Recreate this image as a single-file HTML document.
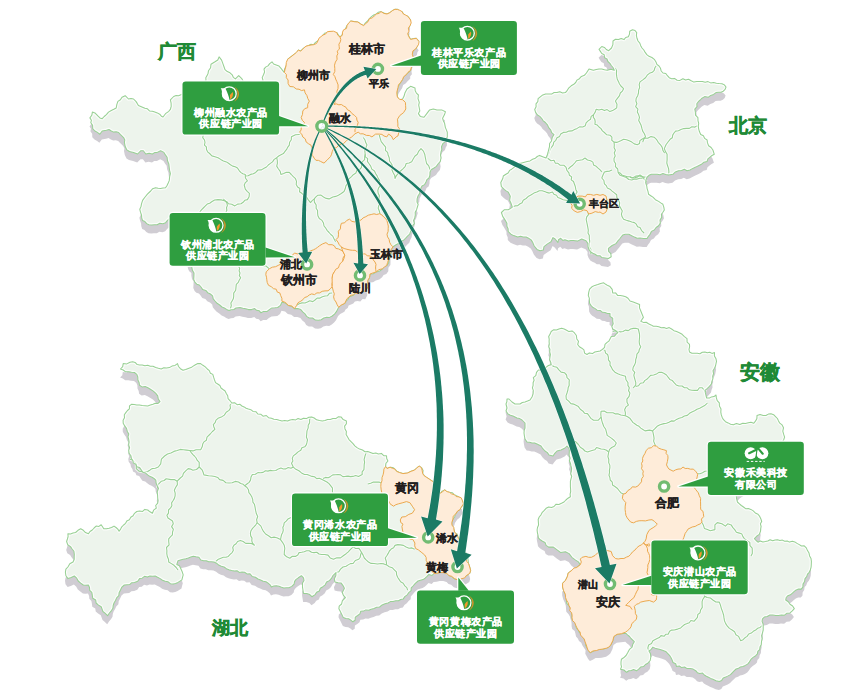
<!DOCTYPE html><html><head><meta charset="utf-8"><style>html,body{margin:0;padding:0;background:#fff;}body{width:859px;height:700px;overflow:hidden;position:relative;font-family:"Liberation Sans",sans-serif;}svg{position:absolute;left:0;top:0;display:block}.bt{font-family:"Liberation Sans",sans-serif;font-weight:bold;}</style></head><body>
<svg width="859" height="700" viewBox="0 0 859 700">
<defs><filter id="sh" x="-5%" y="-5%" width="110%" height="110%"><feGaussianBlur stdDeviation="0.75"/></filter></defs>
<polygon points="89.9,117.9 91.8,115.3 92.4,112.1 94.9,112.9 98.1,116.2 99.9,117.9 102.2,118.7 104.2,116.5 106.4,114.6 108.5,112.1 111.3,110.5 113.8,109.3 116.2,108.0 116.8,104.6 117.9,101.4 120.4,99.8 122.0,97.3 125.2,95.7 128.5,99.0 131.0,98.6 133.5,99.0 135.9,101.4 137.2,103.4 138.4,105.5 142.5,107.2 144.9,108.2 147.4,108.8 149.5,110.9 152.4,111.3 154.8,112.1 157.3,112.9 159.7,114.2 161.4,116.2 163.0,117.0 165.5,113.7 168.8,111.3 170.5,109.1 171.2,106.4 171.1,103.1 170.4,99.8 173.7,96.5 176.1,95.6 178.6,95.7 182.7,94.0 185.4,94.1 187.9,93.4 190.3,92.2 192.8,91.6 195.0,90.0 196.6,88.1 199.0,87.2 201.1,85.9 202.6,84.0 204.1,82.0 206.0,80.5 205.8,77.8 207.1,75.6 208.1,73.2 208.5,70.7 210.6,67.8 211.0,64.2 215.0,61.8 217.8,60.0 219.1,56.9 221.6,60.1 222.8,63.4 224.0,66.7 225.0,69.6 227.3,71.6 230.0,72.8 232.2,74.8 233.3,77.3 235.4,78.9 238.7,75.6 242.0,78.9 243.6,82.0 245.9,83.1 248.7,83.0 250.5,85.4 253.0,86.0 255.4,84.4 258.4,83.9 260.8,82.2 263.1,80.5 262.2,77.6 263.5,74.8 264.6,72.0 264.0,69.1 265.6,67.1 268.0,65.9 269.7,63.6 272.0,61.8 273.6,64.0 276.2,65.0 279.0,66.1 281.0,68.3 282.5,70.4 284.3,72.4 284.6,69.1 286.0,66.0 287.8,62.9 287.6,59.3 290.8,56.9 294.0,54.4 296.7,52.7 298.4,50.0 300.6,51.2 303.9,47.9 306.2,46.6 308.7,45.5 311.0,44.2 313.6,44.7 315.5,42.4 318.0,40.7 319.7,38.8 322.0,37.5 323.0,35.0 324.9,33.0 327.7,32.7 330.0,31.4 333.3,32.4 336.8,32.6 338.3,34.9 340.0,37.0 342.0,35.1 342.9,32.5 345.1,30.7 345.8,28.0 347.0,25.6 349.0,23.4 350.8,21.0 354.3,21.4 357.8,22.0 360.6,24.0 363.6,25.6 365.3,23.1 367.6,21.0 369.4,18.6 371.5,16.7 373.7,15.0 376.4,14.0 378.4,12.2 381.0,11.6 383.9,13.0 387.0,14.0 389.8,12.7 392.3,10.8 395.0,9.3 397.6,9.2 399.5,11.4 402.0,11.6 403.4,13.8 405.3,15.5 407.8,16.3 410.6,20.0 409.6,22.8 410.0,25.7 408.4,28.1 407.6,30.8 407.7,33.7 409.1,36.6 410.6,39.4 413.4,38.6 416.3,38.3 419.1,41.7 417.8,43.8 417.4,46.3 415.5,48.9 412.9,50.9 412.3,54.3 413.4,57.7 412.4,60.3 411.9,62.9 412.3,65.7 410.6,67.7 410.6,70.3 408.2,72.5 406.0,74.9 403.5,76.6 402.6,79.4 400.3,82.9 399.0,85.1 398.0,87.4 396.9,92.0 397.3,94.5 397.4,97.0 399.5,100.0 402.6,98.9 404.1,96.1 404.9,93.1 407.0,89.0 410.6,86.3 415.0,88.0 415.2,90.8 416.4,93.1 418.4,95.0 418.0,98.7 419.3,102.4 418.7,105.2 419.3,108.0 419.8,110.9 418.4,113.6 420.3,116.4 424.0,117.3 426.8,113.6 429.6,109.9 433.3,109.0 437.0,109.9 441.7,109.9 445.4,111.8 444.5,114.6 442.6,118.3 443.3,120.7 444.5,122.9 445.4,127.6 446.4,129.9 447.3,132.2 447.3,136.9 446.1,139.1 445.4,141.6 442.8,143.7 441.5,146.8 441.8,149.5 441.0,152.0 440.5,155.0 441.0,158.0 440.3,161.4 438.0,164.0 436.4,166.4 434.0,168.0 431.5,169.5 430.0,172.0 429.9,175.1 429.0,178.0 426.9,179.6 426.0,182.0 424.6,184.6 422.0,186.0 420.0,190.0 419.7,193.2 418.0,196.0 417.1,198.9 417.0,202.0 418.2,204.4 417.4,207.0 416.6,209.7 415.2,212.2 415.3,215.2 414.7,217.9 413.6,220.5 414.4,223.6 412.4,225.9 412.0,228.7 410.6,231.4 409.7,234.2 407.5,236.2 405.5,238.4 403.6,240.1 401.4,241.5 398.9,243.3 396.1,244.7 393.0,246.8 390.9,249.6 390.9,253.0 390.8,256.5 388.8,259.3 388.7,262.8 386.7,265.6 384.0,266.4 382.5,268.8 379.7,271.0 376.2,271.9 373.4,273.7 370.0,274.0 369.5,277.4 367.8,280.3 367.1,283.5 367.8,286.6 365.7,290.8 362.9,290.4 360.7,292.9 357.9,292.5 355.3,292.9 353.7,295.0 351.4,296.1 349.0,297.0 348.1,299.4 345.9,301.0 344.8,303.3 340.6,305.4 338.5,307.5 336.4,311.7 334.5,314.1 332.2,316.0 329.6,317.4 326.6,317.3 323.8,318.0 321.2,319.7 318.4,320.3 315.4,320.1 312.6,318.0 309.2,318.0 306.6,316.4 305.0,313.8 302.7,311.9 300.8,309.6 297.7,308.6 294.5,308.6 291.7,306.3 288.2,305.4 285.5,303.0 281.9,302.3 280.4,305.4 277.7,307.5 274.8,307.8 271.9,307.9 269.3,309.6 266.9,311.6 263.6,311.4 261.0,312.8 259.3,310.8 256.6,310.3 254.7,308.6 251.6,309.6 248.4,309.6 245.7,308.7 242.8,308.3 240.0,307.5 236.0,308.0 233.9,309.5 231.4,309.7 229.0,310.4 226.6,309.4 224.4,308.0 222.0,307.0 219.7,305.0 217.1,303.3 215.0,301.0 213.2,298.8 212.6,295.9 210.4,294.0 207.7,292.7 205.8,290.4 202.7,289.6 201.0,287.0 199.3,285.0 196.8,284.2 195.0,282.4 193.7,279.4 193.9,276.2 194.0,273.0 192.4,270.4 191.8,267.3 191.8,264.6 189.6,262.8 188.5,260.5 188.0,258.0 186.7,255.7 186.9,252.8 185.3,250.7 184.2,248.3 183.0,246.0 182.4,243.5 180.8,241.4 179.8,239.1 179.3,236.5 177.0,234.8 177.0,232.0 175.1,229.8 174.2,227.2 172.7,224.8 172.0,222.0 169.8,218.5 167.5,220.4 165.6,222.7 162.9,223.7 159.8,223.3 157.2,224.8 154.4,224.7 151.7,225.0 148.9,224.8 146.7,223.6 144.9,221.6 142.6,220.6 141.7,217.8 141.5,214.9 140.5,212.2 139.8,209.3 141.0,206.6 141.5,203.8 142.6,200.4 144.7,197.5 147.4,194.2 150.7,191.0 152.7,188.7 155.6,187.7 158.1,188.2 160.6,188.5 163.0,188.1 165.5,187.7 166.9,185.7 168.0,183.6 169.3,180.4 169.6,177.0 170.4,173.7 169.6,170.4 169.2,167.2 168.8,163.9 167.5,160.7 167.1,157.3 165.4,154.9 163.9,152.4 160.6,150.7 157.3,152.4 154.6,152.6 152.4,154.0 149.1,153.2 145.8,154.0 143.3,150.7 140.9,150.7 137.6,154.0 133.5,152.4 129.4,151.5 126.9,149.9 125.2,146.6 124.4,142.5 124.8,139.9 123.6,137.6 120.3,134.3 118.6,132.5 116.2,131.8 113.6,132.1 111.3,131.0 109.0,129.5 106.4,130.2 102.2,131.0 99.8,134.3 97.5,132.4 94.9,131.0 92.7,128.7 92.6,125.3 90.8,122.8 91.4,120.2" fill="#d0cdd3" transform="translate(-0.4,8.5)" filter="url(#sh)"/>
<polygon points="632.5,29.8 635.0,30.5 636.7,32.6 636.4,35.5 637.0,38.3 638.0,41.0 639.8,43.1 640.7,45.7 642.0,48.0 643.8,50.0 645.2,52.4 646.8,54.6 649.0,56.3 651.9,57.5 654.3,59.3 656.0,62.0 656.9,64.4 659.0,66.0 660.5,68.3 661.2,71.0 663.0,73.0 665.8,73.5 667.4,75.7 669.2,77.7 671.6,78.7 674.5,78.4 677.1,80.2 679.9,80.4 682.9,78.7 685.6,80.0 688.5,79.3 691.2,80.8 693.9,82.1 696.8,81.5 699.6,81.5 702.4,81.4 705.2,82.2 708.0,81.6 710.7,82.9 713.6,82.5 716.4,83.2 719.2,83.5 722.0,83.7 724.4,84.9 726.0,87.0 725.1,89.4 723.3,91.2 721.0,92.3 718.5,92.2 716.0,92.6 713.6,94.4 710.7,95.4 708.1,97.3 704.7,96.6 702.0,98.2 700.2,100.0 698.3,101.7 696.8,103.8 697.0,106.7 694.8,109.2 695.4,112.2 695.5,115.2 697.9,117.6 698.0,120.6 698.7,123.4 698.3,126.3 698.7,129.1 699.5,131.8 700.7,134.5 703.4,135.8 704.7,138.4 707.1,140.0 707.5,142.9 708.6,145.7 711.1,147.5 712.9,150.0 714.3,154.3 712.0,155.5 710.0,157.1 707.9,158.8 707.1,161.4 703.9,162.2 701.4,164.3 698.5,165.7 695.7,167.1 692.8,168.4 690.0,170.0 687.0,170.7 684.3,169.3 681.6,170.5 678.6,170.7 675.4,171.9 672.9,174.3 668.6,175.0 665.7,174.5 662.9,173.6 660.1,174.7 657.1,174.3 654.2,174.2 651.4,174.3 649.0,175.3 647.1,177.1 646.0,179.9 645.7,182.9 646.7,185.7 647.1,188.6 648.0,191.4 648.6,194.3 650.7,195.7 652.9,197.1 655.4,199.7 658.6,201.4 660.7,202.9 662.9,204.3 663.8,207.1 664.3,210.0 662.9,212.2 661.4,214.3 661.7,217.4 660.0,220.0 660.3,223.1 658.6,225.7 656.1,227.5 654.3,230.0 651.4,231.4 650.0,234.3 648.4,236.3 647.1,238.6 643.5,238.5 640.0,238.0 637.1,238.3 634.5,237.1 631.7,235.7 628.9,234.3 625.2,234.3 622.7,235.1 621.1,237.0 619.6,239.0 617.7,241.2 615.9,243.6 612.1,245.5 608.4,248.3 608.6,251.4 610.8,253.7 611.2,256.7 608.4,258.5 605.2,258.0 601.9,257.6 599.9,255.7 597.2,255.7 595.1,254.3 592.8,253.3 590.7,252.0 588.9,249.2 587.9,246.5 588.0,243.6 586.0,240.8 581.7,239.0 577.5,241.1 573.3,240.4 570.8,240.6 568.4,241.1 564.9,239.7 562.8,240.4 560.7,238.3 558.5,239.8 557.9,242.5 555.1,239.0 553.0,237.6 551.0,241.8 547.5,243.9 544.0,246.6 543.3,250.1 540.0,250.8 537.0,249.4 534.2,246.0 532.7,242.4 531.1,239.9 528.6,238.3 526.1,237.0 523.2,237.0 520.5,236.2 517.7,237.0 513.7,235.6 510.9,234.2 508.2,231.5 508.1,228.7 506.9,226.1 506.9,223.2 505.5,220.7 504.2,218.6 502.8,216.6 501.4,212.5 504.2,209.8 508.2,209.8 510.3,208.6 512.3,207.1 510.9,203.0 509.6,200.3 510.3,196.2 508.2,192.1 506.1,190.9 504.2,189.4 501.4,186.7 500.8,182.6 502.8,178.5 503.3,176.0 505.5,174.5 508.1,173.0 509.6,170.4 511.7,169.2 513.7,167.7 516.0,165.1 519.1,163.6 521.8,162.9 524.5,162.2 527.2,161.5 530.0,160.9 532.6,159.3 535.4,158.2 537.3,156.5 539.5,155.4 542.7,156.8 546.0,158.0 547.2,155.3 548.0,152.5 548.7,149.6 549.5,146.7 549.6,143.5 551.5,141.0 552.2,137.6 554.0,134.6 551.7,132.7 550.6,129.8 548.7,127.6 547.4,124.8 545.4,122.5 543.0,120.6 541.6,118.3 539.8,116.4 537.5,115.0 535.6,112.4 534.7,109.4 536.1,106.8 536.0,103.8 537.8,101.7 538.1,98.7 540.3,96.8 542.8,94.9 545.6,93.9 548.7,94.0 551.6,94.1 554.1,92.5 557.0,92.6 559.8,91.7 562.6,92.9 565.4,92.6 567.3,90.3 568.9,87.8 571.2,85.8 573.8,84.3 575.7,82.5 577.0,80.1 579.4,78.7 581.4,76.4 584.4,75.3 586.4,73.0 589.0,69.0 593.4,70.3 596.2,69.6 599.0,69.0 601.8,69.0 604.5,69.8 607.3,70.3 610.8,69.3 614.3,70.3 613.0,67.5 611.3,65.5 609.9,63.4 607.9,61.5 607.0,59.0 604.6,57.8 604.2,54.7 601.8,53.5 600.4,51.4 599.0,49.3 601.8,46.5 604.4,47.4 606.3,49.5 608.7,50.7 611.5,48.0 612.9,44.6 613.0,41.0 615.5,39.3 618.5,39.6 621.2,38.5 624.0,39.6 625.7,37.5 628.3,36.8 629.5,34.1 629.7,31.2" fill="#d0cdd3" transform="translate(-0.4,8.5)" filter="url(#sh)"/>
<polygon points="120.5,369.0 122.7,366.7 123.2,363.6 126.8,363.9 130.0,362.2 132.7,361.8 135.1,362.4 137.2,364.6 139.6,364.9 142.2,365.0 144.9,365.7 147.7,365.2 150.3,366.2 153.0,366.3 155.7,367.4 158.4,368.3 161.2,369.0 163.8,367.8 166.6,367.9 169.4,367.6 172.0,366.1 175.0,365.4 177.5,363.6 178.5,366.5 180.4,368.7 183.0,370.3 185.7,369.5 188.3,368.4 191.0,367.6 193.2,366.1 195.4,364.7 197.8,363.6 200.6,363.6 202.9,365.3 205.3,366.9 207.3,369.0 209.3,370.6 210.4,373.2 212.8,374.4 213.6,377.2 214.5,379.9 215.5,382.6 217.7,384.0 219.9,385.5 221.0,388.0 223.0,389.5 225.1,391.0 226.3,393.4 227.7,395.8 228.1,398.7 230.1,400.8 231.8,403.0 234.6,402.7 237.1,404.7 240.0,404.3 241.9,406.0 244.1,406.9 246.1,408.3 248.4,409.1 250.8,409.7 253.0,411.4 255.9,411.7 257.8,414.0 260.7,414.2 263.0,416.2 266.3,415.5 268.5,417.7 271.4,418.2 273.9,419.3 276.7,419.5 279.3,420.3 282.0,420.9 284.7,420.5 287.5,421.1 290.1,419.9 292.8,419.5 295.6,419.9 298.1,418.5 300.9,419.4 303.5,418.2 306.3,418.6 308.9,417.2 311.6,416.9 314.2,418.0 316.6,419.8 319.5,420.4 322.3,420.9 325.0,420.4 327.5,419.4 330.3,419.5 332.9,418.5 335.8,418.6 338.2,416.8 341.0,416.9 343.2,419.6 346.4,420.9 346.4,423.7 344.6,426.1 345.0,428.9 346.4,431.4 346.1,434.6 347.6,437.1 349.0,439.6 351.0,441.6 353.0,443.6 354.8,445.8 357.0,447.6 359.6,449.1 362.5,450.0 365.0,451.7 367.8,451.4 370.4,452.4 373.0,453.6 375.8,453.0 378.4,453.9 381.4,453.4 383.7,455.7 386.5,455.7 386.7,458.5 387.9,461.0 385.9,463.4 385.5,466.6 387.0,468.5 390.1,467.2 392.7,467.5 394.8,469.0 396.8,471.2 399.4,472.5 402.9,473.6 407.6,473.0 411.1,471.3 414.6,470.1 416.9,467.8 419.2,466.1 421.6,467.8 423.1,470.5 422.7,473.6 424.2,475.6 426.2,477.1 429.7,479.4 433.2,481.8 435.5,484.1 437.2,486.9 438.0,490.0 440.2,493.4 442.1,491.2 444.8,489.9 446.8,491.8 449.5,492.3 452.2,492.7 454.2,494.6 456.5,495.8 458.8,496.9 460.0,499.2 462.3,500.4 463.5,503.9 461.1,507.4 459.8,509.5 457.7,510.9 455.3,514.4 454.7,517.0 453.0,519.0 451.8,522.5 451.7,525.2 453.4,527.5 454.0,530.0 454.8,532.6 457.3,534.3 457.9,537.1 459.4,539.3 460.0,542.0 460.8,544.4 463.0,546.1 462.4,549.2 464.4,551.0 466.2,553.2 465.6,556.2 467.9,558.2 468.2,560.8 468.5,563.5 469.7,567.0 470.6,570.5 469.7,573.4 466.2,575.7 463.8,576.6 462.1,578.6 457.5,579.8 454.2,578.7 451.6,576.3 448.9,575.4 447.0,573.4 443.6,572.5 440.0,572.5 437.0,573.2 434.0,573.5 432.1,575.4 428.9,574.4 427.0,576.4 425.1,578.2 423.0,579.6 420.4,580.2 418.0,581.0 415.3,583.3 413.0,586.0 411.2,587.9 411.1,590.7 409.0,592.4 407.2,594.8 404.8,596.6 403.3,598.9 400.7,599.5 398.5,600.8 395.8,600.8 393.1,601.4 390.4,601.6 388.0,603.0 385.0,603.8 382.1,604.9 379.6,607.0 376.7,607.3 374.0,608.5 371.2,609.2 368.7,610.3 365.9,609.9 363.5,611.1 360.8,611.2 359.9,613.8 357.7,615.5 355.3,617.1 355.1,620.2 352.8,621.8 350.8,620.1 348.6,618.7 345.9,618.4 343.3,617.6 341.8,614.4 340.2,611.3 338.9,608.8 339.2,606.1 341.6,604.0 342.3,600.9 345.4,597.7 343.4,595.4 342.3,592.5 344.4,588.3 343.0,585.6 341.2,583.1 338.1,582.7 335.0,582.0 334.3,578.8 335.8,575.7 336.0,572.6 332.9,575.7 331.4,578.4 329.4,580.6 326.6,582.0 325.2,584.8 322.9,586.7 320.3,588.3 319.3,591.0 316.6,592.3 315.1,594.6 311.9,596.7 309.8,594.6 306.7,593.5 303.5,593.5 303.0,590.3 302.5,587.2 302.5,583.1 304.0,580.6 303.5,577.8 301.4,575.7 298.3,577.8 296.1,579.4 294.6,581.4 294.1,584.1 291.8,586.4 288.9,587.8 286.4,587.7 283.9,587.9 281.5,587.2 279.0,586.3 276.3,585.7 273.8,586.1 271.4,587.0 270.1,584.8 268.1,583.1 266.0,581.7 263.2,581.3 260.6,580.1 258.0,579.0 255.4,577.2 252.1,576.4 250.0,573.7 247.0,573.9 244.6,572.2 242.0,572.1 239.4,572.4 237.0,570.8 234.4,571.0 231.6,570.5 228.9,569.8 226.4,568.7 224.1,567.0 221.3,566.3 218.7,565.1 216.5,563.2 213.9,562.0 211.3,561.8 208.7,561.8 206.2,560.7 203.6,560.7 200.8,560.0 198.9,557.3 196.0,556.8 193.3,556.2 190.8,557.1 188.3,558.0 185.8,558.8 183.1,559.3 180.5,559.9 178.0,560.7 176.8,564.5 179.4,565.7 180.6,568.3 182.1,571.5 183.2,574.8 182.5,577.3 181.9,579.9 178.0,582.4 175.6,583.5 173.1,584.1 170.4,583.7 168.1,581.8 165.2,581.2 162.5,580.2 160.2,578.6 157.6,577.3 155.2,576.0 152.5,576.2 149.9,576.0 147.4,577.1 144.5,576.3 142.2,578.2 139.6,578.6 137.7,581.3 134.5,582.4 131.8,582.7 129.6,584.6 127.0,584.8 124.3,585.0 121.9,587.1 120.5,589.9 119.1,592.7 118.8,595.7 116.6,597.9 115.5,600.5 114.0,603.0 113.2,605.5 112.9,608.3 111.5,610.6 109.4,613.0 107.6,615.7 105.0,613.2 102.9,611.5 102.1,609.2 101.2,606.8 98.5,605.1 96.1,603.0 95.7,600.0 92.7,598.2 92.3,595.2 91.8,592.4 89.7,590.3 89.5,587.5 88.4,585.0 85.8,585.2 83.3,585.0 80.7,583.1 78.2,581.0 76.7,578.2 74.3,576.0 71.2,577.5 68.0,578.6 65.9,575.7 65.4,572.2 65.9,569.2 67.9,567.0 69.8,563.8 73.0,562.0 74.2,559.6 74.2,556.9 74.3,554.3 73.9,551.3 72.1,549.0 70.5,546.6 67.7,544.7 66.6,541.5 67.4,539.0 68.1,536.5 67.9,533.8 70.5,533.9 73.0,532.9 75.6,532.5 78.0,530.3 80.7,528.7 83.3,530.3 85.5,532.6 88.4,533.8 90.0,531.5 92.3,530.0 94.1,528.0 96.1,526.1 98.9,526.4 101.2,524.8 103.8,528.7 106.5,528.7 109.1,528.3 111.6,527.5 114.0,526.1 116.0,527.5 117.8,529.1 119.1,531.2 120.6,529.1 121.8,526.8 123.6,525.0 125.6,523.3 126.8,521.0 129.4,519.7 130.8,517.3 133.1,515.7 134.5,513.3 136.8,511.5 139.5,511.1 142.6,511.4 144.8,509.4 147.7,510.0 150.0,511.8 152.4,513.3 153.6,510.2 156.3,508.2 155.7,505.5 157.7,503.2 158.1,500.6 157.7,498.0 157.6,495.4 157.2,491.8 158.5,488.4 157.2,485.8 156.1,483.1 155.8,480.2 154.0,478.5 152.0,477.2 149.7,476.3 147.7,474.8 145.6,473.1 142.8,472.2 141.2,469.9 139.6,467.5 136.8,466.7 135.9,464.3 133.4,463.1 132.8,460.5 131.4,458.5 130.9,455.7 129.1,453.3 128.7,450.4 129.6,447.7 128.6,444.9 129.1,442.2 128.7,439.5 128.0,436.8 128.8,433.9 127.3,431.4 126.5,428.4 124.7,425.9 123.2,423.2 123.1,420.3 124.5,417.8 124.3,414.8 126.0,412.4 127.5,410.5 129.4,408.8 129.5,405.9 131.4,404.3 134.1,404.6 136.8,404.9 139.5,405.1 142.2,405.6 145.0,405.7 147.7,405.9 150.4,405.1 153.0,404.3 155.3,403.3 158.0,403.4 160.0,401.5 158.3,399.0 157.7,395.9 155.8,393.4 153.3,391.1 150.4,389.3 147.9,387.8 145.2,386.6 142.0,386.9 139.5,385.3 139.1,382.5 137.9,379.9 137.8,377.0 136.8,374.4 134.4,372.5 131.5,372.3 128.7,371.7 125.6,371.8 123.2,370.0" fill="#d0cdd3" transform="translate(-0.4,8.5)" filter="url(#sh)"/>
<polygon points="589.6,289.2 591.9,286.8 594.8,285.4 597.8,284.6 600.7,283.4 603.7,282.8 605.7,284.3 607.8,285.6 610.0,286.6 612.2,289.4 612.7,293.0 615.6,292.9 617.6,295.4 620.4,295.6 623.1,296.0 625.7,296.8 628.0,298.2 630.0,301.0 633.2,302.0 636.4,303.2 639.6,304.6 639.5,307.9 640.8,311.0 642.1,314.2 643.4,317.4 640.8,321.2 643.3,322.4 646.2,322.2 648.5,323.8 651.0,324.9 653.4,326.2 656.2,326.3 658.8,326.8 661.3,327.7 664.0,327.6 666.5,328.4 669.2,327.6 671.6,329.0 673.9,330.7 676.6,331.6 679.3,332.7 682.1,334.3 684.4,336.6 687.0,338.6 687.1,342.2 689.5,344.3 689.6,346.9 689.0,349.4 689.5,352.0 691.9,353.2 694.6,353.3 697.2,353.2 699.9,353.7 702.3,352.2 704.9,352.0 707.3,352.8 709.7,352.2 712.0,353.4 714.5,352.6 714.4,355.9 716.0,358.8 716.5,361.3 716.0,363.7 715.5,366.0 714.5,368.3 713.0,370.7 713.6,373.6 712.7,376.1 712.9,378.9 711.9,381.4 711.4,384.0 709.4,386.3 707.4,388.4 705.0,390.3 705.4,392.9 706.0,395.5 706.7,398.0 709.3,398.1 711.5,396.9 714.0,396.6 716.0,395.0 716.4,397.9 717.2,400.6 719.3,402.8 719.4,406.0 721.0,408.9 720.8,412.2 721.3,414.9 722.2,417.4 723.5,419.7 725.5,421.7 728.1,422.9 730.6,424.2 733.4,424.8 736.4,423.6 739.8,424.5 742.8,423.2 745.5,423.4 748.3,422.7 751.0,422.2 753.8,423.2 755.6,420.9 756.9,418.4 757.0,415.4 760.1,414.5 763.2,415.4 765.9,415.5 768.4,414.1 771.0,413.8 773.6,414.7 775.5,416.6 777.4,418.5 778.5,420.9 779.8,423.2 782.0,424.8 783.5,427.8 782.8,431.1 783.6,434.2 784.6,437.1 783.6,440.0 782.2,442.3 782.1,445.1 780.1,447.2 780.0,450.0 777.7,451.6 777.1,454.3 774.8,455.8 774.6,458.8 773.6,461.2 771.2,462.7 770.0,465.0 768.9,467.6 766.7,469.2 764.5,470.8 762.3,472.3 761.2,474.9 759.5,477.0 756.3,477.6 755.0,480.0 753.1,481.8 750.2,482.0 748.1,483.6 746.6,485.9 744.3,487.2 742.1,488.5 740.0,490.0 737.8,492.5 736.2,495.3 736.6,498.7 737.4,502.0 739.4,503.8 741.3,505.5 743.5,507.0 745.6,508.7 748.4,508.6 750.8,509.4 753.3,510.9 755.3,513.0 758.0,514.2 759.7,516.4 760.9,518.9 761.7,521.5 760.4,523.8 761.1,526.4 760.7,528.8 760.5,531.3 759.3,534.4 756.6,536.3 754.4,538.6 756.1,540.5 758.0,542.2 760.3,540.9 762.9,541.9 765.4,541.6 767.8,541.0 770.1,539.7 772.7,540.7 775.1,540.0 777.5,539.8 779.9,540.5 782.4,540.1 784.7,541.2 787.2,541.0 789.5,542.1 792.4,541.2 794.8,541.9 797.0,543.4 799.3,544.6 801.5,546.0 804.2,545.8 806.3,547.9 807.5,550.6 809.0,553.1 809.6,555.9 811.0,558.5 811.4,561.4 811.3,564.3 811.1,567.2 810.3,570.0 809.2,572.3 807.5,574.2 806.7,576.7 805.0,578.6 804.6,581.5 803.0,584.1 802.9,587.1 801.2,589.1 798.5,589.1 796.2,589.9 794.3,591.4 792.4,593.2 790.4,594.8 787.9,595.7 786.2,597.5 785.7,600.0 788.3,601.7 790.0,604.3 792.6,606.0 794.3,608.6 792.3,610.9 790.0,612.9 787.0,613.2 784.5,615.2 781.4,615.0 778.6,615.4 775.7,615.4 772.9,615.0 769.9,615.0 767.2,616.5 764.3,617.1 762.5,618.9 762.1,621.4 763.2,624.2 763.2,627.1 763.2,630.0 762.5,632.8 761.6,635.6 762.1,638.6 761.5,641.5 761.3,644.4 760.0,647.1 759.7,649.6 757.8,651.4 757.4,653.9 755.7,655.7 753.1,657.4 750.9,659.4 749.3,662.1 747.6,664.1 745.3,665.4 742.9,666.4 740.4,666.9 738.5,668.3 736.1,669.0 734.3,670.7 732.4,672.6 730.5,674.6 728.1,675.9 725.7,677.1 723.2,678.0 721.7,680.4 719.3,681.4 716.0,680.7 712.9,679.3 710.7,678.4 708.5,677.3 706.4,676.3 704.3,675.0 702.6,673.1 699.7,673.5 697.4,672.7 695.7,670.7 693.1,669.1 690.2,668.5 687.1,668.6 684.6,667.0 681.7,667.6 679.3,666.0 676.4,666.4 675.7,663.7 673.0,662.5 672.1,660.0 670.9,657.5 669.5,655.3 667.6,653.3 665.7,651.4 662.5,650.3 659.3,649.3 655.9,648.6 652.9,647.1 651.2,649.3 649.0,651.0 650.5,653.8 650.8,657.0 650.2,660.5 647.8,663.2 645.4,664.5 643.5,666.6 640.6,667.1 638.7,669.2 636.5,670.8 633.6,669.6 631.3,670.6 628.8,670.8 626.6,672.3 623.9,670.0 620.5,669.2 621.5,666.9 621.0,664.4 621.0,662.0 621.4,659.3 623.6,657.8 626.1,655.5 627.8,652.5 629.4,649.4 632.1,647.1 632.8,644.2 634.3,641.7 631.0,638.5 629.5,636.5 627.5,634.9 625.7,633.2 621.4,633.7 617.1,634.3 613.9,636.4 612.8,640.7 610.7,645.0 608.7,646.8 606.4,648.2 602.1,649.2 599.3,649.5 596.0,649.6 593.2,651.3 590.3,652.6 588.5,650.5 587.2,648.0 585.7,645.2 586.0,641.7 584.2,639.0 582.7,636.8 581.7,634.2 579.4,632.4 578.2,630.0 576.4,627.9 575.8,625.1 575.1,622.4 572.6,620.6 572.0,617.8 572.0,615.2 571.7,612.7 570.9,610.4 570.3,607.9 569.0,605.7 566.7,603.3 566.4,600.0 566.2,597.2 565.4,594.4 563.6,590.7 562.6,587.0 562.6,583.3 565.4,580.5 567.3,576.8 568.2,573.1 571.9,570.3 574.7,569.6 576.6,567.5 580.3,564.7 578.4,561.9 575.6,560.1 571.9,557.3 569.1,553.6 565.4,551.7 560.8,552.6 557.1,549.9 553.4,547.1 548.7,547.1 546.1,545.4 545.0,542.4 542.5,541.3 540.3,539.8 538.4,537.8 538.0,535.2 537.4,532.6 537.1,530.0 537.5,527.5 538.6,525.0 538.4,522.4 538.2,519.5 539.2,517.0 541.0,514.8 542.3,512.3 544.3,510.3 546.1,508.3 548.7,507.0 551.5,507.4 554.0,506.5 556.1,504.2 558.9,504.5 561.5,503.3 564.0,502.0 565.9,500.0 568.0,498.2 570.4,496.8 570.1,494.2 570.7,491.7 570.6,489.2 570.4,486.6 570.4,484.0 570.4,481.4 571.0,478.8 571.7,476.3 570.7,473.7 571.4,471.0 571.6,468.3 570.9,465.7 570.4,463.2 569.4,460.7 570.1,458.1 569.1,455.1 569.3,452.1 569.3,449.0 567.0,446.0 565.0,448.0 561.0,450.0 557.0,451.0 554.8,453.4 553.0,456.0 549.0,455.0 547.4,452.6 545.0,451.0 542.8,448.7 541.0,446.0 537.0,444.0 534.6,442.9 532.0,443.0 529.6,442.2 527.0,442.0 525.0,439.0 524.4,436.0 524.0,433.0 524.2,430.4 525.0,428.0 525.0,425.5 525.0,423.0 522.0,420.0 519.7,418.6 517.0,418.0 513.0,416.0 510.4,415.2 508.0,414.0 506.0,411.0 507.0,408.0 506.0,404.0 506.9,401.6 507.0,399.0 509.0,399.0 512.0,402.0 515.0,404.0 517.5,403.9 520.0,404.0 522.3,402.5 525.0,402.0 527.5,401.1 530.0,400.0 532.0,397.0 533.1,393.8 533.3,390.4 532.4,387.8 533.1,385.3 533.1,382.7 534.1,380.2 533.3,377.6 535.8,375.6 536.5,372.4 538.4,370.0 541.2,369.9 543.7,368.8 546.0,367.3 548.4,365.5 551.2,364.7 550.7,362.1 549.6,359.7 550.0,357.0 550.4,354.4 549.7,351.9 549.9,349.2 548.7,346.8 549.3,344.2 549.1,341.7 549.2,339.2 548.7,336.6 550.1,334.1 551.2,331.5 553.5,329.8 556.4,330.0 558.9,329.0 561.6,328.3 564.2,329.0 566.6,330.2 569.0,331.6 572.0,330.9 574.3,332.7 576.4,335.5 576.8,339.0 578.5,341.3 577.7,344.5 579.4,346.8 581.8,348.2 583.9,349.9 584.6,353.1 587.0,354.5 589.3,352.9 592.4,353.6 594.8,352.0 597.5,351.5 600.1,351.0 602.4,349.4 604.6,347.3 605.0,344.3 606.8,342.7 608.8,341.2 610.0,339.0 611.3,336.6 614.3,336.3 615.9,334.3 617.8,332.7 615.5,330.5 612.7,329.0 611.8,326.4 613.2,323.8 612.7,321.2 612.7,318.3 610.0,316.4 610.0,313.5 607.4,313.5 605.0,312.6 602.4,312.3 600.2,310.4 597.1,310.2 594.8,308.4 592.6,307.2 590.9,305.4 589.6,303.3 589.4,300.7 589.3,298.1 588.3,295.6 588.7,292.4" fill="#d0cdd3" transform="translate(-0.4,8.5)" filter="url(#sh)"/>
<polygon points="89.9,117.9 91.8,115.3 92.4,112.1 94.9,112.9 98.1,116.2 99.9,117.9 102.2,118.7 104.2,116.5 106.4,114.6 108.5,112.1 111.3,110.5 113.8,109.3 116.2,108.0 116.8,104.6 117.9,101.4 120.4,99.8 122.0,97.3 125.2,95.7 128.5,99.0 131.0,98.6 133.5,99.0 135.9,101.4 137.2,103.4 138.4,105.5 142.5,107.2 144.9,108.2 147.4,108.8 149.5,110.9 152.4,111.3 154.8,112.1 157.3,112.9 159.7,114.2 161.4,116.2 163.0,117.0 165.5,113.7 168.8,111.3 170.5,109.1 171.2,106.4 171.1,103.1 170.4,99.8 173.7,96.5 176.1,95.6 178.6,95.7 182.7,94.0 185.4,94.1 187.9,93.4 190.3,92.2 192.8,91.6 195.0,90.0 196.6,88.1 199.0,87.2 201.1,85.9 202.6,84.0 204.1,82.0 206.0,80.5 205.8,77.8 207.1,75.6 208.1,73.2 208.5,70.7 210.6,67.8 211.0,64.2 215.0,61.8 217.8,60.0 219.1,56.9 221.6,60.1 222.8,63.4 224.0,66.7 225.0,69.6 227.3,71.6 230.0,72.8 232.2,74.8 233.3,77.3 235.4,78.9 238.7,75.6 242.0,78.9 243.6,82.0 245.9,83.1 248.7,83.0 250.5,85.4 253.0,86.0 255.4,84.4 258.4,83.9 260.8,82.2 263.1,80.5 262.2,77.6 263.5,74.8 264.6,72.0 264.0,69.1 265.6,67.1 268.0,65.9 269.7,63.6 272.0,61.8 273.6,64.0 276.2,65.0 279.0,66.1 281.0,68.3 282.5,70.4 284.3,72.4 284.6,69.1 286.0,66.0 287.8,62.9 287.6,59.3 290.8,56.9 294.0,54.4 296.7,52.7 298.4,50.0 300.6,51.2 303.9,47.9 306.2,46.6 308.7,45.5 311.0,44.2 313.6,44.7 315.5,42.4 318.0,40.7 319.7,38.8 322.0,37.5 323.0,35.0 324.9,33.0 327.7,32.7 330.0,31.4 333.3,32.4 336.8,32.6 338.3,34.9 340.0,37.0 342.0,35.1 342.9,32.5 345.1,30.7 345.8,28.0 347.0,25.6 349.0,23.4 350.8,21.0 354.3,21.4 357.8,22.0 360.6,24.0 363.6,25.6 365.3,23.1 367.6,21.0 369.4,18.6 371.5,16.7 373.7,15.0 376.4,14.0 378.4,12.2 381.0,11.6 383.9,13.0 387.0,14.0 389.8,12.7 392.3,10.8 395.0,9.3 397.6,9.2 399.5,11.4 402.0,11.6 403.4,13.8 405.3,15.5 407.8,16.3 410.6,20.0 409.6,22.8 410.0,25.7 408.4,28.1 407.6,30.8 407.7,33.7 409.1,36.6 410.6,39.4 413.4,38.6 416.3,38.3 419.1,41.7 417.8,43.8 417.4,46.3 415.5,48.9 412.9,50.9 412.3,54.3 413.4,57.7 412.4,60.3 411.9,62.9 412.3,65.7 410.6,67.7 410.6,70.3 408.2,72.5 406.0,74.9 403.5,76.6 402.6,79.4 400.3,82.9 399.0,85.1 398.0,87.4 396.9,92.0 397.3,94.5 397.4,97.0 399.5,100.0 402.6,98.9 404.1,96.1 404.9,93.1 407.0,89.0 410.6,86.3 415.0,88.0 415.2,90.8 416.4,93.1 418.4,95.0 418.0,98.7 419.3,102.4 418.7,105.2 419.3,108.0 419.8,110.9 418.4,113.6 420.3,116.4 424.0,117.3 426.8,113.6 429.6,109.9 433.3,109.0 437.0,109.9 441.7,109.9 445.4,111.8 444.5,114.6 442.6,118.3 443.3,120.7 444.5,122.9 445.4,127.6 446.4,129.9 447.3,132.2 447.3,136.9 446.1,139.1 445.4,141.6 442.8,143.7 441.5,146.8 441.8,149.5 441.0,152.0 440.5,155.0 441.0,158.0 440.3,161.4 438.0,164.0 436.4,166.4 434.0,168.0 431.5,169.5 430.0,172.0 429.9,175.1 429.0,178.0 426.9,179.6 426.0,182.0 424.6,184.6 422.0,186.0 420.0,190.0 419.7,193.2 418.0,196.0 417.1,198.9 417.0,202.0 418.2,204.4 417.4,207.0 416.6,209.7 415.2,212.2 415.3,215.2 414.7,217.9 413.6,220.5 414.4,223.6 412.4,225.9 412.0,228.7 410.6,231.4 409.7,234.2 407.5,236.2 405.5,238.4 403.6,240.1 401.4,241.5 398.9,243.3 396.1,244.7 393.0,246.8 390.9,249.6 390.9,253.0 390.8,256.5 388.8,259.3 388.7,262.8 386.7,265.6 384.0,266.4 382.5,268.8 379.7,271.0 376.2,271.9 373.4,273.7 370.0,274.0 369.5,277.4 367.8,280.3 367.1,283.5 367.8,286.6 365.7,290.8 362.9,290.4 360.7,292.9 357.9,292.5 355.3,292.9 353.7,295.0 351.4,296.1 349.0,297.0 348.1,299.4 345.9,301.0 344.8,303.3 340.6,305.4 338.5,307.5 336.4,311.7 334.5,314.1 332.2,316.0 329.6,317.4 326.6,317.3 323.8,318.0 321.2,319.7 318.4,320.3 315.4,320.1 312.6,318.0 309.2,318.0 306.6,316.4 305.0,313.8 302.7,311.9 300.8,309.6 297.7,308.6 294.5,308.6 291.7,306.3 288.2,305.4 285.5,303.0 281.9,302.3 280.4,305.4 277.7,307.5 274.8,307.8 271.9,307.9 269.3,309.6 266.9,311.6 263.6,311.4 261.0,312.8 259.3,310.8 256.6,310.3 254.7,308.6 251.6,309.6 248.4,309.6 245.7,308.7 242.8,308.3 240.0,307.5 236.0,308.0 233.9,309.5 231.4,309.7 229.0,310.4 226.6,309.4 224.4,308.0 222.0,307.0 219.7,305.0 217.1,303.3 215.0,301.0 213.2,298.8 212.6,295.9 210.4,294.0 207.7,292.7 205.8,290.4 202.7,289.6 201.0,287.0 199.3,285.0 196.8,284.2 195.0,282.4 193.7,279.4 193.9,276.2 194.0,273.0 192.4,270.4 191.8,267.3 191.8,264.6 189.6,262.8 188.5,260.5 188.0,258.0 186.7,255.7 186.9,252.8 185.3,250.7 184.2,248.3 183.0,246.0 182.4,243.5 180.8,241.4 179.8,239.1 179.3,236.5 177.0,234.8 177.0,232.0 175.1,229.8 174.2,227.2 172.7,224.8 172.0,222.0 169.8,218.5 167.5,220.4 165.6,222.7 162.9,223.7 159.8,223.3 157.2,224.8 154.4,224.7 151.7,225.0 148.9,224.8 146.7,223.6 144.9,221.6 142.6,220.6 141.7,217.8 141.5,214.9 140.5,212.2 139.8,209.3 141.0,206.6 141.5,203.8 142.6,200.4 144.7,197.5 147.4,194.2 150.7,191.0 152.7,188.7 155.6,187.7 158.1,188.2 160.6,188.5 163.0,188.1 165.5,187.7 166.9,185.7 168.0,183.6 169.3,180.4 169.6,177.0 170.4,173.7 169.6,170.4 169.2,167.2 168.8,163.9 167.5,160.7 167.1,157.3 165.4,154.9 163.9,152.4 160.6,150.7 157.3,152.4 154.6,152.6 152.4,154.0 149.1,153.2 145.8,154.0 143.3,150.7 140.9,150.7 137.6,154.0 133.5,152.4 129.4,151.5 126.9,149.9 125.2,146.6 124.4,142.5 124.8,139.9 123.6,137.6 120.3,134.3 118.6,132.5 116.2,131.8 113.6,132.1 111.3,131.0 109.0,129.5 106.4,130.2 102.2,131.0 99.8,134.3 97.5,132.4 94.9,131.0 92.7,128.7 92.6,125.3 90.8,122.8 91.4,120.2" fill="#edf4ec"/>
<polygon points="632.5,29.8 635.0,30.5 636.7,32.6 636.4,35.5 637.0,38.3 638.0,41.0 639.8,43.1 640.7,45.7 642.0,48.0 643.8,50.0 645.2,52.4 646.8,54.6 649.0,56.3 651.9,57.5 654.3,59.3 656.0,62.0 656.9,64.4 659.0,66.0 660.5,68.3 661.2,71.0 663.0,73.0 665.8,73.5 667.4,75.7 669.2,77.7 671.6,78.7 674.5,78.4 677.1,80.2 679.9,80.4 682.9,78.7 685.6,80.0 688.5,79.3 691.2,80.8 693.9,82.1 696.8,81.5 699.6,81.5 702.4,81.4 705.2,82.2 708.0,81.6 710.7,82.9 713.6,82.5 716.4,83.2 719.2,83.5 722.0,83.7 724.4,84.9 726.0,87.0 725.1,89.4 723.3,91.2 721.0,92.3 718.5,92.2 716.0,92.6 713.6,94.4 710.7,95.4 708.1,97.3 704.7,96.6 702.0,98.2 700.2,100.0 698.3,101.7 696.8,103.8 697.0,106.7 694.8,109.2 695.4,112.2 695.5,115.2 697.9,117.6 698.0,120.6 698.7,123.4 698.3,126.3 698.7,129.1 699.5,131.8 700.7,134.5 703.4,135.8 704.7,138.4 707.1,140.0 707.5,142.9 708.6,145.7 711.1,147.5 712.9,150.0 714.3,154.3 712.0,155.5 710.0,157.1 707.9,158.8 707.1,161.4 703.9,162.2 701.4,164.3 698.5,165.7 695.7,167.1 692.8,168.4 690.0,170.0 687.0,170.7 684.3,169.3 681.6,170.5 678.6,170.7 675.4,171.9 672.9,174.3 668.6,175.0 665.7,174.5 662.9,173.6 660.1,174.7 657.1,174.3 654.2,174.2 651.4,174.3 649.0,175.3 647.1,177.1 646.0,179.9 645.7,182.9 646.7,185.7 647.1,188.6 648.0,191.4 648.6,194.3 650.7,195.7 652.9,197.1 655.4,199.7 658.6,201.4 660.7,202.9 662.9,204.3 663.8,207.1 664.3,210.0 662.9,212.2 661.4,214.3 661.7,217.4 660.0,220.0 660.3,223.1 658.6,225.7 656.1,227.5 654.3,230.0 651.4,231.4 650.0,234.3 648.4,236.3 647.1,238.6 643.5,238.5 640.0,238.0 637.1,238.3 634.5,237.1 631.7,235.7 628.9,234.3 625.2,234.3 622.7,235.1 621.1,237.0 619.6,239.0 617.7,241.2 615.9,243.6 612.1,245.5 608.4,248.3 608.6,251.4 610.8,253.7 611.2,256.7 608.4,258.5 605.2,258.0 601.9,257.6 599.9,255.7 597.2,255.7 595.1,254.3 592.8,253.3 590.7,252.0 588.9,249.2 587.9,246.5 588.0,243.6 586.0,240.8 581.7,239.0 577.5,241.1 573.3,240.4 570.8,240.6 568.4,241.1 564.9,239.7 562.8,240.4 560.7,238.3 558.5,239.8 557.9,242.5 555.1,239.0 553.0,237.6 551.0,241.8 547.5,243.9 544.0,246.6 543.3,250.1 540.0,250.8 537.0,249.4 534.2,246.0 532.7,242.4 531.1,239.9 528.6,238.3 526.1,237.0 523.2,237.0 520.5,236.2 517.7,237.0 513.7,235.6 510.9,234.2 508.2,231.5 508.1,228.7 506.9,226.1 506.9,223.2 505.5,220.7 504.2,218.6 502.8,216.6 501.4,212.5 504.2,209.8 508.2,209.8 510.3,208.6 512.3,207.1 510.9,203.0 509.6,200.3 510.3,196.2 508.2,192.1 506.1,190.9 504.2,189.4 501.4,186.7 500.8,182.6 502.8,178.5 503.3,176.0 505.5,174.5 508.1,173.0 509.6,170.4 511.7,169.2 513.7,167.7 516.0,165.1 519.1,163.6 521.8,162.9 524.5,162.2 527.2,161.5 530.0,160.9 532.6,159.3 535.4,158.2 537.3,156.5 539.5,155.4 542.7,156.8 546.0,158.0 547.2,155.3 548.0,152.5 548.7,149.6 549.5,146.7 549.6,143.5 551.5,141.0 552.2,137.6 554.0,134.6 551.7,132.7 550.6,129.8 548.7,127.6 547.4,124.8 545.4,122.5 543.0,120.6 541.6,118.3 539.8,116.4 537.5,115.0 535.6,112.4 534.7,109.4 536.1,106.8 536.0,103.8 537.8,101.7 538.1,98.7 540.3,96.8 542.8,94.9 545.6,93.9 548.7,94.0 551.6,94.1 554.1,92.5 557.0,92.6 559.8,91.7 562.6,92.9 565.4,92.6 567.3,90.3 568.9,87.8 571.2,85.8 573.8,84.3 575.7,82.5 577.0,80.1 579.4,78.7 581.4,76.4 584.4,75.3 586.4,73.0 589.0,69.0 593.4,70.3 596.2,69.6 599.0,69.0 601.8,69.0 604.5,69.8 607.3,70.3 610.8,69.3 614.3,70.3 613.0,67.5 611.3,65.5 609.9,63.4 607.9,61.5 607.0,59.0 604.6,57.8 604.2,54.7 601.8,53.5 600.4,51.4 599.0,49.3 601.8,46.5 604.4,47.4 606.3,49.5 608.7,50.7 611.5,48.0 612.9,44.6 613.0,41.0 615.5,39.3 618.5,39.6 621.2,38.5 624.0,39.6 625.7,37.5 628.3,36.8 629.5,34.1 629.7,31.2" fill="#edf4ec"/>
<polygon points="120.5,369.0 122.7,366.7 123.2,363.6 126.8,363.9 130.0,362.2 132.7,361.8 135.1,362.4 137.2,364.6 139.6,364.9 142.2,365.0 144.9,365.7 147.7,365.2 150.3,366.2 153.0,366.3 155.7,367.4 158.4,368.3 161.2,369.0 163.8,367.8 166.6,367.9 169.4,367.6 172.0,366.1 175.0,365.4 177.5,363.6 178.5,366.5 180.4,368.7 183.0,370.3 185.7,369.5 188.3,368.4 191.0,367.6 193.2,366.1 195.4,364.7 197.8,363.6 200.6,363.6 202.9,365.3 205.3,366.9 207.3,369.0 209.3,370.6 210.4,373.2 212.8,374.4 213.6,377.2 214.5,379.9 215.5,382.6 217.7,384.0 219.9,385.5 221.0,388.0 223.0,389.5 225.1,391.0 226.3,393.4 227.7,395.8 228.1,398.7 230.1,400.8 231.8,403.0 234.6,402.7 237.1,404.7 240.0,404.3 241.9,406.0 244.1,406.9 246.1,408.3 248.4,409.1 250.8,409.7 253.0,411.4 255.9,411.7 257.8,414.0 260.7,414.2 263.0,416.2 266.3,415.5 268.5,417.7 271.4,418.2 273.9,419.3 276.7,419.5 279.3,420.3 282.0,420.9 284.7,420.5 287.5,421.1 290.1,419.9 292.8,419.5 295.6,419.9 298.1,418.5 300.9,419.4 303.5,418.2 306.3,418.6 308.9,417.2 311.6,416.9 314.2,418.0 316.6,419.8 319.5,420.4 322.3,420.9 325.0,420.4 327.5,419.4 330.3,419.5 332.9,418.5 335.8,418.6 338.2,416.8 341.0,416.9 343.2,419.6 346.4,420.9 346.4,423.7 344.6,426.1 345.0,428.9 346.4,431.4 346.1,434.6 347.6,437.1 349.0,439.6 351.0,441.6 353.0,443.6 354.8,445.8 357.0,447.6 359.6,449.1 362.5,450.0 365.0,451.7 367.8,451.4 370.4,452.4 373.0,453.6 375.8,453.0 378.4,453.9 381.4,453.4 383.7,455.7 386.5,455.7 386.7,458.5 387.9,461.0 385.9,463.4 385.5,466.6 387.0,468.5 390.1,467.2 392.7,467.5 394.8,469.0 396.8,471.2 399.4,472.5 402.9,473.6 407.6,473.0 411.1,471.3 414.6,470.1 416.9,467.8 419.2,466.1 421.6,467.8 423.1,470.5 422.7,473.6 424.2,475.6 426.2,477.1 429.7,479.4 433.2,481.8 435.5,484.1 437.2,486.9 438.0,490.0 440.2,493.4 442.1,491.2 444.8,489.9 446.8,491.8 449.5,492.3 452.2,492.7 454.2,494.6 456.5,495.8 458.8,496.9 460.0,499.2 462.3,500.4 463.5,503.9 461.1,507.4 459.8,509.5 457.7,510.9 455.3,514.4 454.7,517.0 453.0,519.0 451.8,522.5 451.7,525.2 453.4,527.5 454.0,530.0 454.8,532.6 457.3,534.3 457.9,537.1 459.4,539.3 460.0,542.0 460.8,544.4 463.0,546.1 462.4,549.2 464.4,551.0 466.2,553.2 465.6,556.2 467.9,558.2 468.2,560.8 468.5,563.5 469.7,567.0 470.6,570.5 469.7,573.4 466.2,575.7 463.8,576.6 462.1,578.6 457.5,579.8 454.2,578.7 451.6,576.3 448.9,575.4 447.0,573.4 443.6,572.5 440.0,572.5 437.0,573.2 434.0,573.5 432.1,575.4 428.9,574.4 427.0,576.4 425.1,578.2 423.0,579.6 420.4,580.2 418.0,581.0 415.3,583.3 413.0,586.0 411.2,587.9 411.1,590.7 409.0,592.4 407.2,594.8 404.8,596.6 403.3,598.9 400.7,599.5 398.5,600.8 395.8,600.8 393.1,601.4 390.4,601.6 388.0,603.0 385.0,603.8 382.1,604.9 379.6,607.0 376.7,607.3 374.0,608.5 371.2,609.2 368.7,610.3 365.9,609.9 363.5,611.1 360.8,611.2 359.9,613.8 357.7,615.5 355.3,617.1 355.1,620.2 352.8,621.8 350.8,620.1 348.6,618.7 345.9,618.4 343.3,617.6 341.8,614.4 340.2,611.3 338.9,608.8 339.2,606.1 341.6,604.0 342.3,600.9 345.4,597.7 343.4,595.4 342.3,592.5 344.4,588.3 343.0,585.6 341.2,583.1 338.1,582.7 335.0,582.0 334.3,578.8 335.8,575.7 336.0,572.6 332.9,575.7 331.4,578.4 329.4,580.6 326.6,582.0 325.2,584.8 322.9,586.7 320.3,588.3 319.3,591.0 316.6,592.3 315.1,594.6 311.9,596.7 309.8,594.6 306.7,593.5 303.5,593.5 303.0,590.3 302.5,587.2 302.5,583.1 304.0,580.6 303.5,577.8 301.4,575.7 298.3,577.8 296.1,579.4 294.6,581.4 294.1,584.1 291.8,586.4 288.9,587.8 286.4,587.7 283.9,587.9 281.5,587.2 279.0,586.3 276.3,585.7 273.8,586.1 271.4,587.0 270.1,584.8 268.1,583.1 266.0,581.7 263.2,581.3 260.6,580.1 258.0,579.0 255.4,577.2 252.1,576.4 250.0,573.7 247.0,573.9 244.6,572.2 242.0,572.1 239.4,572.4 237.0,570.8 234.4,571.0 231.6,570.5 228.9,569.8 226.4,568.7 224.1,567.0 221.3,566.3 218.7,565.1 216.5,563.2 213.9,562.0 211.3,561.8 208.7,561.8 206.2,560.7 203.6,560.7 200.8,560.0 198.9,557.3 196.0,556.8 193.3,556.2 190.8,557.1 188.3,558.0 185.8,558.8 183.1,559.3 180.5,559.9 178.0,560.7 176.8,564.5 179.4,565.7 180.6,568.3 182.1,571.5 183.2,574.8 182.5,577.3 181.9,579.9 178.0,582.4 175.6,583.5 173.1,584.1 170.4,583.7 168.1,581.8 165.2,581.2 162.5,580.2 160.2,578.6 157.6,577.3 155.2,576.0 152.5,576.2 149.9,576.0 147.4,577.1 144.5,576.3 142.2,578.2 139.6,578.6 137.7,581.3 134.5,582.4 131.8,582.7 129.6,584.6 127.0,584.8 124.3,585.0 121.9,587.1 120.5,589.9 119.1,592.7 118.8,595.7 116.6,597.9 115.5,600.5 114.0,603.0 113.2,605.5 112.9,608.3 111.5,610.6 109.4,613.0 107.6,615.7 105.0,613.2 102.9,611.5 102.1,609.2 101.2,606.8 98.5,605.1 96.1,603.0 95.7,600.0 92.7,598.2 92.3,595.2 91.8,592.4 89.7,590.3 89.5,587.5 88.4,585.0 85.8,585.2 83.3,585.0 80.7,583.1 78.2,581.0 76.7,578.2 74.3,576.0 71.2,577.5 68.0,578.6 65.9,575.7 65.4,572.2 65.9,569.2 67.9,567.0 69.8,563.8 73.0,562.0 74.2,559.6 74.2,556.9 74.3,554.3 73.9,551.3 72.1,549.0 70.5,546.6 67.7,544.7 66.6,541.5 67.4,539.0 68.1,536.5 67.9,533.8 70.5,533.9 73.0,532.9 75.6,532.5 78.0,530.3 80.7,528.7 83.3,530.3 85.5,532.6 88.4,533.8 90.0,531.5 92.3,530.0 94.1,528.0 96.1,526.1 98.9,526.4 101.2,524.8 103.8,528.7 106.5,528.7 109.1,528.3 111.6,527.5 114.0,526.1 116.0,527.5 117.8,529.1 119.1,531.2 120.6,529.1 121.8,526.8 123.6,525.0 125.6,523.3 126.8,521.0 129.4,519.7 130.8,517.3 133.1,515.7 134.5,513.3 136.8,511.5 139.5,511.1 142.6,511.4 144.8,509.4 147.7,510.0 150.0,511.8 152.4,513.3 153.6,510.2 156.3,508.2 155.7,505.5 157.7,503.2 158.1,500.6 157.7,498.0 157.6,495.4 157.2,491.8 158.5,488.4 157.2,485.8 156.1,483.1 155.8,480.2 154.0,478.5 152.0,477.2 149.7,476.3 147.7,474.8 145.6,473.1 142.8,472.2 141.2,469.9 139.6,467.5 136.8,466.7 135.9,464.3 133.4,463.1 132.8,460.5 131.4,458.5 130.9,455.7 129.1,453.3 128.7,450.4 129.6,447.7 128.6,444.9 129.1,442.2 128.7,439.5 128.0,436.8 128.8,433.9 127.3,431.4 126.5,428.4 124.7,425.9 123.2,423.2 123.1,420.3 124.5,417.8 124.3,414.8 126.0,412.4 127.5,410.5 129.4,408.8 129.5,405.9 131.4,404.3 134.1,404.6 136.8,404.9 139.5,405.1 142.2,405.6 145.0,405.7 147.7,405.9 150.4,405.1 153.0,404.3 155.3,403.3 158.0,403.4 160.0,401.5 158.3,399.0 157.7,395.9 155.8,393.4 153.3,391.1 150.4,389.3 147.9,387.8 145.2,386.6 142.0,386.9 139.5,385.3 139.1,382.5 137.9,379.9 137.8,377.0 136.8,374.4 134.4,372.5 131.5,372.3 128.7,371.7 125.6,371.8 123.2,370.0" fill="#edf4ec"/>
<polygon points="589.6,289.2 591.9,286.8 594.8,285.4 597.8,284.6 600.7,283.4 603.7,282.8 605.7,284.3 607.8,285.6 610.0,286.6 612.2,289.4 612.7,293.0 615.6,292.9 617.6,295.4 620.4,295.6 623.1,296.0 625.7,296.8 628.0,298.2 630.0,301.0 633.2,302.0 636.4,303.2 639.6,304.6 639.5,307.9 640.8,311.0 642.1,314.2 643.4,317.4 640.8,321.2 643.3,322.4 646.2,322.2 648.5,323.8 651.0,324.9 653.4,326.2 656.2,326.3 658.8,326.8 661.3,327.7 664.0,327.6 666.5,328.4 669.2,327.6 671.6,329.0 673.9,330.7 676.6,331.6 679.3,332.7 682.1,334.3 684.4,336.6 687.0,338.6 687.1,342.2 689.5,344.3 689.6,346.9 689.0,349.4 689.5,352.0 691.9,353.2 694.6,353.3 697.2,353.2 699.9,353.7 702.3,352.2 704.9,352.0 707.3,352.8 709.7,352.2 712.0,353.4 714.5,352.6 714.4,355.9 716.0,358.8 716.5,361.3 716.0,363.7 715.5,366.0 714.5,368.3 713.0,370.7 713.6,373.6 712.7,376.1 712.9,378.9 711.9,381.4 711.4,384.0 709.4,386.3 707.4,388.4 705.0,390.3 705.4,392.9 706.0,395.5 706.7,398.0 709.3,398.1 711.5,396.9 714.0,396.6 716.0,395.0 716.4,397.9 717.2,400.6 719.3,402.8 719.4,406.0 721.0,408.9 720.8,412.2 721.3,414.9 722.2,417.4 723.5,419.7 725.5,421.7 728.1,422.9 730.6,424.2 733.4,424.8 736.4,423.6 739.8,424.5 742.8,423.2 745.5,423.4 748.3,422.7 751.0,422.2 753.8,423.2 755.6,420.9 756.9,418.4 757.0,415.4 760.1,414.5 763.2,415.4 765.9,415.5 768.4,414.1 771.0,413.8 773.6,414.7 775.5,416.6 777.4,418.5 778.5,420.9 779.8,423.2 782.0,424.8 783.5,427.8 782.8,431.1 783.6,434.2 784.6,437.1 783.6,440.0 782.2,442.3 782.1,445.1 780.1,447.2 780.0,450.0 777.7,451.6 777.1,454.3 774.8,455.8 774.6,458.8 773.6,461.2 771.2,462.7 770.0,465.0 768.9,467.6 766.7,469.2 764.5,470.8 762.3,472.3 761.2,474.9 759.5,477.0 756.3,477.6 755.0,480.0 753.1,481.8 750.2,482.0 748.1,483.6 746.6,485.9 744.3,487.2 742.1,488.5 740.0,490.0 737.8,492.5 736.2,495.3 736.6,498.7 737.4,502.0 739.4,503.8 741.3,505.5 743.5,507.0 745.6,508.7 748.4,508.6 750.8,509.4 753.3,510.9 755.3,513.0 758.0,514.2 759.7,516.4 760.9,518.9 761.7,521.5 760.4,523.8 761.1,526.4 760.7,528.8 760.5,531.3 759.3,534.4 756.6,536.3 754.4,538.6 756.1,540.5 758.0,542.2 760.3,540.9 762.9,541.9 765.4,541.6 767.8,541.0 770.1,539.7 772.7,540.7 775.1,540.0 777.5,539.8 779.9,540.5 782.4,540.1 784.7,541.2 787.2,541.0 789.5,542.1 792.4,541.2 794.8,541.9 797.0,543.4 799.3,544.6 801.5,546.0 804.2,545.8 806.3,547.9 807.5,550.6 809.0,553.1 809.6,555.9 811.0,558.5 811.4,561.4 811.3,564.3 811.1,567.2 810.3,570.0 809.2,572.3 807.5,574.2 806.7,576.7 805.0,578.6 804.6,581.5 803.0,584.1 802.9,587.1 801.2,589.1 798.5,589.1 796.2,589.9 794.3,591.4 792.4,593.2 790.4,594.8 787.9,595.7 786.2,597.5 785.7,600.0 788.3,601.7 790.0,604.3 792.6,606.0 794.3,608.6 792.3,610.9 790.0,612.9 787.0,613.2 784.5,615.2 781.4,615.0 778.6,615.4 775.7,615.4 772.9,615.0 769.9,615.0 767.2,616.5 764.3,617.1 762.5,618.9 762.1,621.4 763.2,624.2 763.2,627.1 763.2,630.0 762.5,632.8 761.6,635.6 762.1,638.6 761.5,641.5 761.3,644.4 760.0,647.1 759.7,649.6 757.8,651.4 757.4,653.9 755.7,655.7 753.1,657.4 750.9,659.4 749.3,662.1 747.6,664.1 745.3,665.4 742.9,666.4 740.4,666.9 738.5,668.3 736.1,669.0 734.3,670.7 732.4,672.6 730.5,674.6 728.1,675.9 725.7,677.1 723.2,678.0 721.7,680.4 719.3,681.4 716.0,680.7 712.9,679.3 710.7,678.4 708.5,677.3 706.4,676.3 704.3,675.0 702.6,673.1 699.7,673.5 697.4,672.7 695.7,670.7 693.1,669.1 690.2,668.5 687.1,668.6 684.6,667.0 681.7,667.6 679.3,666.0 676.4,666.4 675.7,663.7 673.0,662.5 672.1,660.0 670.9,657.5 669.5,655.3 667.6,653.3 665.7,651.4 662.5,650.3 659.3,649.3 655.9,648.6 652.9,647.1 651.2,649.3 649.0,651.0 650.5,653.8 650.8,657.0 650.2,660.5 647.8,663.2 645.4,664.5 643.5,666.6 640.6,667.1 638.7,669.2 636.5,670.8 633.6,669.6 631.3,670.6 628.8,670.8 626.6,672.3 623.9,670.0 620.5,669.2 621.5,666.9 621.0,664.4 621.0,662.0 621.4,659.3 623.6,657.8 626.1,655.5 627.8,652.5 629.4,649.4 632.1,647.1 632.8,644.2 634.3,641.7 631.0,638.5 629.5,636.5 627.5,634.9 625.7,633.2 621.4,633.7 617.1,634.3 613.9,636.4 612.8,640.7 610.7,645.0 608.7,646.8 606.4,648.2 602.1,649.2 599.3,649.5 596.0,649.6 593.2,651.3 590.3,652.6 588.5,650.5 587.2,648.0 585.7,645.2 586.0,641.7 584.2,639.0 582.7,636.8 581.7,634.2 579.4,632.4 578.2,630.0 576.4,627.9 575.8,625.1 575.1,622.4 572.6,620.6 572.0,617.8 572.0,615.2 571.7,612.7 570.9,610.4 570.3,607.9 569.0,605.7 566.7,603.3 566.4,600.0 566.2,597.2 565.4,594.4 563.6,590.7 562.6,587.0 562.6,583.3 565.4,580.5 567.3,576.8 568.2,573.1 571.9,570.3 574.7,569.6 576.6,567.5 580.3,564.7 578.4,561.9 575.6,560.1 571.9,557.3 569.1,553.6 565.4,551.7 560.8,552.6 557.1,549.9 553.4,547.1 548.7,547.1 546.1,545.4 545.0,542.4 542.5,541.3 540.3,539.8 538.4,537.8 538.0,535.2 537.4,532.6 537.1,530.0 537.5,527.5 538.6,525.0 538.4,522.4 538.2,519.5 539.2,517.0 541.0,514.8 542.3,512.3 544.3,510.3 546.1,508.3 548.7,507.0 551.5,507.4 554.0,506.5 556.1,504.2 558.9,504.5 561.5,503.3 564.0,502.0 565.9,500.0 568.0,498.2 570.4,496.8 570.1,494.2 570.7,491.7 570.6,489.2 570.4,486.6 570.4,484.0 570.4,481.4 571.0,478.8 571.7,476.3 570.7,473.7 571.4,471.0 571.6,468.3 570.9,465.7 570.4,463.2 569.4,460.7 570.1,458.1 569.1,455.1 569.3,452.1 569.3,449.0 567.0,446.0 565.0,448.0 561.0,450.0 557.0,451.0 554.8,453.4 553.0,456.0 549.0,455.0 547.4,452.6 545.0,451.0 542.8,448.7 541.0,446.0 537.0,444.0 534.6,442.9 532.0,443.0 529.6,442.2 527.0,442.0 525.0,439.0 524.4,436.0 524.0,433.0 524.2,430.4 525.0,428.0 525.0,425.5 525.0,423.0 522.0,420.0 519.7,418.6 517.0,418.0 513.0,416.0 510.4,415.2 508.0,414.0 506.0,411.0 507.0,408.0 506.0,404.0 506.9,401.6 507.0,399.0 509.0,399.0 512.0,402.0 515.0,404.0 517.5,403.9 520.0,404.0 522.3,402.5 525.0,402.0 527.5,401.1 530.0,400.0 532.0,397.0 533.1,393.8 533.3,390.4 532.4,387.8 533.1,385.3 533.1,382.7 534.1,380.2 533.3,377.6 535.8,375.6 536.5,372.4 538.4,370.0 541.2,369.9 543.7,368.8 546.0,367.3 548.4,365.5 551.2,364.7 550.7,362.1 549.6,359.7 550.0,357.0 550.4,354.4 549.7,351.9 549.9,349.2 548.7,346.8 549.3,344.2 549.1,341.7 549.2,339.2 548.7,336.6 550.1,334.1 551.2,331.5 553.5,329.8 556.4,330.0 558.9,329.0 561.6,328.3 564.2,329.0 566.6,330.2 569.0,331.6 572.0,330.9 574.3,332.7 576.4,335.5 576.8,339.0 578.5,341.3 577.7,344.5 579.4,346.8 581.8,348.2 583.9,349.9 584.6,353.1 587.0,354.5 589.3,352.9 592.4,353.6 594.8,352.0 597.5,351.5 600.1,351.0 602.4,349.4 604.6,347.3 605.0,344.3 606.8,342.7 608.8,341.2 610.0,339.0 611.3,336.6 614.3,336.3 615.9,334.3 617.8,332.7 615.5,330.5 612.7,329.0 611.8,326.4 613.2,323.8 612.7,321.2 612.7,318.3 610.0,316.4 610.0,313.5 607.4,313.5 605.0,312.6 602.4,312.3 600.2,310.4 597.1,310.2 594.8,308.4 592.6,307.2 590.9,305.4 589.6,303.3 589.4,300.7 589.3,298.1 588.3,295.6 588.7,292.4" fill="#edf4ec"/>
<polyline points="615.4,68.2 616.6,70.8 616.4,73.7 616.7,76.4 617.2,79.0 618.4,81.4 619.4,83.8 620.9,86.0 623.6,88.7 622.4,91.1 620.3,93.0 619.5,95.6 617.4,98.3 615.4,101.0 617.0,104.3 616.7,107.9 614.7,109.3 612.6,110.6 609.9,111.6 607.1,109.6 604.4,110.6 601.8,109.2 598.9,110.0 596.2,109.2 595.2,112.1 593.5,114.7 593.3,117.2 594.8,119.4 595.2,121.8 594.9,124.3 597.3,125.1 599.0,127.0 601.0,128.6 602.4,130.9 604.4,132.5 606.8,134.8 610.0,135.2 611.9,137.2 611.8,140.3 614.0,142.1 614.3,144.9 614.1,147.7 615.4,150.3 614.2,152.9 615.2,155.9 614.0,158.5 614.1,161.3 615.7,163.8 615.4,166.7 617.7,169.0 618.1,172.2 620.5,173.3 622.4,175.3 625.0,176.0 627.3,176.8 629.9,176.7 632.0,178.0 634.9,177.7 637.7,176.9 640.0,175.0 642.6,176.8 644.4,179.4 646.5,181.7" fill="none" stroke="#fff" stroke-opacity="0.75" stroke-width="3.0" stroke-linejoin="round"/>
<polyline points="656.4,65.5 654.9,67.7 654.2,70.4 652.3,72.3 649.4,73.3 647.2,75.2 645.5,77.8 642.8,79.9 640.0,81.9 639.2,84.6 639.7,87.5 638.6,90.1 638.5,93.0 637.7,95.7 636.2,98.2 635.9,101.0 636.9,103.7 635.6,106.6 637.9,109.1 637.3,112.0 638.6,114.6 639.5,117.3 638.7,120.4 640.0,123.0 641.2,125.6 641.9,128.4 642.7,131.1 644.4,133.7 645.5,136.6 643.8,139.2 642.7,142.1" fill="none" stroke="#fff" stroke-opacity="0.75" stroke-width="3.0" stroke-linejoin="round"/>
<polyline points="697.5,125.7 694.9,127.1 691.9,126.8 689.4,128.4 686.5,128.4 683.7,128.6 681.0,129.5 678.4,130.7 675.6,131.1 674.0,133.0 672.7,135.1 672.3,137.8 670.1,139.3 668.0,142.0 666.0,144.8 664.3,148.6 665.5,151.6 667.1,154.3 667.1,157.2 667.1,160.0 666.8,163.0 667.6,165.8 668.6,168.6 668.9,171.8 668.6,175.0" fill="none" stroke="#fff" stroke-opacity="0.75" stroke-width="3.0" stroke-linejoin="round"/>
<polyline points="630.0,177.1 633.0,177.7 635.7,176.1 638.6,175.7 641.4,176.6 644.2,177.1 647.1,177.1" fill="none" stroke="#fff" stroke-opacity="0.75" stroke-width="3.0" stroke-linejoin="round"/>
<polyline points="614.0,142.1 616.7,142.4 619.0,141.5 621.3,140.5 623.6,139.3 626.5,139.7 629.2,140.8 631.8,142.1 634.3,143.9 637.3,144.8 639.5,143.6 639.9,140.6 641.9,139.2 644.1,138.0 647.7,138.2 651.0,136.6 654.1,137.2 656.4,139.3 658.2,142.3 660.5,144.8 662.2,147.4 662.9,150.4 664.6,153.0" fill="none" stroke="#fff" stroke-opacity="0.75" stroke-width="3.0" stroke-linejoin="round"/>
<polyline points="593.5,114.7 591.2,116.4 590.5,119.3 588.1,120.9 586.1,122.9 585.3,125.7 582.7,127.0 579.6,126.9 577.1,128.4 574.5,129.6 571.9,130.9 568.9,131.1 566.3,132.3 563.3,132.4 560.7,133.9 559.6,136.4 557.0,137.8 555.8,140.3 553.8,142.1 553.1,145.2 551.2,147.6 549.7,150.3 549.0,152.9 548.0,155.3 547.0,157.8" fill="none" stroke="#fff" stroke-opacity="0.75" stroke-width="3.0" stroke-linejoin="round"/>
<polyline points="547.0,157.8 549.0,159.3 551.0,160.8 554.0,160.2 555.3,163.1 557.9,163.3 560.3,165.3 563.8,165.2 566.1,167.4 566.9,170.4 568.9,172.8 569.4,175.3 571.7,176.9 571.2,179.9 573.5,181.5 574.3,183.8 575.3,186.5 575.8,189.4 577.1,192.0 575.7,194.3 575.0,197.0" fill="none" stroke="#fff" stroke-opacity="0.75" stroke-width="3.0" stroke-linejoin="round"/>
<polyline points="512.3,207.1 514.9,205.9 517.7,205.7 519.7,204.0 522.1,202.8 523.2,200.3 526.1,198.5 528.6,196.2 531.3,194.8 533.9,193.1 536.8,192.1 539.3,190.7 542.2,190.8 546.0,192.1 549.3,193.1 552.5,192.0 553.9,194.2 556.5,195.3 557.9,197.5 560.6,198.6 563.2,199.7 566.1,200.2 568.8,201.8 572.0,201.6" fill="none" stroke="#fff" stroke-opacity="0.75" stroke-width="3.0" stroke-linejoin="round"/>
<polyline points="588.0,212.0 588.5,214.6 586.7,216.9 586.2,219.4 586.7,222.0 587.3,224.7 587.8,227.4 588.3,230.2 588.0,233.0 589.3,235.6 589.3,238.4 589.7,241.2 589.4,244.0 589.0,246.7 590.8,249.1 591.1,251.6 590.8,254.3" fill="none" stroke="#fff" stroke-opacity="0.75" stroke-width="3.0" stroke-linejoin="round"/>
<polyline points="612.0,170.0 609.6,171.1 607.0,171.4 604.4,172.0 603.0,175.0 601.8,178.0 603.9,180.5 604.4,183.8 606.3,185.6 607.4,188.1 610.0,189.2 612.1,191.1 614.4,192.9 616.7,194.7 616.9,197.6 618.5,200.1 619.7,202.8 619.3,205.9 620.9,208.4 622.3,210.9 621.4,214.1 622.1,216.8 623.6,219.3 626.3,220.3 629.1,221.1 631.8,222.0 634.4,222.6 636.3,224.2 637.6,226.7 640.0,227.6 641.6,230.6 644.1,233.0" fill="none" stroke="#fff" stroke-opacity="0.75" stroke-width="3.0" stroke-linejoin="round"/>
<polyline points="618.0,172.5 620.2,175.3 623.6,176.6 626.4,177.5 628.8,179.5 631.8,180.0 634.4,179.0 637.2,179.1 639.9,178.2 642.7,178.3" fill="none" stroke="#fff" stroke-opacity="0.75" stroke-width="3.0" stroke-linejoin="round"/>
<polyline points="585.0,158.0 587.5,160.0 590.6,160.7 592.9,162.1 593.6,165.1 596.2,166.3 598.1,168.2 600.1,169.9 601.8,171.9" fill="none" stroke="#fff" stroke-opacity="0.75" stroke-width="3.0" stroke-linejoin="round"/>
<polyline points="568.2,169.1 570.3,167.0 572.7,165.2 574.7,163.0 576.6,160.7 579.5,160.2 582.5,159.7 585.0,158.0" fill="none" stroke="#fff" stroke-opacity="0.75" stroke-width="3.0" stroke-linejoin="round"/>
<polyline points="605.0,197.0 606.7,199.4 605.5,202.5 607.0,205.0 605.1,207.8 604.0,211.0" fill="none" stroke="#fff" stroke-opacity="0.75" stroke-width="3.0" stroke-linejoin="round"/>
<polyline points="223.4,199.1 225.2,200.9 226.8,202.8 227.4,205.4 226.5,207.7 226.9,210.3 225.8,212.5" fill="none" stroke="#fff" stroke-opacity="0.75" stroke-width="3.0" stroke-linejoin="round"/>
<polyline points="203.3,135.0 202.7,137.6 204.5,140.0 205.0,142.5 204.4,145.1 206.4,146.8 206.5,149.6 207.6,151.8 209.6,153.5 211.9,155.9 215.0,156.7 218.0,157.7 220.7,159.4 223.4,160.9 226.4,161.9 228.5,163.3 230.5,164.8 232.7,166.1 235.2,166.8 237.5,168.1 239.0,170.3 240.7,172.4 242.8,173.7 245.3,174.5 245.4,178.0 247.4,180.8 245.4,182.6 244.2,185.0 245.3,189.2 247.2,191.4 249.4,193.3 249.1,196.7 247.4,199.6 244.8,200.3 243.1,202.3 241.0,203.8 237.6,204.1 234.8,205.9 231.8,204.3 228.5,203.8 226.8,201.7 224.3,200.7 221.2,199.9 218.0,199.6 214.6,200.0 211.7,201.7 209.7,203.2 207.2,204.1 205.4,205.9 203.3,208.0 201.2,210.1 199.2,213.0" fill="none" stroke="#fff" stroke-opacity="0.75" stroke-width="3.0" stroke-linejoin="round"/>
<polyline points="245.3,176.0 248.1,175.8 250.6,174.4 253.3,173.8 255.7,172.4 258.0,170.0 261.4,169.9 264.1,168.2 266.5,167.0 268.3,165.0 270.4,163.4 272.5,161.9 274.2,159.4 276.7,157.7 278.7,156.0 281.0,154.7 283.4,153.6 285.0,151.4 286.6,149.4 287.8,147.1 289.3,145.1 289.6,142.2 291.3,139.7 291.4,136.8 295.5,134.7 299.7,134.5" fill="none" stroke="#fff" stroke-opacity="0.75" stroke-width="3.0" stroke-linejoin="round"/>
<polyline points="276.7,157.7 277.3,160.5 277.4,163.3 276.7,166.1 278.3,168.8 280.2,171.4 280.9,174.5 283.7,173.6 286.3,172.3 289.3,172.4 291.3,174.5 293.3,176.7 295.5,178.7 296.5,181.4 296.2,184.4 297.6,187.0 299.9,188.5 299.5,191.8 301.8,193.3 304.0,195.3 306.5,197.0 308.1,199.6 310.5,202.6 312.2,200.6 314.2,198.9 315.9,196.9 317.9,195.2 321.0,195.1 323.5,197.0 326.2,198.4 329.1,198.9 332.8,197.0 335.7,196.4 338.4,195.2 341.3,193.5 344.0,191.5 345.2,188.8 345.9,185.9 347.6,183.4 347.7,180.3 349.5,178.4 351.5,176.6 353.3,174.7 355.9,173.0 357.0,170.0 359.7,169.4 361.5,167.3 361.5,164.5 362.2,161.8 364.6,159.7 364.7,156.9 365.2,154.2 364.8,150.9 365.8,147.9 367.0,144.9 365.7,142.6 365.0,140.0 363.3,137.5" fill="none" stroke="#fff" stroke-opacity="0.75" stroke-width="3.0" stroke-linejoin="round"/>
<polyline points="314.2,198.9 314.4,202.1 316.2,205.0 316.1,208.2 317.6,210.5 317.6,213.1 317.9,215.7 319.3,218.5 322.0,220.4 323.5,223.1 324.0,226.0 325.8,228.2 327.3,230.6 329.1,232.5 330.8,234.5 332.8,236.2 334.1,239.1 335.6,241.8" fill="none" stroke="#fff" stroke-opacity="0.75" stroke-width="3.0" stroke-linejoin="round"/>
<polyline points="365.2,154.2 365.3,156.9 367.7,158.6 367.4,161.4 368.9,163.5 370.7,166.1 371.8,169.1 374.5,171.0 375.6,173.5 377.1,175.9 378.2,178.4 379.7,180.7 379.6,183.4 380.1,185.9 378.5,188.1 377.8,190.6 378.2,193.3 379.4,195.7 378.8,198.5 380.1,200.8 380.1,203.4 378.7,205.7 378.2,208.2 379.3,211.0 380.1,214.0" fill="none" stroke="#fff" stroke-opacity="0.75" stroke-width="3.0" stroke-linejoin="round"/>
<polyline points="379.3,135.0 380.2,138.3 381.2,141.6 383.8,144.9 385.7,147.1 385.4,150.4 387.6,152.4 388.2,155.3 389.3,158.0 389.5,161.0 391.3,163.5 392.8,166.4 391.9,169.8 393.2,172.8 394.7,175.4 395.0,178.4 396.4,175.6 398.4,173.2 400.6,171.0 402.9,168.8 405.1,166.6 406.2,163.5 409.1,163.0 411.7,161.7 413.2,159.0 414.8,156.2 417.3,154.2 418.8,151.1 421.0,148.6 423.4,151.1 424.7,154.2 425.3,157.3 425.9,160.4 426.6,163.5 428.6,165.6 429.6,168.2 430.3,171.0" fill="none" stroke="#fff" stroke-opacity="0.75" stroke-width="3.0" stroke-linejoin="round"/>
<polyline points="238.3,266.0 239.7,268.2 239.1,270.8 240.0,273.0 239.3,275.6 240.7,277.8 239.3,280.0 238.3,282.4 236.3,284.3 236.0,287.1 235.7,290.3 233.7,293.1 233.7,296.4 233.3,298.8 232.1,301.0 230.9,303.1 231.3,305.7 230.0,310.0" fill="none" stroke="#fff" stroke-opacity="0.75" stroke-width="3.0" stroke-linejoin="round"/>
<polyline points="243.0,266.1 245.8,265.7 248.6,265.4 251.3,264.3 254.4,265.2 257.0,263.8 259.9,265.0 262.9,265.8 266.0,266.0 269.3,268.8" fill="none" stroke="#fff" stroke-opacity="0.75" stroke-width="3.0" stroke-linejoin="round"/>
<polyline points="296.6,305.4 299.1,303.7 302.0,302.9 305.0,303.0 307.4,302.1 309.8,300.7 312.8,301.6 315.0,300.0 317.1,298.1 320.0,298.1 322.4,296.7 325.0,296.0 327.6,295.7 329.4,293.3 332.0,293.0" fill="none" stroke="#fff" stroke-opacity="0.75" stroke-width="3.0" stroke-linejoin="round"/>
<polyline points="180.0,225.0 182.0,227.2 185.0,227.6 187.8,228.1 190.0,230.0 192.0,232.2 195.1,232.3 197.2,234.3 200.0,235.0 202.2,237.0 203.2,239.7 202.8,243.0 205.0,245.0 203.0,246.6 203.1,249.6 200.8,251.0 199.5,253.1 198.0,255.0 196.4,257.2 194.6,259.2 192.3,260.6 190.0,262.0" fill="none" stroke="#fff" stroke-opacity="0.75" stroke-width="3.0" stroke-linejoin="round"/>
<polyline points="231.8,403.0 230.0,405.2 230.5,408.1 229.0,410.4 226.2,412.3 224.3,415.1 221.3,417.1 218.0,418.3 216.0,420.1 215.1,422.7 213.3,424.6 213.9,427.0 214.9,429.3 212.4,431.5 210.2,434.0 207.0,437.2 206.4,440.2 203.9,441.9 202.7,444.1 202.3,446.6 200.7,449.7 196.0,449.7 192.9,450.9 189.7,450.5 186.6,450.1 183.4,449.7 180.2,449.4 177.2,450.5 173.9,451.4 170.9,452.9 167.5,454.0 164.6,456.0 161.4,459.2 160.7,463.9 158.3,467.0 155.3,468.2 152.0,468.6 149.7,470.2 147.3,471.7" fill="none" stroke="#fff" stroke-opacity="0.75" stroke-width="3.0" stroke-linejoin="round"/>
<polyline points="189.7,450.5 191.1,452.4 192.7,454.3 194.4,456.0 196.1,458.0 197.3,460.4 199.2,462.3 199.2,467.0 202.3,470.2 203.2,472.5 203.9,474.9 208.6,475.7 211.8,476.0 214.9,476.5 217.7,477.4 219.6,479.6 223.1,480.4 225.9,482.7 229.1,483.0 232.2,482.7 235.2,481.4 238.5,482.0 240.7,483.5 243.2,484.3 245.0,486.0 247.0,487.5 248.5,489.8 248.9,492.7 250.7,494.9 251.9,497.1 252.7,499.5 252.9,502.1 254.4,504.2 255.1,507.3 255.6,510.4 256.3,513.5 257.7,516.5 256.6,519.7 257.2,522.8 259.1,524.4 260.9,526.1 261.9,528.4 263.5,531.4 265.6,534.0 268.5,535.7 271.2,537.7 274.0,537.1 276.8,537.7 280.5,539.6 282.5,542.3 284.2,545.2 284.8,548.3 284.4,551.4 284.2,554.5 286.7,556.8 289.8,558.2 292.3,556.3 295.4,556.4 297.8,555.1 299.1,552.6 301.7,552.3 304.2,551.7 306.6,550.8 309.2,550.7 311.5,552.3 314.0,552.6 316.8,552.2 319.0,554.0 321.5,554.5 324.8,554.5 328.0,555.1 330.2,557.9 333.5,559.3 336.8,557.7 340.5,557.9 343.3,555.8 346.1,553.7 348.3,551.8 350.3,549.6 353.1,546.8 355.7,548.5 358.7,548.2 360.2,550.2 361.5,552.4 363.1,555.1 364.3,558.0 366.4,560.1 368.5,562.1 371.1,563.4 374.0,563.5 377.5,564.0 381.0,563.5 383.9,563.9 386.6,564.9 389.2,566.7 392.2,567.7 394.3,569.8 396.4,571.9 396.6,574.8 397.8,577.5 399.2,579.6 400.6,581.7 403.2,583.3 404.8,585.9 406.8,587.6 407.6,590.1" fill="none" stroke="#fff" stroke-opacity="0.75" stroke-width="3.0" stroke-linejoin="round"/>
<polyline points="199.2,467.0 196.5,469.5 192.9,470.2 190.6,469.1 188.2,468.6 185.7,470.8 183.4,473.3 182.6,476.1 180.3,478.0 177.2,481.2 177.4,484.6 175.6,487.5 174.3,490.2 175.2,493.1 175.1,495.9 174.3,498.6 173.0,500.8 171.6,502.9 171.9,505.7 170.6,507.9 168.5,510.0 168.5,513.1 166.9,515.4 168.0,518.0 170.3,519.5 172.5,521.0 173.3,523.8 171.6,526.6 173.4,529.4 172.5,532.2 172.4,534.9 170.4,536.8 168.7,538.8 168.7,541.5 169.1,544.8 166.5,547.5 166.9,550.8 166.8,553.7 167.3,556.5 168.5,559.2 168.7,562.0 171.4,563.6 174.0,565.3 176.2,567.5 178.0,570.0" fill="none" stroke="#fff" stroke-opacity="0.75" stroke-width="3.0" stroke-linejoin="round"/>
<polyline points="177.2,481.2 174.3,479.5 170.9,479.6 166.2,478.8 164.1,480.5 161.4,481.2 158.3,484.3 157.5,488.0" fill="none" stroke="#fff" stroke-opacity="0.75" stroke-width="3.0" stroke-linejoin="round"/>
<polyline points="244.9,485.7 246.9,484.0 249.1,482.4 250.5,480.1 251.0,477.1 252.4,474.5 255.4,474.3 257.9,472.6 260.6,472.8 263.1,472.4 265.4,470.8 267.9,471.1 270.3,470.4 272.8,470.8 275.8,470.5 278.4,468.9 280.9,468.0 283.4,469.0 285.9,468.9 288.2,467.5 291.0,468.3 293.3,467.1" fill="none" stroke="#fff" stroke-opacity="0.75" stroke-width="3.0" stroke-linejoin="round"/>
<polyline points="310.1,417.7 309.6,420.2 309.6,422.9 308.2,425.3 308.2,427.9 307.0,430.9 306.7,434.1 306.4,437.3 307.5,439.8 307.0,442.2 306.4,444.7 304.8,446.8 301.9,447.7 300.8,450.3 298.1,451.9 295.8,454.0 293.3,455.9 292.3,458.3 292.9,461.0 291.5,463.3 293.3,467.1 295.9,469.3 298.9,470.8 301.5,472.9 304.5,474.5 307.2,474.5 309.6,475.5 312.0,476.4 314.5,476.8 316.7,478.6 319.4,478.2 323.1,480.1 326.9,482.0 329.0,483.6 330.6,485.7 332.5,488.2 332.4,491.3 333.0,494.0" fill="none" stroke="#fff" stroke-opacity="0.75" stroke-width="3.0" stroke-linejoin="round"/>
<polyline points="323.1,478.5 325.5,477.4 328.3,477.7 330.6,476.4 332.8,474.9 335.4,474.7 338.0,474.5 340.6,474.9 342.8,476.6 345.5,476.4 348.0,476.1 350.4,476.6 352.9,476.4 355.7,475.5 358.5,476.4 362.2,474.5 362.1,471.9 363.9,469.7 364.1,467.1 364.2,464.6 364.6,462.1 364.1,459.6 364.9,456.3 366.0,453.0" fill="none" stroke="#fff" stroke-opacity="0.75" stroke-width="3.0" stroke-linejoin="round"/>
<polyline points="257.2,522.8 255.8,524.8 254.2,526.7 252.5,528.4 251.0,530.7 250.4,533.2 250.7,535.9 252.0,538.1 251.8,540.8 252.5,543.2 254.4,545.2 251.8,543.6 248.8,543.3 245.7,543.4 243.2,541.5 240.4,540.4 237.6,541.5 236.1,543.7 233.9,545.2 232.7,547.5 233.4,550.3 232.1,552.6 230.1,554.4 228.3,556.4 225.9,557.2 223.3,557.2 220.9,558.2 217.8,559.6 215.3,562.0" fill="none" stroke="#fff" stroke-opacity="0.75" stroke-width="3.0" stroke-linejoin="round"/>
<polyline points="280.5,539.6 281.0,537.2 281.5,534.8 282.7,532.5 283.3,530.1 282.8,527.5 283.8,525.2 284.2,522.8 286.2,521.1 287.9,519.1 291.6,517.2 292.5,515.0" fill="none" stroke="#fff" stroke-opacity="0.75" stroke-width="3.0" stroke-linejoin="round"/>
<polyline points="361.5,552.4 360.6,554.7 360.2,557.2 358.7,559.3 355.3,560.5 353.1,563.5 350.4,563.6 348.2,564.9 346.1,566.3 343.0,567.0 340.5,569.1 338.9,571.7 336.0,572.6" fill="none" stroke="#fff" stroke-opacity="0.75" stroke-width="3.0" stroke-linejoin="round"/>
<polyline points="386.6,564.9 386.3,561.4 385.2,558.0 386.8,555.8 388.2,553.4 389.4,551.0 391.2,549.1 393.6,547.8 395.0,545.4 397.8,544.6 400.6,544.9 403.4,545.4 406.1,547.0 409.0,548.2 411.9,547.9 414.6,549.2" fill="none" stroke="#fff" stroke-opacity="0.75" stroke-width="3.0" stroke-linejoin="round"/>
<polyline points="367.8,484.0 370.7,483.2 373.4,482.0 376.2,482.1 379.0,482.0 383.0,484.0" fill="none" stroke="#fff" stroke-opacity="0.75" stroke-width="3.0" stroke-linejoin="round"/>
<polyline points="130.0,459.2 132.7,460.0 134.3,462.2 136.3,463.9 136.3,468.6 139.0,471.1 142.6,471.7 147.3,471.7" fill="none" stroke="#fff" stroke-opacity="0.75" stroke-width="3.0" stroke-linejoin="round"/>
<polyline points="612.7,331.5 615.3,330.8 617.9,331.4 620.4,331.9 623.0,331.5 625.3,330.1 628.3,330.6 630.6,329.0 633.2,328.4 635.7,328.2 638.3,329.0 638.9,331.5 639.5,334.0 639.6,336.6 639.4,339.2 639.2,341.8 639.5,344.4 640.8,346.8 639.4,349.2 638.8,351.9 636.9,354.1 636.6,357.0 635.7,359.6 635.6,362.4 634.6,364.9 633.2,367.3 632.7,370.0 634.8,372.3 633.8,375.1 634.4,377.6 635.1,380.1 635.8,382.6 635.7,385.2 633.2,387.8" fill="none" stroke="#fff" stroke-opacity="0.75" stroke-width="3.0" stroke-linejoin="round"/>
<polyline points="602.4,349.4 604.9,350.3 605.6,353.1 607.6,354.5 608.4,357.1 608.4,359.9 610.1,362.2 610.0,365.1 611.5,367.4 612.7,369.9 614.9,372.2 617.8,373.7 620.3,374.7 622.9,375.5 625.5,376.3 626.0,379.8 628.0,382.7 627.9,385.4 629.3,387.8 628.5,390.6 629.9,393.0 629.1,396.4 626.9,399.1 627.0,402.3 628.4,405.1 625.9,406.9 624.6,409.7 625.4,412.6 625.3,415.7" fill="none" stroke="#fff" stroke-opacity="0.75" stroke-width="3.0" stroke-linejoin="round"/>
<polyline points="635.7,386.5 638.5,385.8 640.4,383.2 643.4,382.7 644.7,380.6 646.8,379.3 648.5,377.6 650.6,375.4 653.6,375.0 656.4,374.1 658.8,372.4 661.7,372.3 664.2,373.5 666.5,375.0 668.1,377.2 669.8,379.4 672.4,380.6 674.1,382.7 676.2,384.9 678.9,386.0 682.1,386.0 684.4,387.8 687.1,387.8 689.3,389.8 691.9,390.2 694.6,390.4 697.5,390.4 699.4,387.7 702.3,387.8 704.1,390.0 706.0,392.0" fill="none" stroke="#fff" stroke-opacity="0.75" stroke-width="3.0" stroke-linejoin="round"/>
<polyline points="551.2,364.7 553.7,366.5 556.9,367.3 558.9,369.9 561.1,372.1 564.4,372.7 566.6,375.0 567.0,377.7 569.3,379.8 569.1,382.7 569.2,385.2 568.2,387.5 567.9,390.0 567.0,393.0 566.0,395.9 566.3,399.1 568.7,401.2 570.9,403.6 573.6,404.1 576.0,405.3 578.4,406.6 580.3,409.3 583.0,411.2 584.6,413.3 587.4,413.6 589.0,415.7 590.9,418.4 593.6,420.3 598.1,420.3 601.1,417.2 600.8,414.2 601.1,411.2 604.2,411.1 607.1,412.7 610.2,412.7 613.0,412.7 615.5,413.9 618.3,413.9 620.8,415.0 625.3,415.7 627.6,416.8 629.8,418.2 631.4,420.3 632.8,422.4 634.8,423.8 636.8,425.2 639.0,426.3 640.8,428.1 642.9,429.5 645.0,430.9 649.5,430.1 652.6,430.9 654.9,428.7 657.1,426.3 660.0,424.8 663.9,423.6 666.5,423.3 669.0,422.2 671.3,420.9 674.1,421.1 676.5,419.4 679.1,418.2 681.9,417.5 684.4,416.0 687.3,415.4 689.5,413.3 691.9,411.9 694.6,410.8 697.0,409.3 699.7,408.3 702.4,406.7 705.1,405.2 707.4,403.2" fill="none" stroke="#fff" stroke-opacity="0.75" stroke-width="3.0" stroke-linejoin="round"/>
<polyline points="601.1,417.2 601.7,420.3 602.6,423.3 603.8,426.5 605.7,429.3 606.5,432.3 607.2,435.4 609.5,436.9 611.7,438.4 614.2,440.5 616.3,443.0 614.7,446.0 611.7,447.5 609.6,449.3 608.7,452.0 607.9,456.6 608.8,459.5 608.7,462.6 609.8,465.1 609.9,467.6 609.4,470.2 609.5,472.7 609.0,475.2 609.9,477.6 610.2,480.0 612.3,482.1 612.5,485.0 614.9,486.5 617.2,488.2 619.0,490.5 620.8,492.7 623.8,494.2" fill="none" stroke="#fff" stroke-opacity="0.75" stroke-width="3.0" stroke-linejoin="round"/>
<polyline points="608.7,452.0 606.5,450.2 603.9,449.3 601.1,449.0 596.6,447.5 594.8,449.8 592.0,450.5 587.5,452.0 584.9,451.0 583.0,449.0 580.3,447.2 578.4,444.5 575.4,441.5 573.1,442.6 571.3,444.5 569.3,446.0" fill="none" stroke="#fff" stroke-opacity="0.75" stroke-width="3.0" stroke-linejoin="round"/>
<polyline points="652.6,430.9 653.2,433.4 653.7,435.9 654.1,438.4 653.6,441.1 654.6,443.6 655.6,446.0" fill="none" stroke="#fff" stroke-opacity="0.75" stroke-width="3.0" stroke-linejoin="round"/>
<polyline points="697.2,473.8 700.0,473.7 702.5,472.7 704.9,471.2 708.0,471.0" fill="none" stroke="#fff" stroke-opacity="0.75" stroke-width="3.0" stroke-linejoin="round"/>
<polyline points="704.3,594.2 704.5,596.9 702.9,599.2 702.1,601.6 702.1,604.3 702.3,607.4 700.6,610.0 700.0,612.9 697.8,614.5 697.4,617.4 695.7,619.3 694.0,621.3 690.9,620.5 689.3,622.7 687.1,623.6 684.6,624.5 682.6,626.1 680.7,627.9 677.6,629.1 674.3,630.0 671.7,630.1 669.6,631.3 668.3,634.1 665.7,634.3 664.0,636.3 661.0,635.6 659.3,637.6 657.1,638.6 652.9,640.7 651.5,643.6 648.6,645.0 647.8,648.1 649.0,651.0" fill="none" stroke="#fff" stroke-opacity="0.75" stroke-width="3.0" stroke-linejoin="round"/>
<polyline points="704.3,596.0 707.1,597.5 710.4,598.0 712.9,600.0 715.8,602.0 719.3,602.1 720.5,605.3 721.4,608.6 722.6,611.8 723.6,615.0 724.0,617.9 724.5,620.9 725.7,623.6 727.4,626.2 729.4,628.4 732.1,630.0 734.6,631.8 735.9,634.8 738.6,636.4 740.7,640.7 743.1,639.7 744.9,637.8 747.1,636.4 748.7,634.0 751.3,633.1 753.3,631.3 755.7,630.0 757.6,628.3 760.1,627.4 762.1,625.7" fill="none" stroke="#fff" stroke-opacity="0.75" stroke-width="3.0" stroke-linejoin="round"/>
<polyline points="702.0,522.5 703.3,524.9 704.4,528.4 707.4,529.4 710.3,530.7 714.9,529.6 714.9,524.9 717.3,522.6 721.9,523.8 725.4,526.1 727.7,523.8 731.2,524.9 732.7,527.4 734.7,529.6 736.4,532.2 739.4,533.1 741.9,534.1 742.9,536.6 744.4,538.6 746.4,540.1 749.8,542.4 750.0,545.7 752.2,548.2 752.3,550.9 752.3,553.5 751.0,556.0" fill="none" stroke="#fff" stroke-opacity="0.75" stroke-width="3.0" stroke-linejoin="round"/>
<polyline points="615.4,68.2 616.6,70.8 616.4,73.7 616.7,76.4 617.2,79.0 618.4,81.4 619.4,83.8 620.9,86.0 623.6,88.7 622.4,91.1 620.3,93.0 619.5,95.6 617.4,98.3 615.4,101.0 617.0,104.3 616.7,107.9 614.7,109.3 612.6,110.6 609.9,111.6 607.1,109.6 604.4,110.6 601.8,109.2 598.9,110.0 596.2,109.2 595.2,112.1 593.5,114.7 593.3,117.2 594.8,119.4 595.2,121.8 594.9,124.3 597.3,125.1 599.0,127.0 601.0,128.6 602.4,130.9 604.4,132.5 606.8,134.8 610.0,135.2 611.9,137.2 611.8,140.3 614.0,142.1 614.3,144.9 614.1,147.7 615.4,150.3 614.2,152.9 615.2,155.9 614.0,158.5 614.1,161.3 615.7,163.8 615.4,166.7 617.7,169.0 618.1,172.2 620.5,173.3 622.4,175.3 625.0,176.0 627.3,176.8 629.9,176.7 632.0,178.0 634.9,177.7 637.7,176.9 640.0,175.0 642.6,176.8 644.4,179.4 646.5,181.7" fill="none" stroke="#98d094" stroke-width="1.1" stroke-linejoin="round"/>
<polyline points="656.4,65.5 654.9,67.7 654.2,70.4 652.3,72.3 649.4,73.3 647.2,75.2 645.5,77.8 642.8,79.9 640.0,81.9 639.2,84.6 639.7,87.5 638.6,90.1 638.5,93.0 637.7,95.7 636.2,98.2 635.9,101.0 636.9,103.7 635.6,106.6 637.9,109.1 637.3,112.0 638.6,114.6 639.5,117.3 638.7,120.4 640.0,123.0 641.2,125.6 641.9,128.4 642.7,131.1 644.4,133.7 645.5,136.6 643.8,139.2 642.7,142.1" fill="none" stroke="#98d094" stroke-width="1.1" stroke-linejoin="round"/>
<polyline points="697.5,125.7 694.9,127.1 691.9,126.8 689.4,128.4 686.5,128.4 683.7,128.6 681.0,129.5 678.4,130.7 675.6,131.1 674.0,133.0 672.7,135.1 672.3,137.8 670.1,139.3 668.0,142.0 666.0,144.8 664.3,148.6 665.5,151.6 667.1,154.3 667.1,157.2 667.1,160.0 666.8,163.0 667.6,165.8 668.6,168.6 668.9,171.8 668.6,175.0" fill="none" stroke="#98d094" stroke-width="1.1" stroke-linejoin="round"/>
<polyline points="630.0,177.1 633.0,177.7 635.7,176.1 638.6,175.7 641.4,176.6 644.2,177.1 647.1,177.1" fill="none" stroke="#98d094" stroke-width="1.1" stroke-linejoin="round"/>
<polyline points="614.0,142.1 616.7,142.4 619.0,141.5 621.3,140.5 623.6,139.3 626.5,139.7 629.2,140.8 631.8,142.1 634.3,143.9 637.3,144.8 639.5,143.6 639.9,140.6 641.9,139.2 644.1,138.0 647.7,138.2 651.0,136.6 654.1,137.2 656.4,139.3 658.2,142.3 660.5,144.8 662.2,147.4 662.9,150.4 664.6,153.0" fill="none" stroke="#98d094" stroke-width="1.1" stroke-linejoin="round"/>
<polyline points="593.5,114.7 591.2,116.4 590.5,119.3 588.1,120.9 586.1,122.9 585.3,125.7 582.7,127.0 579.6,126.9 577.1,128.4 574.5,129.6 571.9,130.9 568.9,131.1 566.3,132.3 563.3,132.4 560.7,133.9 559.6,136.4 557.0,137.8 555.8,140.3 553.8,142.1 553.1,145.2 551.2,147.6 549.7,150.3 549.0,152.9 548.0,155.3 547.0,157.8" fill="none" stroke="#98d094" stroke-width="1.1" stroke-linejoin="round"/>
<polyline points="547.0,157.8 549.0,159.3 551.0,160.8 554.0,160.2 555.3,163.1 557.9,163.3 560.3,165.3 563.8,165.2 566.1,167.4 566.9,170.4 568.9,172.8 569.4,175.3 571.7,176.9 571.2,179.9 573.5,181.5 574.3,183.8 575.3,186.5 575.8,189.4 577.1,192.0 575.7,194.3 575.0,197.0" fill="none" stroke="#98d094" stroke-width="1.1" stroke-linejoin="round"/>
<polyline points="512.3,207.1 514.9,205.9 517.7,205.7 519.7,204.0 522.1,202.8 523.2,200.3 526.1,198.5 528.6,196.2 531.3,194.8 533.9,193.1 536.8,192.1 539.3,190.7 542.2,190.8 546.0,192.1 549.3,193.1 552.5,192.0 553.9,194.2 556.5,195.3 557.9,197.5 560.6,198.6 563.2,199.7 566.1,200.2 568.8,201.8 572.0,201.6" fill="none" stroke="#98d094" stroke-width="1.1" stroke-linejoin="round"/>
<polyline points="588.0,212.0 588.5,214.6 586.7,216.9 586.2,219.4 586.7,222.0 587.3,224.7 587.8,227.4 588.3,230.2 588.0,233.0 589.3,235.6 589.3,238.4 589.7,241.2 589.4,244.0 589.0,246.7 590.8,249.1 591.1,251.6 590.8,254.3" fill="none" stroke="#98d094" stroke-width="1.1" stroke-linejoin="round"/>
<polyline points="612.0,170.0 609.6,171.1 607.0,171.4 604.4,172.0 603.0,175.0 601.8,178.0 603.9,180.5 604.4,183.8 606.3,185.6 607.4,188.1 610.0,189.2 612.1,191.1 614.4,192.9 616.7,194.7 616.9,197.6 618.5,200.1 619.7,202.8 619.3,205.9 620.9,208.4 622.3,210.9 621.4,214.1 622.1,216.8 623.6,219.3 626.3,220.3 629.1,221.1 631.8,222.0 634.4,222.6 636.3,224.2 637.6,226.7 640.0,227.6 641.6,230.6 644.1,233.0" fill="none" stroke="#98d094" stroke-width="1.1" stroke-linejoin="round"/>
<polyline points="618.0,172.5 620.2,175.3 623.6,176.6 626.4,177.5 628.8,179.5 631.8,180.0 634.4,179.0 637.2,179.1 639.9,178.2 642.7,178.3" fill="none" stroke="#98d094" stroke-width="1.1" stroke-linejoin="round"/>
<polyline points="585.0,158.0 587.5,160.0 590.6,160.7 592.9,162.1 593.6,165.1 596.2,166.3 598.1,168.2 600.1,169.9 601.8,171.9" fill="none" stroke="#98d094" stroke-width="1.1" stroke-linejoin="round"/>
<polyline points="568.2,169.1 570.3,167.0 572.7,165.2 574.7,163.0 576.6,160.7 579.5,160.2 582.5,159.7 585.0,158.0" fill="none" stroke="#98d094" stroke-width="1.1" stroke-linejoin="round"/>
<polyline points="605.0,197.0 606.7,199.4 605.5,202.5 607.0,205.0 605.1,207.8 604.0,211.0" fill="none" stroke="#98d094" stroke-width="1.1" stroke-linejoin="round"/>
<polyline points="223.4,199.1 225.2,200.9 226.8,202.8 227.4,205.4 226.5,207.7 226.9,210.3 225.8,212.5" fill="none" stroke="#98d094" stroke-width="1.1" stroke-linejoin="round"/>
<polyline points="203.3,135.0 202.7,137.6 204.5,140.0 205.0,142.5 204.4,145.1 206.4,146.8 206.5,149.6 207.6,151.8 209.6,153.5 211.9,155.9 215.0,156.7 218.0,157.7 220.7,159.4 223.4,160.9 226.4,161.9 228.5,163.3 230.5,164.8 232.7,166.1 235.2,166.8 237.5,168.1 239.0,170.3 240.7,172.4 242.8,173.7 245.3,174.5 245.4,178.0 247.4,180.8 245.4,182.6 244.2,185.0 245.3,189.2 247.2,191.4 249.4,193.3 249.1,196.7 247.4,199.6 244.8,200.3 243.1,202.3 241.0,203.8 237.6,204.1 234.8,205.9 231.8,204.3 228.5,203.8 226.8,201.7 224.3,200.7 221.2,199.9 218.0,199.6 214.6,200.0 211.7,201.7 209.7,203.2 207.2,204.1 205.4,205.9 203.3,208.0 201.2,210.1 199.2,213.0" fill="none" stroke="#98d094" stroke-width="1.1" stroke-linejoin="round"/>
<polyline points="245.3,176.0 248.1,175.8 250.6,174.4 253.3,173.8 255.7,172.4 258.0,170.0 261.4,169.9 264.1,168.2 266.5,167.0 268.3,165.0 270.4,163.4 272.5,161.9 274.2,159.4 276.7,157.7 278.7,156.0 281.0,154.7 283.4,153.6 285.0,151.4 286.6,149.4 287.8,147.1 289.3,145.1 289.6,142.2 291.3,139.7 291.4,136.8 295.5,134.7 299.7,134.5" fill="none" stroke="#98d094" stroke-width="1.1" stroke-linejoin="round"/>
<polyline points="276.7,157.7 277.3,160.5 277.4,163.3 276.7,166.1 278.3,168.8 280.2,171.4 280.9,174.5 283.7,173.6 286.3,172.3 289.3,172.4 291.3,174.5 293.3,176.7 295.5,178.7 296.5,181.4 296.2,184.4 297.6,187.0 299.9,188.5 299.5,191.8 301.8,193.3 304.0,195.3 306.5,197.0 308.1,199.6 310.5,202.6 312.2,200.6 314.2,198.9 315.9,196.9 317.9,195.2 321.0,195.1 323.5,197.0 326.2,198.4 329.1,198.9 332.8,197.0 335.7,196.4 338.4,195.2 341.3,193.5 344.0,191.5 345.2,188.8 345.9,185.9 347.6,183.4 347.7,180.3 349.5,178.4 351.5,176.6 353.3,174.7 355.9,173.0 357.0,170.0 359.7,169.4 361.5,167.3 361.5,164.5 362.2,161.8 364.6,159.7 364.7,156.9 365.2,154.2 364.8,150.9 365.8,147.9 367.0,144.9 365.7,142.6 365.0,140.0 363.3,137.5" fill="none" stroke="#98d094" stroke-width="1.1" stroke-linejoin="round"/>
<polyline points="314.2,198.9 314.4,202.1 316.2,205.0 316.1,208.2 317.6,210.5 317.6,213.1 317.9,215.7 319.3,218.5 322.0,220.4 323.5,223.1 324.0,226.0 325.8,228.2 327.3,230.6 329.1,232.5 330.8,234.5 332.8,236.2 334.1,239.1 335.6,241.8" fill="none" stroke="#98d094" stroke-width="1.1" stroke-linejoin="round"/>
<polyline points="365.2,154.2 365.3,156.9 367.7,158.6 367.4,161.4 368.9,163.5 370.7,166.1 371.8,169.1 374.5,171.0 375.6,173.5 377.1,175.9 378.2,178.4 379.7,180.7 379.6,183.4 380.1,185.9 378.5,188.1 377.8,190.6 378.2,193.3 379.4,195.7 378.8,198.5 380.1,200.8 380.1,203.4 378.7,205.7 378.2,208.2 379.3,211.0 380.1,214.0" fill="none" stroke="#98d094" stroke-width="1.1" stroke-linejoin="round"/>
<polyline points="379.3,135.0 380.2,138.3 381.2,141.6 383.8,144.9 385.7,147.1 385.4,150.4 387.6,152.4 388.2,155.3 389.3,158.0 389.5,161.0 391.3,163.5 392.8,166.4 391.9,169.8 393.2,172.8 394.7,175.4 395.0,178.4 396.4,175.6 398.4,173.2 400.6,171.0 402.9,168.8 405.1,166.6 406.2,163.5 409.1,163.0 411.7,161.7 413.2,159.0 414.8,156.2 417.3,154.2 418.8,151.1 421.0,148.6 423.4,151.1 424.7,154.2 425.3,157.3 425.9,160.4 426.6,163.5 428.6,165.6 429.6,168.2 430.3,171.0" fill="none" stroke="#98d094" stroke-width="1.1" stroke-linejoin="round"/>
<polyline points="238.3,266.0 239.7,268.2 239.1,270.8 240.0,273.0 239.3,275.6 240.7,277.8 239.3,280.0 238.3,282.4 236.3,284.3 236.0,287.1 235.7,290.3 233.7,293.1 233.7,296.4 233.3,298.8 232.1,301.0 230.9,303.1 231.3,305.7 230.0,310.0" fill="none" stroke="#98d094" stroke-width="1.1" stroke-linejoin="round"/>
<polyline points="243.0,266.1 245.8,265.7 248.6,265.4 251.3,264.3 254.4,265.2 257.0,263.8 259.9,265.0 262.9,265.8 266.0,266.0 269.3,268.8" fill="none" stroke="#98d094" stroke-width="1.1" stroke-linejoin="round"/>
<polyline points="296.6,305.4 299.1,303.7 302.0,302.9 305.0,303.0 307.4,302.1 309.8,300.7 312.8,301.6 315.0,300.0 317.1,298.1 320.0,298.1 322.4,296.7 325.0,296.0 327.6,295.7 329.4,293.3 332.0,293.0" fill="none" stroke="#98d094" stroke-width="1.1" stroke-linejoin="round"/>
<polyline points="180.0,225.0 182.0,227.2 185.0,227.6 187.8,228.1 190.0,230.0 192.0,232.2 195.1,232.3 197.2,234.3 200.0,235.0 202.2,237.0 203.2,239.7 202.8,243.0 205.0,245.0 203.0,246.6 203.1,249.6 200.8,251.0 199.5,253.1 198.0,255.0 196.4,257.2 194.6,259.2 192.3,260.6 190.0,262.0" fill="none" stroke="#98d094" stroke-width="1.1" stroke-linejoin="round"/>
<polyline points="231.8,403.0 230.0,405.2 230.5,408.1 229.0,410.4 226.2,412.3 224.3,415.1 221.3,417.1 218.0,418.3 216.0,420.1 215.1,422.7 213.3,424.6 213.9,427.0 214.9,429.3 212.4,431.5 210.2,434.0 207.0,437.2 206.4,440.2 203.9,441.9 202.7,444.1 202.3,446.6 200.7,449.7 196.0,449.7 192.9,450.9 189.7,450.5 186.6,450.1 183.4,449.7 180.2,449.4 177.2,450.5 173.9,451.4 170.9,452.9 167.5,454.0 164.6,456.0 161.4,459.2 160.7,463.9 158.3,467.0 155.3,468.2 152.0,468.6 149.7,470.2 147.3,471.7" fill="none" stroke="#98d094" stroke-width="1.1" stroke-linejoin="round"/>
<polyline points="189.7,450.5 191.1,452.4 192.7,454.3 194.4,456.0 196.1,458.0 197.3,460.4 199.2,462.3 199.2,467.0 202.3,470.2 203.2,472.5 203.9,474.9 208.6,475.7 211.8,476.0 214.9,476.5 217.7,477.4 219.6,479.6 223.1,480.4 225.9,482.7 229.1,483.0 232.2,482.7 235.2,481.4 238.5,482.0 240.7,483.5 243.2,484.3 245.0,486.0 247.0,487.5 248.5,489.8 248.9,492.7 250.7,494.9 251.9,497.1 252.7,499.5 252.9,502.1 254.4,504.2 255.1,507.3 255.6,510.4 256.3,513.5 257.7,516.5 256.6,519.7 257.2,522.8 259.1,524.4 260.9,526.1 261.9,528.4 263.5,531.4 265.6,534.0 268.5,535.7 271.2,537.7 274.0,537.1 276.8,537.7 280.5,539.6 282.5,542.3 284.2,545.2 284.8,548.3 284.4,551.4 284.2,554.5 286.7,556.8 289.8,558.2 292.3,556.3 295.4,556.4 297.8,555.1 299.1,552.6 301.7,552.3 304.2,551.7 306.6,550.8 309.2,550.7 311.5,552.3 314.0,552.6 316.8,552.2 319.0,554.0 321.5,554.5 324.8,554.5 328.0,555.1 330.2,557.9 333.5,559.3 336.8,557.7 340.5,557.9 343.3,555.8 346.1,553.7 348.3,551.8 350.3,549.6 353.1,546.8 355.7,548.5 358.7,548.2 360.2,550.2 361.5,552.4 363.1,555.1 364.3,558.0 366.4,560.1 368.5,562.1 371.1,563.4 374.0,563.5 377.5,564.0 381.0,563.5 383.9,563.9 386.6,564.9 389.2,566.7 392.2,567.7 394.3,569.8 396.4,571.9 396.6,574.8 397.8,577.5 399.2,579.6 400.6,581.7 403.2,583.3 404.8,585.9 406.8,587.6 407.6,590.1" fill="none" stroke="#98d094" stroke-width="1.1" stroke-linejoin="round"/>
<polyline points="199.2,467.0 196.5,469.5 192.9,470.2 190.6,469.1 188.2,468.6 185.7,470.8 183.4,473.3 182.6,476.1 180.3,478.0 177.2,481.2 177.4,484.6 175.6,487.5 174.3,490.2 175.2,493.1 175.1,495.9 174.3,498.6 173.0,500.8 171.6,502.9 171.9,505.7 170.6,507.9 168.5,510.0 168.5,513.1 166.9,515.4 168.0,518.0 170.3,519.5 172.5,521.0 173.3,523.8 171.6,526.6 173.4,529.4 172.5,532.2 172.4,534.9 170.4,536.8 168.7,538.8 168.7,541.5 169.1,544.8 166.5,547.5 166.9,550.8 166.8,553.7 167.3,556.5 168.5,559.2 168.7,562.0 171.4,563.6 174.0,565.3 176.2,567.5 178.0,570.0" fill="none" stroke="#98d094" stroke-width="1.1" stroke-linejoin="round"/>
<polyline points="177.2,481.2 174.3,479.5 170.9,479.6 166.2,478.8 164.1,480.5 161.4,481.2 158.3,484.3 157.5,488.0" fill="none" stroke="#98d094" stroke-width="1.1" stroke-linejoin="round"/>
<polyline points="244.9,485.7 246.9,484.0 249.1,482.4 250.5,480.1 251.0,477.1 252.4,474.5 255.4,474.3 257.9,472.6 260.6,472.8 263.1,472.4 265.4,470.8 267.9,471.1 270.3,470.4 272.8,470.8 275.8,470.5 278.4,468.9 280.9,468.0 283.4,469.0 285.9,468.9 288.2,467.5 291.0,468.3 293.3,467.1" fill="none" stroke="#98d094" stroke-width="1.1" stroke-linejoin="round"/>
<polyline points="310.1,417.7 309.6,420.2 309.6,422.9 308.2,425.3 308.2,427.9 307.0,430.9 306.7,434.1 306.4,437.3 307.5,439.8 307.0,442.2 306.4,444.7 304.8,446.8 301.9,447.7 300.8,450.3 298.1,451.9 295.8,454.0 293.3,455.9 292.3,458.3 292.9,461.0 291.5,463.3 293.3,467.1 295.9,469.3 298.9,470.8 301.5,472.9 304.5,474.5 307.2,474.5 309.6,475.5 312.0,476.4 314.5,476.8 316.7,478.6 319.4,478.2 323.1,480.1 326.9,482.0 329.0,483.6 330.6,485.7 332.5,488.2 332.4,491.3 333.0,494.0" fill="none" stroke="#98d094" stroke-width="1.1" stroke-linejoin="round"/>
<polyline points="323.1,478.5 325.5,477.4 328.3,477.7 330.6,476.4 332.8,474.9 335.4,474.7 338.0,474.5 340.6,474.9 342.8,476.6 345.5,476.4 348.0,476.1 350.4,476.6 352.9,476.4 355.7,475.5 358.5,476.4 362.2,474.5 362.1,471.9 363.9,469.7 364.1,467.1 364.2,464.6 364.6,462.1 364.1,459.6 364.9,456.3 366.0,453.0" fill="none" stroke="#98d094" stroke-width="1.1" stroke-linejoin="round"/>
<polyline points="257.2,522.8 255.8,524.8 254.2,526.7 252.5,528.4 251.0,530.7 250.4,533.2 250.7,535.9 252.0,538.1 251.8,540.8 252.5,543.2 254.4,545.2 251.8,543.6 248.8,543.3 245.7,543.4 243.2,541.5 240.4,540.4 237.6,541.5 236.1,543.7 233.9,545.2 232.7,547.5 233.4,550.3 232.1,552.6 230.1,554.4 228.3,556.4 225.9,557.2 223.3,557.2 220.9,558.2 217.8,559.6 215.3,562.0" fill="none" stroke="#98d094" stroke-width="1.1" stroke-linejoin="round"/>
<polyline points="280.5,539.6 281.0,537.2 281.5,534.8 282.7,532.5 283.3,530.1 282.8,527.5 283.8,525.2 284.2,522.8 286.2,521.1 287.9,519.1 291.6,517.2 292.5,515.0" fill="none" stroke="#98d094" stroke-width="1.1" stroke-linejoin="round"/>
<polyline points="361.5,552.4 360.6,554.7 360.2,557.2 358.7,559.3 355.3,560.5 353.1,563.5 350.4,563.6 348.2,564.9 346.1,566.3 343.0,567.0 340.5,569.1 338.9,571.7 336.0,572.6" fill="none" stroke="#98d094" stroke-width="1.1" stroke-linejoin="round"/>
<polyline points="386.6,564.9 386.3,561.4 385.2,558.0 386.8,555.8 388.2,553.4 389.4,551.0 391.2,549.1 393.6,547.8 395.0,545.4 397.8,544.6 400.6,544.9 403.4,545.4 406.1,547.0 409.0,548.2 411.9,547.9 414.6,549.2" fill="none" stroke="#98d094" stroke-width="1.1" stroke-linejoin="round"/>
<polyline points="367.8,484.0 370.7,483.2 373.4,482.0 376.2,482.1 379.0,482.0 383.0,484.0" fill="none" stroke="#98d094" stroke-width="1.1" stroke-linejoin="round"/>
<polyline points="130.0,459.2 132.7,460.0 134.3,462.2 136.3,463.9 136.3,468.6 139.0,471.1 142.6,471.7 147.3,471.7" fill="none" stroke="#98d094" stroke-width="1.1" stroke-linejoin="round"/>
<polyline points="612.7,331.5 615.3,330.8 617.9,331.4 620.4,331.9 623.0,331.5 625.3,330.1 628.3,330.6 630.6,329.0 633.2,328.4 635.7,328.2 638.3,329.0 638.9,331.5 639.5,334.0 639.6,336.6 639.4,339.2 639.2,341.8 639.5,344.4 640.8,346.8 639.4,349.2 638.8,351.9 636.9,354.1 636.6,357.0 635.7,359.6 635.6,362.4 634.6,364.9 633.2,367.3 632.7,370.0 634.8,372.3 633.8,375.1 634.4,377.6 635.1,380.1 635.8,382.6 635.7,385.2 633.2,387.8" fill="none" stroke="#98d094" stroke-width="1.1" stroke-linejoin="round"/>
<polyline points="602.4,349.4 604.9,350.3 605.6,353.1 607.6,354.5 608.4,357.1 608.4,359.9 610.1,362.2 610.0,365.1 611.5,367.4 612.7,369.9 614.9,372.2 617.8,373.7 620.3,374.7 622.9,375.5 625.5,376.3 626.0,379.8 628.0,382.7 627.9,385.4 629.3,387.8 628.5,390.6 629.9,393.0 629.1,396.4 626.9,399.1 627.0,402.3 628.4,405.1 625.9,406.9 624.6,409.7 625.4,412.6 625.3,415.7" fill="none" stroke="#98d094" stroke-width="1.1" stroke-linejoin="round"/>
<polyline points="635.7,386.5 638.5,385.8 640.4,383.2 643.4,382.7 644.7,380.6 646.8,379.3 648.5,377.6 650.6,375.4 653.6,375.0 656.4,374.1 658.8,372.4 661.7,372.3 664.2,373.5 666.5,375.0 668.1,377.2 669.8,379.4 672.4,380.6 674.1,382.7 676.2,384.9 678.9,386.0 682.1,386.0 684.4,387.8 687.1,387.8 689.3,389.8 691.9,390.2 694.6,390.4 697.5,390.4 699.4,387.7 702.3,387.8 704.1,390.0 706.0,392.0" fill="none" stroke="#98d094" stroke-width="1.1" stroke-linejoin="round"/>
<polyline points="551.2,364.7 553.7,366.5 556.9,367.3 558.9,369.9 561.1,372.1 564.4,372.7 566.6,375.0 567.0,377.7 569.3,379.8 569.1,382.7 569.2,385.2 568.2,387.5 567.9,390.0 567.0,393.0 566.0,395.9 566.3,399.1 568.7,401.2 570.9,403.6 573.6,404.1 576.0,405.3 578.4,406.6 580.3,409.3 583.0,411.2 584.6,413.3 587.4,413.6 589.0,415.7 590.9,418.4 593.6,420.3 598.1,420.3 601.1,417.2 600.8,414.2 601.1,411.2 604.2,411.1 607.1,412.7 610.2,412.7 613.0,412.7 615.5,413.9 618.3,413.9 620.8,415.0 625.3,415.7 627.6,416.8 629.8,418.2 631.4,420.3 632.8,422.4 634.8,423.8 636.8,425.2 639.0,426.3 640.8,428.1 642.9,429.5 645.0,430.9 649.5,430.1 652.6,430.9 654.9,428.7 657.1,426.3 660.0,424.8 663.9,423.6 666.5,423.3 669.0,422.2 671.3,420.9 674.1,421.1 676.5,419.4 679.1,418.2 681.9,417.5 684.4,416.0 687.3,415.4 689.5,413.3 691.9,411.9 694.6,410.8 697.0,409.3 699.7,408.3 702.4,406.7 705.1,405.2 707.4,403.2" fill="none" stroke="#98d094" stroke-width="1.1" stroke-linejoin="round"/>
<polyline points="601.1,417.2 601.7,420.3 602.6,423.3 603.8,426.5 605.7,429.3 606.5,432.3 607.2,435.4 609.5,436.9 611.7,438.4 614.2,440.5 616.3,443.0 614.7,446.0 611.7,447.5 609.6,449.3 608.7,452.0 607.9,456.6 608.8,459.5 608.7,462.6 609.8,465.1 609.9,467.6 609.4,470.2 609.5,472.7 609.0,475.2 609.9,477.6 610.2,480.0 612.3,482.1 612.5,485.0 614.9,486.5 617.2,488.2 619.0,490.5 620.8,492.7 623.8,494.2" fill="none" stroke="#98d094" stroke-width="1.1" stroke-linejoin="round"/>
<polyline points="608.7,452.0 606.5,450.2 603.9,449.3 601.1,449.0 596.6,447.5 594.8,449.8 592.0,450.5 587.5,452.0 584.9,451.0 583.0,449.0 580.3,447.2 578.4,444.5 575.4,441.5 573.1,442.6 571.3,444.5 569.3,446.0" fill="none" stroke="#98d094" stroke-width="1.1" stroke-linejoin="round"/>
<polyline points="652.6,430.9 653.2,433.4 653.7,435.9 654.1,438.4 653.6,441.1 654.6,443.6 655.6,446.0" fill="none" stroke="#98d094" stroke-width="1.1" stroke-linejoin="round"/>
<polyline points="697.2,473.8 700.0,473.7 702.5,472.7 704.9,471.2 708.0,471.0" fill="none" stroke="#98d094" stroke-width="1.1" stroke-linejoin="round"/>
<polyline points="704.3,594.2 704.5,596.9 702.9,599.2 702.1,601.6 702.1,604.3 702.3,607.4 700.6,610.0 700.0,612.9 697.8,614.5 697.4,617.4 695.7,619.3 694.0,621.3 690.9,620.5 689.3,622.7 687.1,623.6 684.6,624.5 682.6,626.1 680.7,627.9 677.6,629.1 674.3,630.0 671.7,630.1 669.6,631.3 668.3,634.1 665.7,634.3 664.0,636.3 661.0,635.6 659.3,637.6 657.1,638.6 652.9,640.7 651.5,643.6 648.6,645.0 647.8,648.1 649.0,651.0" fill="none" stroke="#98d094" stroke-width="1.1" stroke-linejoin="round"/>
<polyline points="704.3,596.0 707.1,597.5 710.4,598.0 712.9,600.0 715.8,602.0 719.3,602.1 720.5,605.3 721.4,608.6 722.6,611.8 723.6,615.0 724.0,617.9 724.5,620.9 725.7,623.6 727.4,626.2 729.4,628.4 732.1,630.0 734.6,631.8 735.9,634.8 738.6,636.4 740.7,640.7 743.1,639.7 744.9,637.8 747.1,636.4 748.7,634.0 751.3,633.1 753.3,631.3 755.7,630.0 757.6,628.3 760.1,627.4 762.1,625.7" fill="none" stroke="#98d094" stroke-width="1.1" stroke-linejoin="round"/>
<polyline points="702.0,522.5 703.3,524.9 704.4,528.4 707.4,529.4 710.3,530.7 714.9,529.6 714.9,524.9 717.3,522.6 721.9,523.8 725.4,526.1 727.7,523.8 731.2,524.9 732.7,527.4 734.7,529.6 736.4,532.2 739.4,533.1 741.9,534.1 742.9,536.6 744.4,538.6 746.4,540.1 749.8,542.4 750.0,545.7 752.2,548.2 752.3,550.9 752.3,553.5 751.0,556.0" fill="none" stroke="#98d094" stroke-width="1.1" stroke-linejoin="round"/>
<defs><clipPath id="cp0"><polygon points="89.9,117.9 91.8,115.3 92.4,112.1 94.9,112.9 98.1,116.2 99.9,117.9 102.2,118.7 104.2,116.5 106.4,114.6 108.5,112.1 111.3,110.5 113.8,109.3 116.2,108.0 116.8,104.6 117.9,101.4 120.4,99.8 122.0,97.3 125.2,95.7 128.5,99.0 131.0,98.6 133.5,99.0 135.9,101.4 137.2,103.4 138.4,105.5 142.5,107.2 144.9,108.2 147.4,108.8 149.5,110.9 152.4,111.3 154.8,112.1 157.3,112.9 159.7,114.2 161.4,116.2 163.0,117.0 165.5,113.7 168.8,111.3 170.5,109.1 171.2,106.4 171.1,103.1 170.4,99.8 173.7,96.5 176.1,95.6 178.6,95.7 182.7,94.0 185.4,94.1 187.9,93.4 190.3,92.2 192.8,91.6 195.0,90.0 196.6,88.1 199.0,87.2 201.1,85.9 202.6,84.0 204.1,82.0 206.0,80.5 205.8,77.8 207.1,75.6 208.1,73.2 208.5,70.7 210.6,67.8 211.0,64.2 215.0,61.8 217.8,60.0 219.1,56.9 221.6,60.1 222.8,63.4 224.0,66.7 225.0,69.6 227.3,71.6 230.0,72.8 232.2,74.8 233.3,77.3 235.4,78.9 238.7,75.6 242.0,78.9 243.6,82.0 245.9,83.1 248.7,83.0 250.5,85.4 253.0,86.0 255.4,84.4 258.4,83.9 260.8,82.2 263.1,80.5 262.2,77.6 263.5,74.8 264.6,72.0 264.0,69.1 265.6,67.1 268.0,65.9 269.7,63.6 272.0,61.8 273.6,64.0 276.2,65.0 279.0,66.1 281.0,68.3 282.5,70.4 284.3,72.4 284.6,69.1 286.0,66.0 287.8,62.9 287.6,59.3 290.8,56.9 294.0,54.4 296.7,52.7 298.4,50.0 300.6,51.2 303.9,47.9 306.2,46.6 308.7,45.5 311.0,44.2 313.6,44.7 315.5,42.4 318.0,40.7 319.7,38.8 322.0,37.5 323.0,35.0 324.9,33.0 327.7,32.7 330.0,31.4 333.3,32.4 336.8,32.6 338.3,34.9 340.0,37.0 342.0,35.1 342.9,32.5 345.1,30.7 345.8,28.0 347.0,25.6 349.0,23.4 350.8,21.0 354.3,21.4 357.8,22.0 360.6,24.0 363.6,25.6 365.3,23.1 367.6,21.0 369.4,18.6 371.5,16.7 373.7,15.0 376.4,14.0 378.4,12.2 381.0,11.6 383.9,13.0 387.0,14.0 389.8,12.7 392.3,10.8 395.0,9.3 397.6,9.2 399.5,11.4 402.0,11.6 403.4,13.8 405.3,15.5 407.8,16.3 410.6,20.0 409.6,22.8 410.0,25.7 408.4,28.1 407.6,30.8 407.7,33.7 409.1,36.6 410.6,39.4 413.4,38.6 416.3,38.3 419.1,41.7 417.8,43.8 417.4,46.3 415.5,48.9 412.9,50.9 412.3,54.3 413.4,57.7 412.4,60.3 411.9,62.9 412.3,65.7 410.6,67.7 410.6,70.3 408.2,72.5 406.0,74.9 403.5,76.6 402.6,79.4 400.3,82.9 399.0,85.1 398.0,87.4 396.9,92.0 397.3,94.5 397.4,97.0 399.5,100.0 402.6,98.9 404.1,96.1 404.9,93.1 407.0,89.0 410.6,86.3 415.0,88.0 415.2,90.8 416.4,93.1 418.4,95.0 418.0,98.7 419.3,102.4 418.7,105.2 419.3,108.0 419.8,110.9 418.4,113.6 420.3,116.4 424.0,117.3 426.8,113.6 429.6,109.9 433.3,109.0 437.0,109.9 441.7,109.9 445.4,111.8 444.5,114.6 442.6,118.3 443.3,120.7 444.5,122.9 445.4,127.6 446.4,129.9 447.3,132.2 447.3,136.9 446.1,139.1 445.4,141.6 442.8,143.7 441.5,146.8 441.8,149.5 441.0,152.0 440.5,155.0 441.0,158.0 440.3,161.4 438.0,164.0 436.4,166.4 434.0,168.0 431.5,169.5 430.0,172.0 429.9,175.1 429.0,178.0 426.9,179.6 426.0,182.0 424.6,184.6 422.0,186.0 420.0,190.0 419.7,193.2 418.0,196.0 417.1,198.9 417.0,202.0 418.2,204.4 417.4,207.0 416.6,209.7 415.2,212.2 415.3,215.2 414.7,217.9 413.6,220.5 414.4,223.6 412.4,225.9 412.0,228.7 410.6,231.4 409.7,234.2 407.5,236.2 405.5,238.4 403.6,240.1 401.4,241.5 398.9,243.3 396.1,244.7 393.0,246.8 390.9,249.6 390.9,253.0 390.8,256.5 388.8,259.3 388.7,262.8 386.7,265.6 384.0,266.4 382.5,268.8 379.7,271.0 376.2,271.9 373.4,273.7 370.0,274.0 369.5,277.4 367.8,280.3 367.1,283.5 367.8,286.6 365.7,290.8 362.9,290.4 360.7,292.9 357.9,292.5 355.3,292.9 353.7,295.0 351.4,296.1 349.0,297.0 348.1,299.4 345.9,301.0 344.8,303.3 340.6,305.4 338.5,307.5 336.4,311.7 334.5,314.1 332.2,316.0 329.6,317.4 326.6,317.3 323.8,318.0 321.2,319.7 318.4,320.3 315.4,320.1 312.6,318.0 309.2,318.0 306.6,316.4 305.0,313.8 302.7,311.9 300.8,309.6 297.7,308.6 294.5,308.6 291.7,306.3 288.2,305.4 285.5,303.0 281.9,302.3 280.4,305.4 277.7,307.5 274.8,307.8 271.9,307.9 269.3,309.6 266.9,311.6 263.6,311.4 261.0,312.8 259.3,310.8 256.6,310.3 254.7,308.6 251.6,309.6 248.4,309.6 245.7,308.7 242.8,308.3 240.0,307.5 236.0,308.0 233.9,309.5 231.4,309.7 229.0,310.4 226.6,309.4 224.4,308.0 222.0,307.0 219.7,305.0 217.1,303.3 215.0,301.0 213.2,298.8 212.6,295.9 210.4,294.0 207.7,292.7 205.8,290.4 202.7,289.6 201.0,287.0 199.3,285.0 196.8,284.2 195.0,282.4 193.7,279.4 193.9,276.2 194.0,273.0 192.4,270.4 191.8,267.3 191.8,264.6 189.6,262.8 188.5,260.5 188.0,258.0 186.7,255.7 186.9,252.8 185.3,250.7 184.2,248.3 183.0,246.0 182.4,243.5 180.8,241.4 179.8,239.1 179.3,236.5 177.0,234.8 177.0,232.0 175.1,229.8 174.2,227.2 172.7,224.8 172.0,222.0 169.8,218.5 167.5,220.4 165.6,222.7 162.9,223.7 159.8,223.3 157.2,224.8 154.4,224.7 151.7,225.0 148.9,224.8 146.7,223.6 144.9,221.6 142.6,220.6 141.7,217.8 141.5,214.9 140.5,212.2 139.8,209.3 141.0,206.6 141.5,203.8 142.6,200.4 144.7,197.5 147.4,194.2 150.7,191.0 152.7,188.7 155.6,187.7 158.1,188.2 160.6,188.5 163.0,188.1 165.5,187.7 166.9,185.7 168.0,183.6 169.3,180.4 169.6,177.0 170.4,173.7 169.6,170.4 169.2,167.2 168.8,163.9 167.5,160.7 167.1,157.3 165.4,154.9 163.9,152.4 160.6,150.7 157.3,152.4 154.6,152.6 152.4,154.0 149.1,153.2 145.8,154.0 143.3,150.7 140.9,150.7 137.6,154.0 133.5,152.4 129.4,151.5 126.9,149.9 125.2,146.6 124.4,142.5 124.8,139.9 123.6,137.6 120.3,134.3 118.6,132.5 116.2,131.8 113.6,132.1 111.3,131.0 109.0,129.5 106.4,130.2 102.2,131.0 99.8,134.3 97.5,132.4 94.9,131.0 92.7,128.7 92.6,125.3 90.8,122.8 91.4,120.2"/></clipPath><clipPath id="cp1"><polygon points="632.5,29.8 635.0,30.5 636.7,32.6 636.4,35.5 637.0,38.3 638.0,41.0 639.8,43.1 640.7,45.7 642.0,48.0 643.8,50.0 645.2,52.4 646.8,54.6 649.0,56.3 651.9,57.5 654.3,59.3 656.0,62.0 656.9,64.4 659.0,66.0 660.5,68.3 661.2,71.0 663.0,73.0 665.8,73.5 667.4,75.7 669.2,77.7 671.6,78.7 674.5,78.4 677.1,80.2 679.9,80.4 682.9,78.7 685.6,80.0 688.5,79.3 691.2,80.8 693.9,82.1 696.8,81.5 699.6,81.5 702.4,81.4 705.2,82.2 708.0,81.6 710.7,82.9 713.6,82.5 716.4,83.2 719.2,83.5 722.0,83.7 724.4,84.9 726.0,87.0 725.1,89.4 723.3,91.2 721.0,92.3 718.5,92.2 716.0,92.6 713.6,94.4 710.7,95.4 708.1,97.3 704.7,96.6 702.0,98.2 700.2,100.0 698.3,101.7 696.8,103.8 697.0,106.7 694.8,109.2 695.4,112.2 695.5,115.2 697.9,117.6 698.0,120.6 698.7,123.4 698.3,126.3 698.7,129.1 699.5,131.8 700.7,134.5 703.4,135.8 704.7,138.4 707.1,140.0 707.5,142.9 708.6,145.7 711.1,147.5 712.9,150.0 714.3,154.3 712.0,155.5 710.0,157.1 707.9,158.8 707.1,161.4 703.9,162.2 701.4,164.3 698.5,165.7 695.7,167.1 692.8,168.4 690.0,170.0 687.0,170.7 684.3,169.3 681.6,170.5 678.6,170.7 675.4,171.9 672.9,174.3 668.6,175.0 665.7,174.5 662.9,173.6 660.1,174.7 657.1,174.3 654.2,174.2 651.4,174.3 649.0,175.3 647.1,177.1 646.0,179.9 645.7,182.9 646.7,185.7 647.1,188.6 648.0,191.4 648.6,194.3 650.7,195.7 652.9,197.1 655.4,199.7 658.6,201.4 660.7,202.9 662.9,204.3 663.8,207.1 664.3,210.0 662.9,212.2 661.4,214.3 661.7,217.4 660.0,220.0 660.3,223.1 658.6,225.7 656.1,227.5 654.3,230.0 651.4,231.4 650.0,234.3 648.4,236.3 647.1,238.6 643.5,238.5 640.0,238.0 637.1,238.3 634.5,237.1 631.7,235.7 628.9,234.3 625.2,234.3 622.7,235.1 621.1,237.0 619.6,239.0 617.7,241.2 615.9,243.6 612.1,245.5 608.4,248.3 608.6,251.4 610.8,253.7 611.2,256.7 608.4,258.5 605.2,258.0 601.9,257.6 599.9,255.7 597.2,255.7 595.1,254.3 592.8,253.3 590.7,252.0 588.9,249.2 587.9,246.5 588.0,243.6 586.0,240.8 581.7,239.0 577.5,241.1 573.3,240.4 570.8,240.6 568.4,241.1 564.9,239.7 562.8,240.4 560.7,238.3 558.5,239.8 557.9,242.5 555.1,239.0 553.0,237.6 551.0,241.8 547.5,243.9 544.0,246.6 543.3,250.1 540.0,250.8 537.0,249.4 534.2,246.0 532.7,242.4 531.1,239.9 528.6,238.3 526.1,237.0 523.2,237.0 520.5,236.2 517.7,237.0 513.7,235.6 510.9,234.2 508.2,231.5 508.1,228.7 506.9,226.1 506.9,223.2 505.5,220.7 504.2,218.6 502.8,216.6 501.4,212.5 504.2,209.8 508.2,209.8 510.3,208.6 512.3,207.1 510.9,203.0 509.6,200.3 510.3,196.2 508.2,192.1 506.1,190.9 504.2,189.4 501.4,186.7 500.8,182.6 502.8,178.5 503.3,176.0 505.5,174.5 508.1,173.0 509.6,170.4 511.7,169.2 513.7,167.7 516.0,165.1 519.1,163.6 521.8,162.9 524.5,162.2 527.2,161.5 530.0,160.9 532.6,159.3 535.4,158.2 537.3,156.5 539.5,155.4 542.7,156.8 546.0,158.0 547.2,155.3 548.0,152.5 548.7,149.6 549.5,146.7 549.6,143.5 551.5,141.0 552.2,137.6 554.0,134.6 551.7,132.7 550.6,129.8 548.7,127.6 547.4,124.8 545.4,122.5 543.0,120.6 541.6,118.3 539.8,116.4 537.5,115.0 535.6,112.4 534.7,109.4 536.1,106.8 536.0,103.8 537.8,101.7 538.1,98.7 540.3,96.8 542.8,94.9 545.6,93.9 548.7,94.0 551.6,94.1 554.1,92.5 557.0,92.6 559.8,91.7 562.6,92.9 565.4,92.6 567.3,90.3 568.9,87.8 571.2,85.8 573.8,84.3 575.7,82.5 577.0,80.1 579.4,78.7 581.4,76.4 584.4,75.3 586.4,73.0 589.0,69.0 593.4,70.3 596.2,69.6 599.0,69.0 601.8,69.0 604.5,69.8 607.3,70.3 610.8,69.3 614.3,70.3 613.0,67.5 611.3,65.5 609.9,63.4 607.9,61.5 607.0,59.0 604.6,57.8 604.2,54.7 601.8,53.5 600.4,51.4 599.0,49.3 601.8,46.5 604.4,47.4 606.3,49.5 608.7,50.7 611.5,48.0 612.9,44.6 613.0,41.0 615.5,39.3 618.5,39.6 621.2,38.5 624.0,39.6 625.7,37.5 628.3,36.8 629.5,34.1 629.7,31.2"/></clipPath><clipPath id="cp2"><polygon points="120.5,369.0 122.7,366.7 123.2,363.6 126.8,363.9 130.0,362.2 132.7,361.8 135.1,362.4 137.2,364.6 139.6,364.9 142.2,365.0 144.9,365.7 147.7,365.2 150.3,366.2 153.0,366.3 155.7,367.4 158.4,368.3 161.2,369.0 163.8,367.8 166.6,367.9 169.4,367.6 172.0,366.1 175.0,365.4 177.5,363.6 178.5,366.5 180.4,368.7 183.0,370.3 185.7,369.5 188.3,368.4 191.0,367.6 193.2,366.1 195.4,364.7 197.8,363.6 200.6,363.6 202.9,365.3 205.3,366.9 207.3,369.0 209.3,370.6 210.4,373.2 212.8,374.4 213.6,377.2 214.5,379.9 215.5,382.6 217.7,384.0 219.9,385.5 221.0,388.0 223.0,389.5 225.1,391.0 226.3,393.4 227.7,395.8 228.1,398.7 230.1,400.8 231.8,403.0 234.6,402.7 237.1,404.7 240.0,404.3 241.9,406.0 244.1,406.9 246.1,408.3 248.4,409.1 250.8,409.7 253.0,411.4 255.9,411.7 257.8,414.0 260.7,414.2 263.0,416.2 266.3,415.5 268.5,417.7 271.4,418.2 273.9,419.3 276.7,419.5 279.3,420.3 282.0,420.9 284.7,420.5 287.5,421.1 290.1,419.9 292.8,419.5 295.6,419.9 298.1,418.5 300.9,419.4 303.5,418.2 306.3,418.6 308.9,417.2 311.6,416.9 314.2,418.0 316.6,419.8 319.5,420.4 322.3,420.9 325.0,420.4 327.5,419.4 330.3,419.5 332.9,418.5 335.8,418.6 338.2,416.8 341.0,416.9 343.2,419.6 346.4,420.9 346.4,423.7 344.6,426.1 345.0,428.9 346.4,431.4 346.1,434.6 347.6,437.1 349.0,439.6 351.0,441.6 353.0,443.6 354.8,445.8 357.0,447.6 359.6,449.1 362.5,450.0 365.0,451.7 367.8,451.4 370.4,452.4 373.0,453.6 375.8,453.0 378.4,453.9 381.4,453.4 383.7,455.7 386.5,455.7 386.7,458.5 387.9,461.0 385.9,463.4 385.5,466.6 387.0,468.5 390.1,467.2 392.7,467.5 394.8,469.0 396.8,471.2 399.4,472.5 402.9,473.6 407.6,473.0 411.1,471.3 414.6,470.1 416.9,467.8 419.2,466.1 421.6,467.8 423.1,470.5 422.7,473.6 424.2,475.6 426.2,477.1 429.7,479.4 433.2,481.8 435.5,484.1 437.2,486.9 438.0,490.0 440.2,493.4 442.1,491.2 444.8,489.9 446.8,491.8 449.5,492.3 452.2,492.7 454.2,494.6 456.5,495.8 458.8,496.9 460.0,499.2 462.3,500.4 463.5,503.9 461.1,507.4 459.8,509.5 457.7,510.9 455.3,514.4 454.7,517.0 453.0,519.0 451.8,522.5 451.7,525.2 453.4,527.5 454.0,530.0 454.8,532.6 457.3,534.3 457.9,537.1 459.4,539.3 460.0,542.0 460.8,544.4 463.0,546.1 462.4,549.2 464.4,551.0 466.2,553.2 465.6,556.2 467.9,558.2 468.2,560.8 468.5,563.5 469.7,567.0 470.6,570.5 469.7,573.4 466.2,575.7 463.8,576.6 462.1,578.6 457.5,579.8 454.2,578.7 451.6,576.3 448.9,575.4 447.0,573.4 443.6,572.5 440.0,572.5 437.0,573.2 434.0,573.5 432.1,575.4 428.9,574.4 427.0,576.4 425.1,578.2 423.0,579.6 420.4,580.2 418.0,581.0 415.3,583.3 413.0,586.0 411.2,587.9 411.1,590.7 409.0,592.4 407.2,594.8 404.8,596.6 403.3,598.9 400.7,599.5 398.5,600.8 395.8,600.8 393.1,601.4 390.4,601.6 388.0,603.0 385.0,603.8 382.1,604.9 379.6,607.0 376.7,607.3 374.0,608.5 371.2,609.2 368.7,610.3 365.9,609.9 363.5,611.1 360.8,611.2 359.9,613.8 357.7,615.5 355.3,617.1 355.1,620.2 352.8,621.8 350.8,620.1 348.6,618.7 345.9,618.4 343.3,617.6 341.8,614.4 340.2,611.3 338.9,608.8 339.2,606.1 341.6,604.0 342.3,600.9 345.4,597.7 343.4,595.4 342.3,592.5 344.4,588.3 343.0,585.6 341.2,583.1 338.1,582.7 335.0,582.0 334.3,578.8 335.8,575.7 336.0,572.6 332.9,575.7 331.4,578.4 329.4,580.6 326.6,582.0 325.2,584.8 322.9,586.7 320.3,588.3 319.3,591.0 316.6,592.3 315.1,594.6 311.9,596.7 309.8,594.6 306.7,593.5 303.5,593.5 303.0,590.3 302.5,587.2 302.5,583.1 304.0,580.6 303.5,577.8 301.4,575.7 298.3,577.8 296.1,579.4 294.6,581.4 294.1,584.1 291.8,586.4 288.9,587.8 286.4,587.7 283.9,587.9 281.5,587.2 279.0,586.3 276.3,585.7 273.8,586.1 271.4,587.0 270.1,584.8 268.1,583.1 266.0,581.7 263.2,581.3 260.6,580.1 258.0,579.0 255.4,577.2 252.1,576.4 250.0,573.7 247.0,573.9 244.6,572.2 242.0,572.1 239.4,572.4 237.0,570.8 234.4,571.0 231.6,570.5 228.9,569.8 226.4,568.7 224.1,567.0 221.3,566.3 218.7,565.1 216.5,563.2 213.9,562.0 211.3,561.8 208.7,561.8 206.2,560.7 203.6,560.7 200.8,560.0 198.9,557.3 196.0,556.8 193.3,556.2 190.8,557.1 188.3,558.0 185.8,558.8 183.1,559.3 180.5,559.9 178.0,560.7 176.8,564.5 179.4,565.7 180.6,568.3 182.1,571.5 183.2,574.8 182.5,577.3 181.9,579.9 178.0,582.4 175.6,583.5 173.1,584.1 170.4,583.7 168.1,581.8 165.2,581.2 162.5,580.2 160.2,578.6 157.6,577.3 155.2,576.0 152.5,576.2 149.9,576.0 147.4,577.1 144.5,576.3 142.2,578.2 139.6,578.6 137.7,581.3 134.5,582.4 131.8,582.7 129.6,584.6 127.0,584.8 124.3,585.0 121.9,587.1 120.5,589.9 119.1,592.7 118.8,595.7 116.6,597.9 115.5,600.5 114.0,603.0 113.2,605.5 112.9,608.3 111.5,610.6 109.4,613.0 107.6,615.7 105.0,613.2 102.9,611.5 102.1,609.2 101.2,606.8 98.5,605.1 96.1,603.0 95.7,600.0 92.7,598.2 92.3,595.2 91.8,592.4 89.7,590.3 89.5,587.5 88.4,585.0 85.8,585.2 83.3,585.0 80.7,583.1 78.2,581.0 76.7,578.2 74.3,576.0 71.2,577.5 68.0,578.6 65.9,575.7 65.4,572.2 65.9,569.2 67.9,567.0 69.8,563.8 73.0,562.0 74.2,559.6 74.2,556.9 74.3,554.3 73.9,551.3 72.1,549.0 70.5,546.6 67.7,544.7 66.6,541.5 67.4,539.0 68.1,536.5 67.9,533.8 70.5,533.9 73.0,532.9 75.6,532.5 78.0,530.3 80.7,528.7 83.3,530.3 85.5,532.6 88.4,533.8 90.0,531.5 92.3,530.0 94.1,528.0 96.1,526.1 98.9,526.4 101.2,524.8 103.8,528.7 106.5,528.7 109.1,528.3 111.6,527.5 114.0,526.1 116.0,527.5 117.8,529.1 119.1,531.2 120.6,529.1 121.8,526.8 123.6,525.0 125.6,523.3 126.8,521.0 129.4,519.7 130.8,517.3 133.1,515.7 134.5,513.3 136.8,511.5 139.5,511.1 142.6,511.4 144.8,509.4 147.7,510.0 150.0,511.8 152.4,513.3 153.6,510.2 156.3,508.2 155.7,505.5 157.7,503.2 158.1,500.6 157.7,498.0 157.6,495.4 157.2,491.8 158.5,488.4 157.2,485.8 156.1,483.1 155.8,480.2 154.0,478.5 152.0,477.2 149.7,476.3 147.7,474.8 145.6,473.1 142.8,472.2 141.2,469.9 139.6,467.5 136.8,466.7 135.9,464.3 133.4,463.1 132.8,460.5 131.4,458.5 130.9,455.7 129.1,453.3 128.7,450.4 129.6,447.7 128.6,444.9 129.1,442.2 128.7,439.5 128.0,436.8 128.8,433.9 127.3,431.4 126.5,428.4 124.7,425.9 123.2,423.2 123.1,420.3 124.5,417.8 124.3,414.8 126.0,412.4 127.5,410.5 129.4,408.8 129.5,405.9 131.4,404.3 134.1,404.6 136.8,404.9 139.5,405.1 142.2,405.6 145.0,405.7 147.7,405.9 150.4,405.1 153.0,404.3 155.3,403.3 158.0,403.4 160.0,401.5 158.3,399.0 157.7,395.9 155.8,393.4 153.3,391.1 150.4,389.3 147.9,387.8 145.2,386.6 142.0,386.9 139.5,385.3 139.1,382.5 137.9,379.9 137.8,377.0 136.8,374.4 134.4,372.5 131.5,372.3 128.7,371.7 125.6,371.8 123.2,370.0"/></clipPath><clipPath id="cp3"><polygon points="589.6,289.2 591.9,286.8 594.8,285.4 597.8,284.6 600.7,283.4 603.7,282.8 605.7,284.3 607.8,285.6 610.0,286.6 612.2,289.4 612.7,293.0 615.6,292.9 617.6,295.4 620.4,295.6 623.1,296.0 625.7,296.8 628.0,298.2 630.0,301.0 633.2,302.0 636.4,303.2 639.6,304.6 639.5,307.9 640.8,311.0 642.1,314.2 643.4,317.4 640.8,321.2 643.3,322.4 646.2,322.2 648.5,323.8 651.0,324.9 653.4,326.2 656.2,326.3 658.8,326.8 661.3,327.7 664.0,327.6 666.5,328.4 669.2,327.6 671.6,329.0 673.9,330.7 676.6,331.6 679.3,332.7 682.1,334.3 684.4,336.6 687.0,338.6 687.1,342.2 689.5,344.3 689.6,346.9 689.0,349.4 689.5,352.0 691.9,353.2 694.6,353.3 697.2,353.2 699.9,353.7 702.3,352.2 704.9,352.0 707.3,352.8 709.7,352.2 712.0,353.4 714.5,352.6 714.4,355.9 716.0,358.8 716.5,361.3 716.0,363.7 715.5,366.0 714.5,368.3 713.0,370.7 713.6,373.6 712.7,376.1 712.9,378.9 711.9,381.4 711.4,384.0 709.4,386.3 707.4,388.4 705.0,390.3 705.4,392.9 706.0,395.5 706.7,398.0 709.3,398.1 711.5,396.9 714.0,396.6 716.0,395.0 716.4,397.9 717.2,400.6 719.3,402.8 719.4,406.0 721.0,408.9 720.8,412.2 721.3,414.9 722.2,417.4 723.5,419.7 725.5,421.7 728.1,422.9 730.6,424.2 733.4,424.8 736.4,423.6 739.8,424.5 742.8,423.2 745.5,423.4 748.3,422.7 751.0,422.2 753.8,423.2 755.6,420.9 756.9,418.4 757.0,415.4 760.1,414.5 763.2,415.4 765.9,415.5 768.4,414.1 771.0,413.8 773.6,414.7 775.5,416.6 777.4,418.5 778.5,420.9 779.8,423.2 782.0,424.8 783.5,427.8 782.8,431.1 783.6,434.2 784.6,437.1 783.6,440.0 782.2,442.3 782.1,445.1 780.1,447.2 780.0,450.0 777.7,451.6 777.1,454.3 774.8,455.8 774.6,458.8 773.6,461.2 771.2,462.7 770.0,465.0 768.9,467.6 766.7,469.2 764.5,470.8 762.3,472.3 761.2,474.9 759.5,477.0 756.3,477.6 755.0,480.0 753.1,481.8 750.2,482.0 748.1,483.6 746.6,485.9 744.3,487.2 742.1,488.5 740.0,490.0 737.8,492.5 736.2,495.3 736.6,498.7 737.4,502.0 739.4,503.8 741.3,505.5 743.5,507.0 745.6,508.7 748.4,508.6 750.8,509.4 753.3,510.9 755.3,513.0 758.0,514.2 759.7,516.4 760.9,518.9 761.7,521.5 760.4,523.8 761.1,526.4 760.7,528.8 760.5,531.3 759.3,534.4 756.6,536.3 754.4,538.6 756.1,540.5 758.0,542.2 760.3,540.9 762.9,541.9 765.4,541.6 767.8,541.0 770.1,539.7 772.7,540.7 775.1,540.0 777.5,539.8 779.9,540.5 782.4,540.1 784.7,541.2 787.2,541.0 789.5,542.1 792.4,541.2 794.8,541.9 797.0,543.4 799.3,544.6 801.5,546.0 804.2,545.8 806.3,547.9 807.5,550.6 809.0,553.1 809.6,555.9 811.0,558.5 811.4,561.4 811.3,564.3 811.1,567.2 810.3,570.0 809.2,572.3 807.5,574.2 806.7,576.7 805.0,578.6 804.6,581.5 803.0,584.1 802.9,587.1 801.2,589.1 798.5,589.1 796.2,589.9 794.3,591.4 792.4,593.2 790.4,594.8 787.9,595.7 786.2,597.5 785.7,600.0 788.3,601.7 790.0,604.3 792.6,606.0 794.3,608.6 792.3,610.9 790.0,612.9 787.0,613.2 784.5,615.2 781.4,615.0 778.6,615.4 775.7,615.4 772.9,615.0 769.9,615.0 767.2,616.5 764.3,617.1 762.5,618.9 762.1,621.4 763.2,624.2 763.2,627.1 763.2,630.0 762.5,632.8 761.6,635.6 762.1,638.6 761.5,641.5 761.3,644.4 760.0,647.1 759.7,649.6 757.8,651.4 757.4,653.9 755.7,655.7 753.1,657.4 750.9,659.4 749.3,662.1 747.6,664.1 745.3,665.4 742.9,666.4 740.4,666.9 738.5,668.3 736.1,669.0 734.3,670.7 732.4,672.6 730.5,674.6 728.1,675.9 725.7,677.1 723.2,678.0 721.7,680.4 719.3,681.4 716.0,680.7 712.9,679.3 710.7,678.4 708.5,677.3 706.4,676.3 704.3,675.0 702.6,673.1 699.7,673.5 697.4,672.7 695.7,670.7 693.1,669.1 690.2,668.5 687.1,668.6 684.6,667.0 681.7,667.6 679.3,666.0 676.4,666.4 675.7,663.7 673.0,662.5 672.1,660.0 670.9,657.5 669.5,655.3 667.6,653.3 665.7,651.4 662.5,650.3 659.3,649.3 655.9,648.6 652.9,647.1 651.2,649.3 649.0,651.0 650.5,653.8 650.8,657.0 650.2,660.5 647.8,663.2 645.4,664.5 643.5,666.6 640.6,667.1 638.7,669.2 636.5,670.8 633.6,669.6 631.3,670.6 628.8,670.8 626.6,672.3 623.9,670.0 620.5,669.2 621.5,666.9 621.0,664.4 621.0,662.0 621.4,659.3 623.6,657.8 626.1,655.5 627.8,652.5 629.4,649.4 632.1,647.1 632.8,644.2 634.3,641.7 631.0,638.5 629.5,636.5 627.5,634.9 625.7,633.2 621.4,633.7 617.1,634.3 613.9,636.4 612.8,640.7 610.7,645.0 608.7,646.8 606.4,648.2 602.1,649.2 599.3,649.5 596.0,649.6 593.2,651.3 590.3,652.6 588.5,650.5 587.2,648.0 585.7,645.2 586.0,641.7 584.2,639.0 582.7,636.8 581.7,634.2 579.4,632.4 578.2,630.0 576.4,627.9 575.8,625.1 575.1,622.4 572.6,620.6 572.0,617.8 572.0,615.2 571.7,612.7 570.9,610.4 570.3,607.9 569.0,605.7 566.7,603.3 566.4,600.0 566.2,597.2 565.4,594.4 563.6,590.7 562.6,587.0 562.6,583.3 565.4,580.5 567.3,576.8 568.2,573.1 571.9,570.3 574.7,569.6 576.6,567.5 580.3,564.7 578.4,561.9 575.6,560.1 571.9,557.3 569.1,553.6 565.4,551.7 560.8,552.6 557.1,549.9 553.4,547.1 548.7,547.1 546.1,545.4 545.0,542.4 542.5,541.3 540.3,539.8 538.4,537.8 538.0,535.2 537.4,532.6 537.1,530.0 537.5,527.5 538.6,525.0 538.4,522.4 538.2,519.5 539.2,517.0 541.0,514.8 542.3,512.3 544.3,510.3 546.1,508.3 548.7,507.0 551.5,507.4 554.0,506.5 556.1,504.2 558.9,504.5 561.5,503.3 564.0,502.0 565.9,500.0 568.0,498.2 570.4,496.8 570.1,494.2 570.7,491.7 570.6,489.2 570.4,486.6 570.4,484.0 570.4,481.4 571.0,478.8 571.7,476.3 570.7,473.7 571.4,471.0 571.6,468.3 570.9,465.7 570.4,463.2 569.4,460.7 570.1,458.1 569.1,455.1 569.3,452.1 569.3,449.0 567.0,446.0 565.0,448.0 561.0,450.0 557.0,451.0 554.8,453.4 553.0,456.0 549.0,455.0 547.4,452.6 545.0,451.0 542.8,448.7 541.0,446.0 537.0,444.0 534.6,442.9 532.0,443.0 529.6,442.2 527.0,442.0 525.0,439.0 524.4,436.0 524.0,433.0 524.2,430.4 525.0,428.0 525.0,425.5 525.0,423.0 522.0,420.0 519.7,418.6 517.0,418.0 513.0,416.0 510.4,415.2 508.0,414.0 506.0,411.0 507.0,408.0 506.0,404.0 506.9,401.6 507.0,399.0 509.0,399.0 512.0,402.0 515.0,404.0 517.5,403.9 520.0,404.0 522.3,402.5 525.0,402.0 527.5,401.1 530.0,400.0 532.0,397.0 533.1,393.8 533.3,390.4 532.4,387.8 533.1,385.3 533.1,382.7 534.1,380.2 533.3,377.6 535.8,375.6 536.5,372.4 538.4,370.0 541.2,369.9 543.7,368.8 546.0,367.3 548.4,365.5 551.2,364.7 550.7,362.1 549.6,359.7 550.0,357.0 550.4,354.4 549.7,351.9 549.9,349.2 548.7,346.8 549.3,344.2 549.1,341.7 549.2,339.2 548.7,336.6 550.1,334.1 551.2,331.5 553.5,329.8 556.4,330.0 558.9,329.0 561.6,328.3 564.2,329.0 566.6,330.2 569.0,331.6 572.0,330.9 574.3,332.7 576.4,335.5 576.8,339.0 578.5,341.3 577.7,344.5 579.4,346.8 581.8,348.2 583.9,349.9 584.6,353.1 587.0,354.5 589.3,352.9 592.4,353.6 594.8,352.0 597.5,351.5 600.1,351.0 602.4,349.4 604.6,347.3 605.0,344.3 606.8,342.7 608.8,341.2 610.0,339.0 611.3,336.6 614.3,336.3 615.9,334.3 617.8,332.7 615.5,330.5 612.7,329.0 611.8,326.4 613.2,323.8 612.7,321.2 612.7,318.3 610.0,316.4 610.0,313.5 607.4,313.5 605.0,312.6 602.4,312.3 600.2,310.4 597.1,310.2 594.8,308.4 592.6,307.2 590.9,305.4 589.6,303.3 589.4,300.7 589.3,298.1 588.3,295.6 588.7,292.4"/></clipPath></defs>
<polygon points="89.9,117.9 91.8,115.3 92.4,112.1 94.9,112.9 98.1,116.2 99.9,117.9 102.2,118.7 104.2,116.5 106.4,114.6 108.5,112.1 111.3,110.5 113.8,109.3 116.2,108.0 116.8,104.6 117.9,101.4 120.4,99.8 122.0,97.3 125.2,95.7 128.5,99.0 131.0,98.6 133.5,99.0 135.9,101.4 137.2,103.4 138.4,105.5 142.5,107.2 144.9,108.2 147.4,108.8 149.5,110.9 152.4,111.3 154.8,112.1 157.3,112.9 159.7,114.2 161.4,116.2 163.0,117.0 165.5,113.7 168.8,111.3 170.5,109.1 171.2,106.4 171.1,103.1 170.4,99.8 173.7,96.5 176.1,95.6 178.6,95.7 182.7,94.0 185.4,94.1 187.9,93.4 190.3,92.2 192.8,91.6 195.0,90.0 196.6,88.1 199.0,87.2 201.1,85.9 202.6,84.0 204.1,82.0 206.0,80.5 205.8,77.8 207.1,75.6 208.1,73.2 208.5,70.7 210.6,67.8 211.0,64.2 215.0,61.8 217.8,60.0 219.1,56.9 221.6,60.1 222.8,63.4 224.0,66.7 225.0,69.6 227.3,71.6 230.0,72.8 232.2,74.8 233.3,77.3 235.4,78.9 238.7,75.6 242.0,78.9 243.6,82.0 245.9,83.1 248.7,83.0 250.5,85.4 253.0,86.0 255.4,84.4 258.4,83.9 260.8,82.2 263.1,80.5 262.2,77.6 263.5,74.8 264.6,72.0 264.0,69.1 265.6,67.1 268.0,65.9 269.7,63.6 272.0,61.8 273.6,64.0 276.2,65.0 279.0,66.1 281.0,68.3 282.5,70.4 284.3,72.4 284.6,69.1 286.0,66.0 287.8,62.9 287.6,59.3 290.8,56.9 294.0,54.4 296.7,52.7 298.4,50.0 300.6,51.2 303.9,47.9 306.2,46.6 308.7,45.5 311.0,44.2 313.6,44.7 315.5,42.4 318.0,40.7 319.7,38.8 322.0,37.5 323.0,35.0 324.9,33.0 327.7,32.7 330.0,31.4 333.3,32.4 336.8,32.6 338.3,34.9 340.0,37.0 342.0,35.1 342.9,32.5 345.1,30.7 345.8,28.0 347.0,25.6 349.0,23.4 350.8,21.0 354.3,21.4 357.8,22.0 360.6,24.0 363.6,25.6 365.3,23.1 367.6,21.0 369.4,18.6 371.5,16.7 373.7,15.0 376.4,14.0 378.4,12.2 381.0,11.6 383.9,13.0 387.0,14.0 389.8,12.7 392.3,10.8 395.0,9.3 397.6,9.2 399.5,11.4 402.0,11.6 403.4,13.8 405.3,15.5 407.8,16.3 410.6,20.0 409.6,22.8 410.0,25.7 408.4,28.1 407.6,30.8 407.7,33.7 409.1,36.6 410.6,39.4 413.4,38.6 416.3,38.3 419.1,41.7 417.8,43.8 417.4,46.3 415.5,48.9 412.9,50.9 412.3,54.3 413.4,57.7 412.4,60.3 411.9,62.9 412.3,65.7 410.6,67.7 410.6,70.3 408.2,72.5 406.0,74.9 403.5,76.6 402.6,79.4 400.3,82.9 399.0,85.1 398.0,87.4 396.9,92.0 397.3,94.5 397.4,97.0 399.5,100.0 402.6,98.9 404.1,96.1 404.9,93.1 407.0,89.0 410.6,86.3 415.0,88.0 415.2,90.8 416.4,93.1 418.4,95.0 418.0,98.7 419.3,102.4 418.7,105.2 419.3,108.0 419.8,110.9 418.4,113.6 420.3,116.4 424.0,117.3 426.8,113.6 429.6,109.9 433.3,109.0 437.0,109.9 441.7,109.9 445.4,111.8 444.5,114.6 442.6,118.3 443.3,120.7 444.5,122.9 445.4,127.6 446.4,129.9 447.3,132.2 447.3,136.9 446.1,139.1 445.4,141.6 442.8,143.7 441.5,146.8 441.8,149.5 441.0,152.0 440.5,155.0 441.0,158.0 440.3,161.4 438.0,164.0 436.4,166.4 434.0,168.0 431.5,169.5 430.0,172.0 429.9,175.1 429.0,178.0 426.9,179.6 426.0,182.0 424.6,184.6 422.0,186.0 420.0,190.0 419.7,193.2 418.0,196.0 417.1,198.9 417.0,202.0 418.2,204.4 417.4,207.0 416.6,209.7 415.2,212.2 415.3,215.2 414.7,217.9 413.6,220.5 414.4,223.6 412.4,225.9 412.0,228.7 410.6,231.4 409.7,234.2 407.5,236.2 405.5,238.4 403.6,240.1 401.4,241.5 398.9,243.3 396.1,244.7 393.0,246.8 390.9,249.6 390.9,253.0 390.8,256.5 388.8,259.3 388.7,262.8 386.7,265.6 384.0,266.4 382.5,268.8 379.7,271.0 376.2,271.9 373.4,273.7 370.0,274.0 369.5,277.4 367.8,280.3 367.1,283.5 367.8,286.6 365.7,290.8 362.9,290.4 360.7,292.9 357.9,292.5 355.3,292.9 353.7,295.0 351.4,296.1 349.0,297.0 348.1,299.4 345.9,301.0 344.8,303.3 340.6,305.4 338.5,307.5 336.4,311.7 334.5,314.1 332.2,316.0 329.6,317.4 326.6,317.3 323.8,318.0 321.2,319.7 318.4,320.3 315.4,320.1 312.6,318.0 309.2,318.0 306.6,316.4 305.0,313.8 302.7,311.9 300.8,309.6 297.7,308.6 294.5,308.6 291.7,306.3 288.2,305.4 285.5,303.0 281.9,302.3 280.4,305.4 277.7,307.5 274.8,307.8 271.9,307.9 269.3,309.6 266.9,311.6 263.6,311.4 261.0,312.8 259.3,310.8 256.6,310.3 254.7,308.6 251.6,309.6 248.4,309.6 245.7,308.7 242.8,308.3 240.0,307.5 236.0,308.0 233.9,309.5 231.4,309.7 229.0,310.4 226.6,309.4 224.4,308.0 222.0,307.0 219.7,305.0 217.1,303.3 215.0,301.0 213.2,298.8 212.6,295.9 210.4,294.0 207.7,292.7 205.8,290.4 202.7,289.6 201.0,287.0 199.3,285.0 196.8,284.2 195.0,282.4 193.7,279.4 193.9,276.2 194.0,273.0 192.4,270.4 191.8,267.3 191.8,264.6 189.6,262.8 188.5,260.5 188.0,258.0 186.7,255.7 186.9,252.8 185.3,250.7 184.2,248.3 183.0,246.0 182.4,243.5 180.8,241.4 179.8,239.1 179.3,236.5 177.0,234.8 177.0,232.0 175.1,229.8 174.2,227.2 172.7,224.8 172.0,222.0 169.8,218.5 167.5,220.4 165.6,222.7 162.9,223.7 159.8,223.3 157.2,224.8 154.4,224.7 151.7,225.0 148.9,224.8 146.7,223.6 144.9,221.6 142.6,220.6 141.7,217.8 141.5,214.9 140.5,212.2 139.8,209.3 141.0,206.6 141.5,203.8 142.6,200.4 144.7,197.5 147.4,194.2 150.7,191.0 152.7,188.7 155.6,187.7 158.1,188.2 160.6,188.5 163.0,188.1 165.5,187.7 166.9,185.7 168.0,183.6 169.3,180.4 169.6,177.0 170.4,173.7 169.6,170.4 169.2,167.2 168.8,163.9 167.5,160.7 167.1,157.3 165.4,154.9 163.9,152.4 160.6,150.7 157.3,152.4 154.6,152.6 152.4,154.0 149.1,153.2 145.8,154.0 143.3,150.7 140.9,150.7 137.6,154.0 133.5,152.4 129.4,151.5 126.9,149.9 125.2,146.6 124.4,142.5 124.8,139.9 123.6,137.6 120.3,134.3 118.6,132.5 116.2,131.8 113.6,132.1 111.3,131.0 109.0,129.5 106.4,130.2 102.2,131.0 99.8,134.3 97.5,132.4 94.9,131.0 92.7,128.7 92.6,125.3 90.8,122.8 91.4,120.2" fill="none" stroke="#fff" stroke-opacity="0.8" stroke-width="3.4" stroke-linejoin="round" clip-path="url(#cp0)"/>
<polygon points="632.5,29.8 635.0,30.5 636.7,32.6 636.4,35.5 637.0,38.3 638.0,41.0 639.8,43.1 640.7,45.7 642.0,48.0 643.8,50.0 645.2,52.4 646.8,54.6 649.0,56.3 651.9,57.5 654.3,59.3 656.0,62.0 656.9,64.4 659.0,66.0 660.5,68.3 661.2,71.0 663.0,73.0 665.8,73.5 667.4,75.7 669.2,77.7 671.6,78.7 674.5,78.4 677.1,80.2 679.9,80.4 682.9,78.7 685.6,80.0 688.5,79.3 691.2,80.8 693.9,82.1 696.8,81.5 699.6,81.5 702.4,81.4 705.2,82.2 708.0,81.6 710.7,82.9 713.6,82.5 716.4,83.2 719.2,83.5 722.0,83.7 724.4,84.9 726.0,87.0 725.1,89.4 723.3,91.2 721.0,92.3 718.5,92.2 716.0,92.6 713.6,94.4 710.7,95.4 708.1,97.3 704.7,96.6 702.0,98.2 700.2,100.0 698.3,101.7 696.8,103.8 697.0,106.7 694.8,109.2 695.4,112.2 695.5,115.2 697.9,117.6 698.0,120.6 698.7,123.4 698.3,126.3 698.7,129.1 699.5,131.8 700.7,134.5 703.4,135.8 704.7,138.4 707.1,140.0 707.5,142.9 708.6,145.7 711.1,147.5 712.9,150.0 714.3,154.3 712.0,155.5 710.0,157.1 707.9,158.8 707.1,161.4 703.9,162.2 701.4,164.3 698.5,165.7 695.7,167.1 692.8,168.4 690.0,170.0 687.0,170.7 684.3,169.3 681.6,170.5 678.6,170.7 675.4,171.9 672.9,174.3 668.6,175.0 665.7,174.5 662.9,173.6 660.1,174.7 657.1,174.3 654.2,174.2 651.4,174.3 649.0,175.3 647.1,177.1 646.0,179.9 645.7,182.9 646.7,185.7 647.1,188.6 648.0,191.4 648.6,194.3 650.7,195.7 652.9,197.1 655.4,199.7 658.6,201.4 660.7,202.9 662.9,204.3 663.8,207.1 664.3,210.0 662.9,212.2 661.4,214.3 661.7,217.4 660.0,220.0 660.3,223.1 658.6,225.7 656.1,227.5 654.3,230.0 651.4,231.4 650.0,234.3 648.4,236.3 647.1,238.6 643.5,238.5 640.0,238.0 637.1,238.3 634.5,237.1 631.7,235.7 628.9,234.3 625.2,234.3 622.7,235.1 621.1,237.0 619.6,239.0 617.7,241.2 615.9,243.6 612.1,245.5 608.4,248.3 608.6,251.4 610.8,253.7 611.2,256.7 608.4,258.5 605.2,258.0 601.9,257.6 599.9,255.7 597.2,255.7 595.1,254.3 592.8,253.3 590.7,252.0 588.9,249.2 587.9,246.5 588.0,243.6 586.0,240.8 581.7,239.0 577.5,241.1 573.3,240.4 570.8,240.6 568.4,241.1 564.9,239.7 562.8,240.4 560.7,238.3 558.5,239.8 557.9,242.5 555.1,239.0 553.0,237.6 551.0,241.8 547.5,243.9 544.0,246.6 543.3,250.1 540.0,250.8 537.0,249.4 534.2,246.0 532.7,242.4 531.1,239.9 528.6,238.3 526.1,237.0 523.2,237.0 520.5,236.2 517.7,237.0 513.7,235.6 510.9,234.2 508.2,231.5 508.1,228.7 506.9,226.1 506.9,223.2 505.5,220.7 504.2,218.6 502.8,216.6 501.4,212.5 504.2,209.8 508.2,209.8 510.3,208.6 512.3,207.1 510.9,203.0 509.6,200.3 510.3,196.2 508.2,192.1 506.1,190.9 504.2,189.4 501.4,186.7 500.8,182.6 502.8,178.5 503.3,176.0 505.5,174.5 508.1,173.0 509.6,170.4 511.7,169.2 513.7,167.7 516.0,165.1 519.1,163.6 521.8,162.9 524.5,162.2 527.2,161.5 530.0,160.9 532.6,159.3 535.4,158.2 537.3,156.5 539.5,155.4 542.7,156.8 546.0,158.0 547.2,155.3 548.0,152.5 548.7,149.6 549.5,146.7 549.6,143.5 551.5,141.0 552.2,137.6 554.0,134.6 551.7,132.7 550.6,129.8 548.7,127.6 547.4,124.8 545.4,122.5 543.0,120.6 541.6,118.3 539.8,116.4 537.5,115.0 535.6,112.4 534.7,109.4 536.1,106.8 536.0,103.8 537.8,101.7 538.1,98.7 540.3,96.8 542.8,94.9 545.6,93.9 548.7,94.0 551.6,94.1 554.1,92.5 557.0,92.6 559.8,91.7 562.6,92.9 565.4,92.6 567.3,90.3 568.9,87.8 571.2,85.8 573.8,84.3 575.7,82.5 577.0,80.1 579.4,78.7 581.4,76.4 584.4,75.3 586.4,73.0 589.0,69.0 593.4,70.3 596.2,69.6 599.0,69.0 601.8,69.0 604.5,69.8 607.3,70.3 610.8,69.3 614.3,70.3 613.0,67.5 611.3,65.5 609.9,63.4 607.9,61.5 607.0,59.0 604.6,57.8 604.2,54.7 601.8,53.5 600.4,51.4 599.0,49.3 601.8,46.5 604.4,47.4 606.3,49.5 608.7,50.7 611.5,48.0 612.9,44.6 613.0,41.0 615.5,39.3 618.5,39.6 621.2,38.5 624.0,39.6 625.7,37.5 628.3,36.8 629.5,34.1 629.7,31.2" fill="none" stroke="#fff" stroke-opacity="0.8" stroke-width="3.4" stroke-linejoin="round" clip-path="url(#cp1)"/>
<polygon points="120.5,369.0 122.7,366.7 123.2,363.6 126.8,363.9 130.0,362.2 132.7,361.8 135.1,362.4 137.2,364.6 139.6,364.9 142.2,365.0 144.9,365.7 147.7,365.2 150.3,366.2 153.0,366.3 155.7,367.4 158.4,368.3 161.2,369.0 163.8,367.8 166.6,367.9 169.4,367.6 172.0,366.1 175.0,365.4 177.5,363.6 178.5,366.5 180.4,368.7 183.0,370.3 185.7,369.5 188.3,368.4 191.0,367.6 193.2,366.1 195.4,364.7 197.8,363.6 200.6,363.6 202.9,365.3 205.3,366.9 207.3,369.0 209.3,370.6 210.4,373.2 212.8,374.4 213.6,377.2 214.5,379.9 215.5,382.6 217.7,384.0 219.9,385.5 221.0,388.0 223.0,389.5 225.1,391.0 226.3,393.4 227.7,395.8 228.1,398.7 230.1,400.8 231.8,403.0 234.6,402.7 237.1,404.7 240.0,404.3 241.9,406.0 244.1,406.9 246.1,408.3 248.4,409.1 250.8,409.7 253.0,411.4 255.9,411.7 257.8,414.0 260.7,414.2 263.0,416.2 266.3,415.5 268.5,417.7 271.4,418.2 273.9,419.3 276.7,419.5 279.3,420.3 282.0,420.9 284.7,420.5 287.5,421.1 290.1,419.9 292.8,419.5 295.6,419.9 298.1,418.5 300.9,419.4 303.5,418.2 306.3,418.6 308.9,417.2 311.6,416.9 314.2,418.0 316.6,419.8 319.5,420.4 322.3,420.9 325.0,420.4 327.5,419.4 330.3,419.5 332.9,418.5 335.8,418.6 338.2,416.8 341.0,416.9 343.2,419.6 346.4,420.9 346.4,423.7 344.6,426.1 345.0,428.9 346.4,431.4 346.1,434.6 347.6,437.1 349.0,439.6 351.0,441.6 353.0,443.6 354.8,445.8 357.0,447.6 359.6,449.1 362.5,450.0 365.0,451.7 367.8,451.4 370.4,452.4 373.0,453.6 375.8,453.0 378.4,453.9 381.4,453.4 383.7,455.7 386.5,455.7 386.7,458.5 387.9,461.0 385.9,463.4 385.5,466.6 387.0,468.5 390.1,467.2 392.7,467.5 394.8,469.0 396.8,471.2 399.4,472.5 402.9,473.6 407.6,473.0 411.1,471.3 414.6,470.1 416.9,467.8 419.2,466.1 421.6,467.8 423.1,470.5 422.7,473.6 424.2,475.6 426.2,477.1 429.7,479.4 433.2,481.8 435.5,484.1 437.2,486.9 438.0,490.0 440.2,493.4 442.1,491.2 444.8,489.9 446.8,491.8 449.5,492.3 452.2,492.7 454.2,494.6 456.5,495.8 458.8,496.9 460.0,499.2 462.3,500.4 463.5,503.9 461.1,507.4 459.8,509.5 457.7,510.9 455.3,514.4 454.7,517.0 453.0,519.0 451.8,522.5 451.7,525.2 453.4,527.5 454.0,530.0 454.8,532.6 457.3,534.3 457.9,537.1 459.4,539.3 460.0,542.0 460.8,544.4 463.0,546.1 462.4,549.2 464.4,551.0 466.2,553.2 465.6,556.2 467.9,558.2 468.2,560.8 468.5,563.5 469.7,567.0 470.6,570.5 469.7,573.4 466.2,575.7 463.8,576.6 462.1,578.6 457.5,579.8 454.2,578.7 451.6,576.3 448.9,575.4 447.0,573.4 443.6,572.5 440.0,572.5 437.0,573.2 434.0,573.5 432.1,575.4 428.9,574.4 427.0,576.4 425.1,578.2 423.0,579.6 420.4,580.2 418.0,581.0 415.3,583.3 413.0,586.0 411.2,587.9 411.1,590.7 409.0,592.4 407.2,594.8 404.8,596.6 403.3,598.9 400.7,599.5 398.5,600.8 395.8,600.8 393.1,601.4 390.4,601.6 388.0,603.0 385.0,603.8 382.1,604.9 379.6,607.0 376.7,607.3 374.0,608.5 371.2,609.2 368.7,610.3 365.9,609.9 363.5,611.1 360.8,611.2 359.9,613.8 357.7,615.5 355.3,617.1 355.1,620.2 352.8,621.8 350.8,620.1 348.6,618.7 345.9,618.4 343.3,617.6 341.8,614.4 340.2,611.3 338.9,608.8 339.2,606.1 341.6,604.0 342.3,600.9 345.4,597.7 343.4,595.4 342.3,592.5 344.4,588.3 343.0,585.6 341.2,583.1 338.1,582.7 335.0,582.0 334.3,578.8 335.8,575.7 336.0,572.6 332.9,575.7 331.4,578.4 329.4,580.6 326.6,582.0 325.2,584.8 322.9,586.7 320.3,588.3 319.3,591.0 316.6,592.3 315.1,594.6 311.9,596.7 309.8,594.6 306.7,593.5 303.5,593.5 303.0,590.3 302.5,587.2 302.5,583.1 304.0,580.6 303.5,577.8 301.4,575.7 298.3,577.8 296.1,579.4 294.6,581.4 294.1,584.1 291.8,586.4 288.9,587.8 286.4,587.7 283.9,587.9 281.5,587.2 279.0,586.3 276.3,585.7 273.8,586.1 271.4,587.0 270.1,584.8 268.1,583.1 266.0,581.7 263.2,581.3 260.6,580.1 258.0,579.0 255.4,577.2 252.1,576.4 250.0,573.7 247.0,573.9 244.6,572.2 242.0,572.1 239.4,572.4 237.0,570.8 234.4,571.0 231.6,570.5 228.9,569.8 226.4,568.7 224.1,567.0 221.3,566.3 218.7,565.1 216.5,563.2 213.9,562.0 211.3,561.8 208.7,561.8 206.2,560.7 203.6,560.7 200.8,560.0 198.9,557.3 196.0,556.8 193.3,556.2 190.8,557.1 188.3,558.0 185.8,558.8 183.1,559.3 180.5,559.9 178.0,560.7 176.8,564.5 179.4,565.7 180.6,568.3 182.1,571.5 183.2,574.8 182.5,577.3 181.9,579.9 178.0,582.4 175.6,583.5 173.1,584.1 170.4,583.7 168.1,581.8 165.2,581.2 162.5,580.2 160.2,578.6 157.6,577.3 155.2,576.0 152.5,576.2 149.9,576.0 147.4,577.1 144.5,576.3 142.2,578.2 139.6,578.6 137.7,581.3 134.5,582.4 131.8,582.7 129.6,584.6 127.0,584.8 124.3,585.0 121.9,587.1 120.5,589.9 119.1,592.7 118.8,595.7 116.6,597.9 115.5,600.5 114.0,603.0 113.2,605.5 112.9,608.3 111.5,610.6 109.4,613.0 107.6,615.7 105.0,613.2 102.9,611.5 102.1,609.2 101.2,606.8 98.5,605.1 96.1,603.0 95.7,600.0 92.7,598.2 92.3,595.2 91.8,592.4 89.7,590.3 89.5,587.5 88.4,585.0 85.8,585.2 83.3,585.0 80.7,583.1 78.2,581.0 76.7,578.2 74.3,576.0 71.2,577.5 68.0,578.6 65.9,575.7 65.4,572.2 65.9,569.2 67.9,567.0 69.8,563.8 73.0,562.0 74.2,559.6 74.2,556.9 74.3,554.3 73.9,551.3 72.1,549.0 70.5,546.6 67.7,544.7 66.6,541.5 67.4,539.0 68.1,536.5 67.9,533.8 70.5,533.9 73.0,532.9 75.6,532.5 78.0,530.3 80.7,528.7 83.3,530.3 85.5,532.6 88.4,533.8 90.0,531.5 92.3,530.0 94.1,528.0 96.1,526.1 98.9,526.4 101.2,524.8 103.8,528.7 106.5,528.7 109.1,528.3 111.6,527.5 114.0,526.1 116.0,527.5 117.8,529.1 119.1,531.2 120.6,529.1 121.8,526.8 123.6,525.0 125.6,523.3 126.8,521.0 129.4,519.7 130.8,517.3 133.1,515.7 134.5,513.3 136.8,511.5 139.5,511.1 142.6,511.4 144.8,509.4 147.7,510.0 150.0,511.8 152.4,513.3 153.6,510.2 156.3,508.2 155.7,505.5 157.7,503.2 158.1,500.6 157.7,498.0 157.6,495.4 157.2,491.8 158.5,488.4 157.2,485.8 156.1,483.1 155.8,480.2 154.0,478.5 152.0,477.2 149.7,476.3 147.7,474.8 145.6,473.1 142.8,472.2 141.2,469.9 139.6,467.5 136.8,466.7 135.9,464.3 133.4,463.1 132.8,460.5 131.4,458.5 130.9,455.7 129.1,453.3 128.7,450.4 129.6,447.7 128.6,444.9 129.1,442.2 128.7,439.5 128.0,436.8 128.8,433.9 127.3,431.4 126.5,428.4 124.7,425.9 123.2,423.2 123.1,420.3 124.5,417.8 124.3,414.8 126.0,412.4 127.5,410.5 129.4,408.8 129.5,405.9 131.4,404.3 134.1,404.6 136.8,404.9 139.5,405.1 142.2,405.6 145.0,405.7 147.7,405.9 150.4,405.1 153.0,404.3 155.3,403.3 158.0,403.4 160.0,401.5 158.3,399.0 157.7,395.9 155.8,393.4 153.3,391.1 150.4,389.3 147.9,387.8 145.2,386.6 142.0,386.9 139.5,385.3 139.1,382.5 137.9,379.9 137.8,377.0 136.8,374.4 134.4,372.5 131.5,372.3 128.7,371.7 125.6,371.8 123.2,370.0" fill="none" stroke="#fff" stroke-opacity="0.8" stroke-width="3.4" stroke-linejoin="round" clip-path="url(#cp2)"/>
<polygon points="589.6,289.2 591.9,286.8 594.8,285.4 597.8,284.6 600.7,283.4 603.7,282.8 605.7,284.3 607.8,285.6 610.0,286.6 612.2,289.4 612.7,293.0 615.6,292.9 617.6,295.4 620.4,295.6 623.1,296.0 625.7,296.8 628.0,298.2 630.0,301.0 633.2,302.0 636.4,303.2 639.6,304.6 639.5,307.9 640.8,311.0 642.1,314.2 643.4,317.4 640.8,321.2 643.3,322.4 646.2,322.2 648.5,323.8 651.0,324.9 653.4,326.2 656.2,326.3 658.8,326.8 661.3,327.7 664.0,327.6 666.5,328.4 669.2,327.6 671.6,329.0 673.9,330.7 676.6,331.6 679.3,332.7 682.1,334.3 684.4,336.6 687.0,338.6 687.1,342.2 689.5,344.3 689.6,346.9 689.0,349.4 689.5,352.0 691.9,353.2 694.6,353.3 697.2,353.2 699.9,353.7 702.3,352.2 704.9,352.0 707.3,352.8 709.7,352.2 712.0,353.4 714.5,352.6 714.4,355.9 716.0,358.8 716.5,361.3 716.0,363.7 715.5,366.0 714.5,368.3 713.0,370.7 713.6,373.6 712.7,376.1 712.9,378.9 711.9,381.4 711.4,384.0 709.4,386.3 707.4,388.4 705.0,390.3 705.4,392.9 706.0,395.5 706.7,398.0 709.3,398.1 711.5,396.9 714.0,396.6 716.0,395.0 716.4,397.9 717.2,400.6 719.3,402.8 719.4,406.0 721.0,408.9 720.8,412.2 721.3,414.9 722.2,417.4 723.5,419.7 725.5,421.7 728.1,422.9 730.6,424.2 733.4,424.8 736.4,423.6 739.8,424.5 742.8,423.2 745.5,423.4 748.3,422.7 751.0,422.2 753.8,423.2 755.6,420.9 756.9,418.4 757.0,415.4 760.1,414.5 763.2,415.4 765.9,415.5 768.4,414.1 771.0,413.8 773.6,414.7 775.5,416.6 777.4,418.5 778.5,420.9 779.8,423.2 782.0,424.8 783.5,427.8 782.8,431.1 783.6,434.2 784.6,437.1 783.6,440.0 782.2,442.3 782.1,445.1 780.1,447.2 780.0,450.0 777.7,451.6 777.1,454.3 774.8,455.8 774.6,458.8 773.6,461.2 771.2,462.7 770.0,465.0 768.9,467.6 766.7,469.2 764.5,470.8 762.3,472.3 761.2,474.9 759.5,477.0 756.3,477.6 755.0,480.0 753.1,481.8 750.2,482.0 748.1,483.6 746.6,485.9 744.3,487.2 742.1,488.5 740.0,490.0 737.8,492.5 736.2,495.3 736.6,498.7 737.4,502.0 739.4,503.8 741.3,505.5 743.5,507.0 745.6,508.7 748.4,508.6 750.8,509.4 753.3,510.9 755.3,513.0 758.0,514.2 759.7,516.4 760.9,518.9 761.7,521.5 760.4,523.8 761.1,526.4 760.7,528.8 760.5,531.3 759.3,534.4 756.6,536.3 754.4,538.6 756.1,540.5 758.0,542.2 760.3,540.9 762.9,541.9 765.4,541.6 767.8,541.0 770.1,539.7 772.7,540.7 775.1,540.0 777.5,539.8 779.9,540.5 782.4,540.1 784.7,541.2 787.2,541.0 789.5,542.1 792.4,541.2 794.8,541.9 797.0,543.4 799.3,544.6 801.5,546.0 804.2,545.8 806.3,547.9 807.5,550.6 809.0,553.1 809.6,555.9 811.0,558.5 811.4,561.4 811.3,564.3 811.1,567.2 810.3,570.0 809.2,572.3 807.5,574.2 806.7,576.7 805.0,578.6 804.6,581.5 803.0,584.1 802.9,587.1 801.2,589.1 798.5,589.1 796.2,589.9 794.3,591.4 792.4,593.2 790.4,594.8 787.9,595.7 786.2,597.5 785.7,600.0 788.3,601.7 790.0,604.3 792.6,606.0 794.3,608.6 792.3,610.9 790.0,612.9 787.0,613.2 784.5,615.2 781.4,615.0 778.6,615.4 775.7,615.4 772.9,615.0 769.9,615.0 767.2,616.5 764.3,617.1 762.5,618.9 762.1,621.4 763.2,624.2 763.2,627.1 763.2,630.0 762.5,632.8 761.6,635.6 762.1,638.6 761.5,641.5 761.3,644.4 760.0,647.1 759.7,649.6 757.8,651.4 757.4,653.9 755.7,655.7 753.1,657.4 750.9,659.4 749.3,662.1 747.6,664.1 745.3,665.4 742.9,666.4 740.4,666.9 738.5,668.3 736.1,669.0 734.3,670.7 732.4,672.6 730.5,674.6 728.1,675.9 725.7,677.1 723.2,678.0 721.7,680.4 719.3,681.4 716.0,680.7 712.9,679.3 710.7,678.4 708.5,677.3 706.4,676.3 704.3,675.0 702.6,673.1 699.7,673.5 697.4,672.7 695.7,670.7 693.1,669.1 690.2,668.5 687.1,668.6 684.6,667.0 681.7,667.6 679.3,666.0 676.4,666.4 675.7,663.7 673.0,662.5 672.1,660.0 670.9,657.5 669.5,655.3 667.6,653.3 665.7,651.4 662.5,650.3 659.3,649.3 655.9,648.6 652.9,647.1 651.2,649.3 649.0,651.0 650.5,653.8 650.8,657.0 650.2,660.5 647.8,663.2 645.4,664.5 643.5,666.6 640.6,667.1 638.7,669.2 636.5,670.8 633.6,669.6 631.3,670.6 628.8,670.8 626.6,672.3 623.9,670.0 620.5,669.2 621.5,666.9 621.0,664.4 621.0,662.0 621.4,659.3 623.6,657.8 626.1,655.5 627.8,652.5 629.4,649.4 632.1,647.1 632.8,644.2 634.3,641.7 631.0,638.5 629.5,636.5 627.5,634.9 625.7,633.2 621.4,633.7 617.1,634.3 613.9,636.4 612.8,640.7 610.7,645.0 608.7,646.8 606.4,648.2 602.1,649.2 599.3,649.5 596.0,649.6 593.2,651.3 590.3,652.6 588.5,650.5 587.2,648.0 585.7,645.2 586.0,641.7 584.2,639.0 582.7,636.8 581.7,634.2 579.4,632.4 578.2,630.0 576.4,627.9 575.8,625.1 575.1,622.4 572.6,620.6 572.0,617.8 572.0,615.2 571.7,612.7 570.9,610.4 570.3,607.9 569.0,605.7 566.7,603.3 566.4,600.0 566.2,597.2 565.4,594.4 563.6,590.7 562.6,587.0 562.6,583.3 565.4,580.5 567.3,576.8 568.2,573.1 571.9,570.3 574.7,569.6 576.6,567.5 580.3,564.7 578.4,561.9 575.6,560.1 571.9,557.3 569.1,553.6 565.4,551.7 560.8,552.6 557.1,549.9 553.4,547.1 548.7,547.1 546.1,545.4 545.0,542.4 542.5,541.3 540.3,539.8 538.4,537.8 538.0,535.2 537.4,532.6 537.1,530.0 537.5,527.5 538.6,525.0 538.4,522.4 538.2,519.5 539.2,517.0 541.0,514.8 542.3,512.3 544.3,510.3 546.1,508.3 548.7,507.0 551.5,507.4 554.0,506.5 556.1,504.2 558.9,504.5 561.5,503.3 564.0,502.0 565.9,500.0 568.0,498.2 570.4,496.8 570.1,494.2 570.7,491.7 570.6,489.2 570.4,486.6 570.4,484.0 570.4,481.4 571.0,478.8 571.7,476.3 570.7,473.7 571.4,471.0 571.6,468.3 570.9,465.7 570.4,463.2 569.4,460.7 570.1,458.1 569.1,455.1 569.3,452.1 569.3,449.0 567.0,446.0 565.0,448.0 561.0,450.0 557.0,451.0 554.8,453.4 553.0,456.0 549.0,455.0 547.4,452.6 545.0,451.0 542.8,448.7 541.0,446.0 537.0,444.0 534.6,442.9 532.0,443.0 529.6,442.2 527.0,442.0 525.0,439.0 524.4,436.0 524.0,433.0 524.2,430.4 525.0,428.0 525.0,425.5 525.0,423.0 522.0,420.0 519.7,418.6 517.0,418.0 513.0,416.0 510.4,415.2 508.0,414.0 506.0,411.0 507.0,408.0 506.0,404.0 506.9,401.6 507.0,399.0 509.0,399.0 512.0,402.0 515.0,404.0 517.5,403.9 520.0,404.0 522.3,402.5 525.0,402.0 527.5,401.1 530.0,400.0 532.0,397.0 533.1,393.8 533.3,390.4 532.4,387.8 533.1,385.3 533.1,382.7 534.1,380.2 533.3,377.6 535.8,375.6 536.5,372.4 538.4,370.0 541.2,369.9 543.7,368.8 546.0,367.3 548.4,365.5 551.2,364.7 550.7,362.1 549.6,359.7 550.0,357.0 550.4,354.4 549.7,351.9 549.9,349.2 548.7,346.8 549.3,344.2 549.1,341.7 549.2,339.2 548.7,336.6 550.1,334.1 551.2,331.5 553.5,329.8 556.4,330.0 558.9,329.0 561.6,328.3 564.2,329.0 566.6,330.2 569.0,331.6 572.0,330.9 574.3,332.7 576.4,335.5 576.8,339.0 578.5,341.3 577.7,344.5 579.4,346.8 581.8,348.2 583.9,349.9 584.6,353.1 587.0,354.5 589.3,352.9 592.4,353.6 594.8,352.0 597.5,351.5 600.1,351.0 602.4,349.4 604.6,347.3 605.0,344.3 606.8,342.7 608.8,341.2 610.0,339.0 611.3,336.6 614.3,336.3 615.9,334.3 617.8,332.7 615.5,330.5 612.7,329.0 611.8,326.4 613.2,323.8 612.7,321.2 612.7,318.3 610.0,316.4 610.0,313.5 607.4,313.5 605.0,312.6 602.4,312.3 600.2,310.4 597.1,310.2 594.8,308.4 592.6,307.2 590.9,305.4 589.6,303.3 589.4,300.7 589.3,298.1 588.3,295.6 588.7,292.4" fill="none" stroke="#fff" stroke-opacity="0.8" stroke-width="3.4" stroke-linejoin="round" clip-path="url(#cp3)"/>
<polygon points="89.9,117.9 91.8,115.3 92.4,112.1 94.9,112.9 98.1,116.2 99.9,117.9 102.2,118.7 104.2,116.5 106.4,114.6 108.5,112.1 111.3,110.5 113.8,109.3 116.2,108.0 116.8,104.6 117.9,101.4 120.4,99.8 122.0,97.3 125.2,95.7 128.5,99.0 131.0,98.6 133.5,99.0 135.9,101.4 137.2,103.4 138.4,105.5 142.5,107.2 144.9,108.2 147.4,108.8 149.5,110.9 152.4,111.3 154.8,112.1 157.3,112.9 159.7,114.2 161.4,116.2 163.0,117.0 165.5,113.7 168.8,111.3 170.5,109.1 171.2,106.4 171.1,103.1 170.4,99.8 173.7,96.5 176.1,95.6 178.6,95.7 182.7,94.0 185.4,94.1 187.9,93.4 190.3,92.2 192.8,91.6 195.0,90.0 196.6,88.1 199.0,87.2 201.1,85.9 202.6,84.0 204.1,82.0 206.0,80.5 205.8,77.8 207.1,75.6 208.1,73.2 208.5,70.7 210.6,67.8 211.0,64.2 215.0,61.8 217.8,60.0 219.1,56.9 221.6,60.1 222.8,63.4 224.0,66.7 225.0,69.6 227.3,71.6 230.0,72.8 232.2,74.8 233.3,77.3 235.4,78.9 238.7,75.6 242.0,78.9 243.6,82.0 245.9,83.1 248.7,83.0 250.5,85.4 253.0,86.0 255.4,84.4 258.4,83.9 260.8,82.2 263.1,80.5 262.2,77.6 263.5,74.8 264.6,72.0 264.0,69.1 265.6,67.1 268.0,65.9 269.7,63.6 272.0,61.8 273.6,64.0 276.2,65.0 279.0,66.1 281.0,68.3 282.5,70.4 284.3,72.4 284.6,69.1 286.0,66.0 287.8,62.9 287.6,59.3 290.8,56.9 294.0,54.4 296.7,52.7 298.4,50.0 300.6,51.2 303.9,47.9 306.2,46.6 308.7,45.5 311.0,44.2 313.6,44.7 315.5,42.4 318.0,40.7 319.7,38.8 322.0,37.5 323.0,35.0 324.9,33.0 327.7,32.7 330.0,31.4 333.3,32.4 336.8,32.6 338.3,34.9 340.0,37.0 342.0,35.1 342.9,32.5 345.1,30.7 345.8,28.0 347.0,25.6 349.0,23.4 350.8,21.0 354.3,21.4 357.8,22.0 360.6,24.0 363.6,25.6 365.3,23.1 367.6,21.0 369.4,18.6 371.5,16.7 373.7,15.0 376.4,14.0 378.4,12.2 381.0,11.6 383.9,13.0 387.0,14.0 389.8,12.7 392.3,10.8 395.0,9.3 397.6,9.2 399.5,11.4 402.0,11.6 403.4,13.8 405.3,15.5 407.8,16.3 410.6,20.0 409.6,22.8 410.0,25.7 408.4,28.1 407.6,30.8 407.7,33.7 409.1,36.6 410.6,39.4 413.4,38.6 416.3,38.3 419.1,41.7 417.8,43.8 417.4,46.3 415.5,48.9 412.9,50.9 412.3,54.3 413.4,57.7 412.4,60.3 411.9,62.9 412.3,65.7 410.6,67.7 410.6,70.3 408.2,72.5 406.0,74.9 403.5,76.6 402.6,79.4 400.3,82.9 399.0,85.1 398.0,87.4 396.9,92.0 397.3,94.5 397.4,97.0 399.5,100.0 402.6,98.9 404.1,96.1 404.9,93.1 407.0,89.0 410.6,86.3 415.0,88.0 415.2,90.8 416.4,93.1 418.4,95.0 418.0,98.7 419.3,102.4 418.7,105.2 419.3,108.0 419.8,110.9 418.4,113.6 420.3,116.4 424.0,117.3 426.8,113.6 429.6,109.9 433.3,109.0 437.0,109.9 441.7,109.9 445.4,111.8 444.5,114.6 442.6,118.3 443.3,120.7 444.5,122.9 445.4,127.6 446.4,129.9 447.3,132.2 447.3,136.9 446.1,139.1 445.4,141.6 442.8,143.7 441.5,146.8 441.8,149.5 441.0,152.0 440.5,155.0 441.0,158.0 440.3,161.4 438.0,164.0 436.4,166.4 434.0,168.0 431.5,169.5 430.0,172.0 429.9,175.1 429.0,178.0 426.9,179.6 426.0,182.0 424.6,184.6 422.0,186.0 420.0,190.0 419.7,193.2 418.0,196.0 417.1,198.9 417.0,202.0 418.2,204.4 417.4,207.0 416.6,209.7 415.2,212.2 415.3,215.2 414.7,217.9 413.6,220.5 414.4,223.6 412.4,225.9 412.0,228.7 410.6,231.4 409.7,234.2 407.5,236.2 405.5,238.4 403.6,240.1 401.4,241.5 398.9,243.3 396.1,244.7 393.0,246.8 390.9,249.6 390.9,253.0 390.8,256.5 388.8,259.3 388.7,262.8 386.7,265.6 384.0,266.4 382.5,268.8 379.7,271.0 376.2,271.9 373.4,273.7 370.0,274.0 369.5,277.4 367.8,280.3 367.1,283.5 367.8,286.6 365.7,290.8 362.9,290.4 360.7,292.9 357.9,292.5 355.3,292.9 353.7,295.0 351.4,296.1 349.0,297.0 348.1,299.4 345.9,301.0 344.8,303.3 340.6,305.4 338.5,307.5 336.4,311.7 334.5,314.1 332.2,316.0 329.6,317.4 326.6,317.3 323.8,318.0 321.2,319.7 318.4,320.3 315.4,320.1 312.6,318.0 309.2,318.0 306.6,316.4 305.0,313.8 302.7,311.9 300.8,309.6 297.7,308.6 294.5,308.6 291.7,306.3 288.2,305.4 285.5,303.0 281.9,302.3 280.4,305.4 277.7,307.5 274.8,307.8 271.9,307.9 269.3,309.6 266.9,311.6 263.6,311.4 261.0,312.8 259.3,310.8 256.6,310.3 254.7,308.6 251.6,309.6 248.4,309.6 245.7,308.7 242.8,308.3 240.0,307.5 236.0,308.0 233.9,309.5 231.4,309.7 229.0,310.4 226.6,309.4 224.4,308.0 222.0,307.0 219.7,305.0 217.1,303.3 215.0,301.0 213.2,298.8 212.6,295.9 210.4,294.0 207.7,292.7 205.8,290.4 202.7,289.6 201.0,287.0 199.3,285.0 196.8,284.2 195.0,282.4 193.7,279.4 193.9,276.2 194.0,273.0 192.4,270.4 191.8,267.3 191.8,264.6 189.6,262.8 188.5,260.5 188.0,258.0 186.7,255.7 186.9,252.8 185.3,250.7 184.2,248.3 183.0,246.0 182.4,243.5 180.8,241.4 179.8,239.1 179.3,236.5 177.0,234.8 177.0,232.0 175.1,229.8 174.2,227.2 172.7,224.8 172.0,222.0 169.8,218.5 167.5,220.4 165.6,222.7 162.9,223.7 159.8,223.3 157.2,224.8 154.4,224.7 151.7,225.0 148.9,224.8 146.7,223.6 144.9,221.6 142.6,220.6 141.7,217.8 141.5,214.9 140.5,212.2 139.8,209.3 141.0,206.6 141.5,203.8 142.6,200.4 144.7,197.5 147.4,194.2 150.7,191.0 152.7,188.7 155.6,187.7 158.1,188.2 160.6,188.5 163.0,188.1 165.5,187.7 166.9,185.7 168.0,183.6 169.3,180.4 169.6,177.0 170.4,173.7 169.6,170.4 169.2,167.2 168.8,163.9 167.5,160.7 167.1,157.3 165.4,154.9 163.9,152.4 160.6,150.7 157.3,152.4 154.6,152.6 152.4,154.0 149.1,153.2 145.8,154.0 143.3,150.7 140.9,150.7 137.6,154.0 133.5,152.4 129.4,151.5 126.9,149.9 125.2,146.6 124.4,142.5 124.8,139.9 123.6,137.6 120.3,134.3 118.6,132.5 116.2,131.8 113.6,132.1 111.3,131.0 109.0,129.5 106.4,130.2 102.2,131.0 99.8,134.3 97.5,132.4 94.9,131.0 92.7,128.7 92.6,125.3 90.8,122.8 91.4,120.2" fill="none" stroke="#98d094" stroke-width="1.05" stroke-linejoin="round"/>
<polygon points="632.5,29.8 635.0,30.5 636.7,32.6 636.4,35.5 637.0,38.3 638.0,41.0 639.8,43.1 640.7,45.7 642.0,48.0 643.8,50.0 645.2,52.4 646.8,54.6 649.0,56.3 651.9,57.5 654.3,59.3 656.0,62.0 656.9,64.4 659.0,66.0 660.5,68.3 661.2,71.0 663.0,73.0 665.8,73.5 667.4,75.7 669.2,77.7 671.6,78.7 674.5,78.4 677.1,80.2 679.9,80.4 682.9,78.7 685.6,80.0 688.5,79.3 691.2,80.8 693.9,82.1 696.8,81.5 699.6,81.5 702.4,81.4 705.2,82.2 708.0,81.6 710.7,82.9 713.6,82.5 716.4,83.2 719.2,83.5 722.0,83.7 724.4,84.9 726.0,87.0 725.1,89.4 723.3,91.2 721.0,92.3 718.5,92.2 716.0,92.6 713.6,94.4 710.7,95.4 708.1,97.3 704.7,96.6 702.0,98.2 700.2,100.0 698.3,101.7 696.8,103.8 697.0,106.7 694.8,109.2 695.4,112.2 695.5,115.2 697.9,117.6 698.0,120.6 698.7,123.4 698.3,126.3 698.7,129.1 699.5,131.8 700.7,134.5 703.4,135.8 704.7,138.4 707.1,140.0 707.5,142.9 708.6,145.7 711.1,147.5 712.9,150.0 714.3,154.3 712.0,155.5 710.0,157.1 707.9,158.8 707.1,161.4 703.9,162.2 701.4,164.3 698.5,165.7 695.7,167.1 692.8,168.4 690.0,170.0 687.0,170.7 684.3,169.3 681.6,170.5 678.6,170.7 675.4,171.9 672.9,174.3 668.6,175.0 665.7,174.5 662.9,173.6 660.1,174.7 657.1,174.3 654.2,174.2 651.4,174.3 649.0,175.3 647.1,177.1 646.0,179.9 645.7,182.9 646.7,185.7 647.1,188.6 648.0,191.4 648.6,194.3 650.7,195.7 652.9,197.1 655.4,199.7 658.6,201.4 660.7,202.9 662.9,204.3 663.8,207.1 664.3,210.0 662.9,212.2 661.4,214.3 661.7,217.4 660.0,220.0 660.3,223.1 658.6,225.7 656.1,227.5 654.3,230.0 651.4,231.4 650.0,234.3 648.4,236.3 647.1,238.6 643.5,238.5 640.0,238.0 637.1,238.3 634.5,237.1 631.7,235.7 628.9,234.3 625.2,234.3 622.7,235.1 621.1,237.0 619.6,239.0 617.7,241.2 615.9,243.6 612.1,245.5 608.4,248.3 608.6,251.4 610.8,253.7 611.2,256.7 608.4,258.5 605.2,258.0 601.9,257.6 599.9,255.7 597.2,255.7 595.1,254.3 592.8,253.3 590.7,252.0 588.9,249.2 587.9,246.5 588.0,243.6 586.0,240.8 581.7,239.0 577.5,241.1 573.3,240.4 570.8,240.6 568.4,241.1 564.9,239.7 562.8,240.4 560.7,238.3 558.5,239.8 557.9,242.5 555.1,239.0 553.0,237.6 551.0,241.8 547.5,243.9 544.0,246.6 543.3,250.1 540.0,250.8 537.0,249.4 534.2,246.0 532.7,242.4 531.1,239.9 528.6,238.3 526.1,237.0 523.2,237.0 520.5,236.2 517.7,237.0 513.7,235.6 510.9,234.2 508.2,231.5 508.1,228.7 506.9,226.1 506.9,223.2 505.5,220.7 504.2,218.6 502.8,216.6 501.4,212.5 504.2,209.8 508.2,209.8 510.3,208.6 512.3,207.1 510.9,203.0 509.6,200.3 510.3,196.2 508.2,192.1 506.1,190.9 504.2,189.4 501.4,186.7 500.8,182.6 502.8,178.5 503.3,176.0 505.5,174.5 508.1,173.0 509.6,170.4 511.7,169.2 513.7,167.7 516.0,165.1 519.1,163.6 521.8,162.9 524.5,162.2 527.2,161.5 530.0,160.9 532.6,159.3 535.4,158.2 537.3,156.5 539.5,155.4 542.7,156.8 546.0,158.0 547.2,155.3 548.0,152.5 548.7,149.6 549.5,146.7 549.6,143.5 551.5,141.0 552.2,137.6 554.0,134.6 551.7,132.7 550.6,129.8 548.7,127.6 547.4,124.8 545.4,122.5 543.0,120.6 541.6,118.3 539.8,116.4 537.5,115.0 535.6,112.4 534.7,109.4 536.1,106.8 536.0,103.8 537.8,101.7 538.1,98.7 540.3,96.8 542.8,94.9 545.6,93.9 548.7,94.0 551.6,94.1 554.1,92.5 557.0,92.6 559.8,91.7 562.6,92.9 565.4,92.6 567.3,90.3 568.9,87.8 571.2,85.8 573.8,84.3 575.7,82.5 577.0,80.1 579.4,78.7 581.4,76.4 584.4,75.3 586.4,73.0 589.0,69.0 593.4,70.3 596.2,69.6 599.0,69.0 601.8,69.0 604.5,69.8 607.3,70.3 610.8,69.3 614.3,70.3 613.0,67.5 611.3,65.5 609.9,63.4 607.9,61.5 607.0,59.0 604.6,57.8 604.2,54.7 601.8,53.5 600.4,51.4 599.0,49.3 601.8,46.5 604.4,47.4 606.3,49.5 608.7,50.7 611.5,48.0 612.9,44.6 613.0,41.0 615.5,39.3 618.5,39.6 621.2,38.5 624.0,39.6 625.7,37.5 628.3,36.8 629.5,34.1 629.7,31.2" fill="none" stroke="#98d094" stroke-width="1.05" stroke-linejoin="round"/>
<polygon points="120.5,369.0 122.7,366.7 123.2,363.6 126.8,363.9 130.0,362.2 132.7,361.8 135.1,362.4 137.2,364.6 139.6,364.9 142.2,365.0 144.9,365.7 147.7,365.2 150.3,366.2 153.0,366.3 155.7,367.4 158.4,368.3 161.2,369.0 163.8,367.8 166.6,367.9 169.4,367.6 172.0,366.1 175.0,365.4 177.5,363.6 178.5,366.5 180.4,368.7 183.0,370.3 185.7,369.5 188.3,368.4 191.0,367.6 193.2,366.1 195.4,364.7 197.8,363.6 200.6,363.6 202.9,365.3 205.3,366.9 207.3,369.0 209.3,370.6 210.4,373.2 212.8,374.4 213.6,377.2 214.5,379.9 215.5,382.6 217.7,384.0 219.9,385.5 221.0,388.0 223.0,389.5 225.1,391.0 226.3,393.4 227.7,395.8 228.1,398.7 230.1,400.8 231.8,403.0 234.6,402.7 237.1,404.7 240.0,404.3 241.9,406.0 244.1,406.9 246.1,408.3 248.4,409.1 250.8,409.7 253.0,411.4 255.9,411.7 257.8,414.0 260.7,414.2 263.0,416.2 266.3,415.5 268.5,417.7 271.4,418.2 273.9,419.3 276.7,419.5 279.3,420.3 282.0,420.9 284.7,420.5 287.5,421.1 290.1,419.9 292.8,419.5 295.6,419.9 298.1,418.5 300.9,419.4 303.5,418.2 306.3,418.6 308.9,417.2 311.6,416.9 314.2,418.0 316.6,419.8 319.5,420.4 322.3,420.9 325.0,420.4 327.5,419.4 330.3,419.5 332.9,418.5 335.8,418.6 338.2,416.8 341.0,416.9 343.2,419.6 346.4,420.9 346.4,423.7 344.6,426.1 345.0,428.9 346.4,431.4 346.1,434.6 347.6,437.1 349.0,439.6 351.0,441.6 353.0,443.6 354.8,445.8 357.0,447.6 359.6,449.1 362.5,450.0 365.0,451.7 367.8,451.4 370.4,452.4 373.0,453.6 375.8,453.0 378.4,453.9 381.4,453.4 383.7,455.7 386.5,455.7 386.7,458.5 387.9,461.0 385.9,463.4 385.5,466.6 387.0,468.5 390.1,467.2 392.7,467.5 394.8,469.0 396.8,471.2 399.4,472.5 402.9,473.6 407.6,473.0 411.1,471.3 414.6,470.1 416.9,467.8 419.2,466.1 421.6,467.8 423.1,470.5 422.7,473.6 424.2,475.6 426.2,477.1 429.7,479.4 433.2,481.8 435.5,484.1 437.2,486.9 438.0,490.0 440.2,493.4 442.1,491.2 444.8,489.9 446.8,491.8 449.5,492.3 452.2,492.7 454.2,494.6 456.5,495.8 458.8,496.9 460.0,499.2 462.3,500.4 463.5,503.9 461.1,507.4 459.8,509.5 457.7,510.9 455.3,514.4 454.7,517.0 453.0,519.0 451.8,522.5 451.7,525.2 453.4,527.5 454.0,530.0 454.8,532.6 457.3,534.3 457.9,537.1 459.4,539.3 460.0,542.0 460.8,544.4 463.0,546.1 462.4,549.2 464.4,551.0 466.2,553.2 465.6,556.2 467.9,558.2 468.2,560.8 468.5,563.5 469.7,567.0 470.6,570.5 469.7,573.4 466.2,575.7 463.8,576.6 462.1,578.6 457.5,579.8 454.2,578.7 451.6,576.3 448.9,575.4 447.0,573.4 443.6,572.5 440.0,572.5 437.0,573.2 434.0,573.5 432.1,575.4 428.9,574.4 427.0,576.4 425.1,578.2 423.0,579.6 420.4,580.2 418.0,581.0 415.3,583.3 413.0,586.0 411.2,587.9 411.1,590.7 409.0,592.4 407.2,594.8 404.8,596.6 403.3,598.9 400.7,599.5 398.5,600.8 395.8,600.8 393.1,601.4 390.4,601.6 388.0,603.0 385.0,603.8 382.1,604.9 379.6,607.0 376.7,607.3 374.0,608.5 371.2,609.2 368.7,610.3 365.9,609.9 363.5,611.1 360.8,611.2 359.9,613.8 357.7,615.5 355.3,617.1 355.1,620.2 352.8,621.8 350.8,620.1 348.6,618.7 345.9,618.4 343.3,617.6 341.8,614.4 340.2,611.3 338.9,608.8 339.2,606.1 341.6,604.0 342.3,600.9 345.4,597.7 343.4,595.4 342.3,592.5 344.4,588.3 343.0,585.6 341.2,583.1 338.1,582.7 335.0,582.0 334.3,578.8 335.8,575.7 336.0,572.6 332.9,575.7 331.4,578.4 329.4,580.6 326.6,582.0 325.2,584.8 322.9,586.7 320.3,588.3 319.3,591.0 316.6,592.3 315.1,594.6 311.9,596.7 309.8,594.6 306.7,593.5 303.5,593.5 303.0,590.3 302.5,587.2 302.5,583.1 304.0,580.6 303.5,577.8 301.4,575.7 298.3,577.8 296.1,579.4 294.6,581.4 294.1,584.1 291.8,586.4 288.9,587.8 286.4,587.7 283.9,587.9 281.5,587.2 279.0,586.3 276.3,585.7 273.8,586.1 271.4,587.0 270.1,584.8 268.1,583.1 266.0,581.7 263.2,581.3 260.6,580.1 258.0,579.0 255.4,577.2 252.1,576.4 250.0,573.7 247.0,573.9 244.6,572.2 242.0,572.1 239.4,572.4 237.0,570.8 234.4,571.0 231.6,570.5 228.9,569.8 226.4,568.7 224.1,567.0 221.3,566.3 218.7,565.1 216.5,563.2 213.9,562.0 211.3,561.8 208.7,561.8 206.2,560.7 203.6,560.7 200.8,560.0 198.9,557.3 196.0,556.8 193.3,556.2 190.8,557.1 188.3,558.0 185.8,558.8 183.1,559.3 180.5,559.9 178.0,560.7 176.8,564.5 179.4,565.7 180.6,568.3 182.1,571.5 183.2,574.8 182.5,577.3 181.9,579.9 178.0,582.4 175.6,583.5 173.1,584.1 170.4,583.7 168.1,581.8 165.2,581.2 162.5,580.2 160.2,578.6 157.6,577.3 155.2,576.0 152.5,576.2 149.9,576.0 147.4,577.1 144.5,576.3 142.2,578.2 139.6,578.6 137.7,581.3 134.5,582.4 131.8,582.7 129.6,584.6 127.0,584.8 124.3,585.0 121.9,587.1 120.5,589.9 119.1,592.7 118.8,595.7 116.6,597.9 115.5,600.5 114.0,603.0 113.2,605.5 112.9,608.3 111.5,610.6 109.4,613.0 107.6,615.7 105.0,613.2 102.9,611.5 102.1,609.2 101.2,606.8 98.5,605.1 96.1,603.0 95.7,600.0 92.7,598.2 92.3,595.2 91.8,592.4 89.7,590.3 89.5,587.5 88.4,585.0 85.8,585.2 83.3,585.0 80.7,583.1 78.2,581.0 76.7,578.2 74.3,576.0 71.2,577.5 68.0,578.6 65.9,575.7 65.4,572.2 65.9,569.2 67.9,567.0 69.8,563.8 73.0,562.0 74.2,559.6 74.2,556.9 74.3,554.3 73.9,551.3 72.1,549.0 70.5,546.6 67.7,544.7 66.6,541.5 67.4,539.0 68.1,536.5 67.9,533.8 70.5,533.9 73.0,532.9 75.6,532.5 78.0,530.3 80.7,528.7 83.3,530.3 85.5,532.6 88.4,533.8 90.0,531.5 92.3,530.0 94.1,528.0 96.1,526.1 98.9,526.4 101.2,524.8 103.8,528.7 106.5,528.7 109.1,528.3 111.6,527.5 114.0,526.1 116.0,527.5 117.8,529.1 119.1,531.2 120.6,529.1 121.8,526.8 123.6,525.0 125.6,523.3 126.8,521.0 129.4,519.7 130.8,517.3 133.1,515.7 134.5,513.3 136.8,511.5 139.5,511.1 142.6,511.4 144.8,509.4 147.7,510.0 150.0,511.8 152.4,513.3 153.6,510.2 156.3,508.2 155.7,505.5 157.7,503.2 158.1,500.6 157.7,498.0 157.6,495.4 157.2,491.8 158.5,488.4 157.2,485.8 156.1,483.1 155.8,480.2 154.0,478.5 152.0,477.2 149.7,476.3 147.7,474.8 145.6,473.1 142.8,472.2 141.2,469.9 139.6,467.5 136.8,466.7 135.9,464.3 133.4,463.1 132.8,460.5 131.4,458.5 130.9,455.7 129.1,453.3 128.7,450.4 129.6,447.7 128.6,444.9 129.1,442.2 128.7,439.5 128.0,436.8 128.8,433.9 127.3,431.4 126.5,428.4 124.7,425.9 123.2,423.2 123.1,420.3 124.5,417.8 124.3,414.8 126.0,412.4 127.5,410.5 129.4,408.8 129.5,405.9 131.4,404.3 134.1,404.6 136.8,404.9 139.5,405.1 142.2,405.6 145.0,405.7 147.7,405.9 150.4,405.1 153.0,404.3 155.3,403.3 158.0,403.4 160.0,401.5 158.3,399.0 157.7,395.9 155.8,393.4 153.3,391.1 150.4,389.3 147.9,387.8 145.2,386.6 142.0,386.9 139.5,385.3 139.1,382.5 137.9,379.9 137.8,377.0 136.8,374.4 134.4,372.5 131.5,372.3 128.7,371.7 125.6,371.8 123.2,370.0" fill="none" stroke="#98d094" stroke-width="1.05" stroke-linejoin="round"/>
<polygon points="589.6,289.2 591.9,286.8 594.8,285.4 597.8,284.6 600.7,283.4 603.7,282.8 605.7,284.3 607.8,285.6 610.0,286.6 612.2,289.4 612.7,293.0 615.6,292.9 617.6,295.4 620.4,295.6 623.1,296.0 625.7,296.8 628.0,298.2 630.0,301.0 633.2,302.0 636.4,303.2 639.6,304.6 639.5,307.9 640.8,311.0 642.1,314.2 643.4,317.4 640.8,321.2 643.3,322.4 646.2,322.2 648.5,323.8 651.0,324.9 653.4,326.2 656.2,326.3 658.8,326.8 661.3,327.7 664.0,327.6 666.5,328.4 669.2,327.6 671.6,329.0 673.9,330.7 676.6,331.6 679.3,332.7 682.1,334.3 684.4,336.6 687.0,338.6 687.1,342.2 689.5,344.3 689.6,346.9 689.0,349.4 689.5,352.0 691.9,353.2 694.6,353.3 697.2,353.2 699.9,353.7 702.3,352.2 704.9,352.0 707.3,352.8 709.7,352.2 712.0,353.4 714.5,352.6 714.4,355.9 716.0,358.8 716.5,361.3 716.0,363.7 715.5,366.0 714.5,368.3 713.0,370.7 713.6,373.6 712.7,376.1 712.9,378.9 711.9,381.4 711.4,384.0 709.4,386.3 707.4,388.4 705.0,390.3 705.4,392.9 706.0,395.5 706.7,398.0 709.3,398.1 711.5,396.9 714.0,396.6 716.0,395.0 716.4,397.9 717.2,400.6 719.3,402.8 719.4,406.0 721.0,408.9 720.8,412.2 721.3,414.9 722.2,417.4 723.5,419.7 725.5,421.7 728.1,422.9 730.6,424.2 733.4,424.8 736.4,423.6 739.8,424.5 742.8,423.2 745.5,423.4 748.3,422.7 751.0,422.2 753.8,423.2 755.6,420.9 756.9,418.4 757.0,415.4 760.1,414.5 763.2,415.4 765.9,415.5 768.4,414.1 771.0,413.8 773.6,414.7 775.5,416.6 777.4,418.5 778.5,420.9 779.8,423.2 782.0,424.8 783.5,427.8 782.8,431.1 783.6,434.2 784.6,437.1 783.6,440.0 782.2,442.3 782.1,445.1 780.1,447.2 780.0,450.0 777.7,451.6 777.1,454.3 774.8,455.8 774.6,458.8 773.6,461.2 771.2,462.7 770.0,465.0 768.9,467.6 766.7,469.2 764.5,470.8 762.3,472.3 761.2,474.9 759.5,477.0 756.3,477.6 755.0,480.0 753.1,481.8 750.2,482.0 748.1,483.6 746.6,485.9 744.3,487.2 742.1,488.5 740.0,490.0 737.8,492.5 736.2,495.3 736.6,498.7 737.4,502.0 739.4,503.8 741.3,505.5 743.5,507.0 745.6,508.7 748.4,508.6 750.8,509.4 753.3,510.9 755.3,513.0 758.0,514.2 759.7,516.4 760.9,518.9 761.7,521.5 760.4,523.8 761.1,526.4 760.7,528.8 760.5,531.3 759.3,534.4 756.6,536.3 754.4,538.6 756.1,540.5 758.0,542.2 760.3,540.9 762.9,541.9 765.4,541.6 767.8,541.0 770.1,539.7 772.7,540.7 775.1,540.0 777.5,539.8 779.9,540.5 782.4,540.1 784.7,541.2 787.2,541.0 789.5,542.1 792.4,541.2 794.8,541.9 797.0,543.4 799.3,544.6 801.5,546.0 804.2,545.8 806.3,547.9 807.5,550.6 809.0,553.1 809.6,555.9 811.0,558.5 811.4,561.4 811.3,564.3 811.1,567.2 810.3,570.0 809.2,572.3 807.5,574.2 806.7,576.7 805.0,578.6 804.6,581.5 803.0,584.1 802.9,587.1 801.2,589.1 798.5,589.1 796.2,589.9 794.3,591.4 792.4,593.2 790.4,594.8 787.9,595.7 786.2,597.5 785.7,600.0 788.3,601.7 790.0,604.3 792.6,606.0 794.3,608.6 792.3,610.9 790.0,612.9 787.0,613.2 784.5,615.2 781.4,615.0 778.6,615.4 775.7,615.4 772.9,615.0 769.9,615.0 767.2,616.5 764.3,617.1 762.5,618.9 762.1,621.4 763.2,624.2 763.2,627.1 763.2,630.0 762.5,632.8 761.6,635.6 762.1,638.6 761.5,641.5 761.3,644.4 760.0,647.1 759.7,649.6 757.8,651.4 757.4,653.9 755.7,655.7 753.1,657.4 750.9,659.4 749.3,662.1 747.6,664.1 745.3,665.4 742.9,666.4 740.4,666.9 738.5,668.3 736.1,669.0 734.3,670.7 732.4,672.6 730.5,674.6 728.1,675.9 725.7,677.1 723.2,678.0 721.7,680.4 719.3,681.4 716.0,680.7 712.9,679.3 710.7,678.4 708.5,677.3 706.4,676.3 704.3,675.0 702.6,673.1 699.7,673.5 697.4,672.7 695.7,670.7 693.1,669.1 690.2,668.5 687.1,668.6 684.6,667.0 681.7,667.6 679.3,666.0 676.4,666.4 675.7,663.7 673.0,662.5 672.1,660.0 670.9,657.5 669.5,655.3 667.6,653.3 665.7,651.4 662.5,650.3 659.3,649.3 655.9,648.6 652.9,647.1 651.2,649.3 649.0,651.0 650.5,653.8 650.8,657.0 650.2,660.5 647.8,663.2 645.4,664.5 643.5,666.6 640.6,667.1 638.7,669.2 636.5,670.8 633.6,669.6 631.3,670.6 628.8,670.8 626.6,672.3 623.9,670.0 620.5,669.2 621.5,666.9 621.0,664.4 621.0,662.0 621.4,659.3 623.6,657.8 626.1,655.5 627.8,652.5 629.4,649.4 632.1,647.1 632.8,644.2 634.3,641.7 631.0,638.5 629.5,636.5 627.5,634.9 625.7,633.2 621.4,633.7 617.1,634.3 613.9,636.4 612.8,640.7 610.7,645.0 608.7,646.8 606.4,648.2 602.1,649.2 599.3,649.5 596.0,649.6 593.2,651.3 590.3,652.6 588.5,650.5 587.2,648.0 585.7,645.2 586.0,641.7 584.2,639.0 582.7,636.8 581.7,634.2 579.4,632.4 578.2,630.0 576.4,627.9 575.8,625.1 575.1,622.4 572.6,620.6 572.0,617.8 572.0,615.2 571.7,612.7 570.9,610.4 570.3,607.9 569.0,605.7 566.7,603.3 566.4,600.0 566.2,597.2 565.4,594.4 563.6,590.7 562.6,587.0 562.6,583.3 565.4,580.5 567.3,576.8 568.2,573.1 571.9,570.3 574.7,569.6 576.6,567.5 580.3,564.7 578.4,561.9 575.6,560.1 571.9,557.3 569.1,553.6 565.4,551.7 560.8,552.6 557.1,549.9 553.4,547.1 548.7,547.1 546.1,545.4 545.0,542.4 542.5,541.3 540.3,539.8 538.4,537.8 538.0,535.2 537.4,532.6 537.1,530.0 537.5,527.5 538.6,525.0 538.4,522.4 538.2,519.5 539.2,517.0 541.0,514.8 542.3,512.3 544.3,510.3 546.1,508.3 548.7,507.0 551.5,507.4 554.0,506.5 556.1,504.2 558.9,504.5 561.5,503.3 564.0,502.0 565.9,500.0 568.0,498.2 570.4,496.8 570.1,494.2 570.7,491.7 570.6,489.2 570.4,486.6 570.4,484.0 570.4,481.4 571.0,478.8 571.7,476.3 570.7,473.7 571.4,471.0 571.6,468.3 570.9,465.7 570.4,463.2 569.4,460.7 570.1,458.1 569.1,455.1 569.3,452.1 569.3,449.0 567.0,446.0 565.0,448.0 561.0,450.0 557.0,451.0 554.8,453.4 553.0,456.0 549.0,455.0 547.4,452.6 545.0,451.0 542.8,448.7 541.0,446.0 537.0,444.0 534.6,442.9 532.0,443.0 529.6,442.2 527.0,442.0 525.0,439.0 524.4,436.0 524.0,433.0 524.2,430.4 525.0,428.0 525.0,425.5 525.0,423.0 522.0,420.0 519.7,418.6 517.0,418.0 513.0,416.0 510.4,415.2 508.0,414.0 506.0,411.0 507.0,408.0 506.0,404.0 506.9,401.6 507.0,399.0 509.0,399.0 512.0,402.0 515.0,404.0 517.5,403.9 520.0,404.0 522.3,402.5 525.0,402.0 527.5,401.1 530.0,400.0 532.0,397.0 533.1,393.8 533.3,390.4 532.4,387.8 533.1,385.3 533.1,382.7 534.1,380.2 533.3,377.6 535.8,375.6 536.5,372.4 538.4,370.0 541.2,369.9 543.7,368.8 546.0,367.3 548.4,365.5 551.2,364.7 550.7,362.1 549.6,359.7 550.0,357.0 550.4,354.4 549.7,351.9 549.9,349.2 548.7,346.8 549.3,344.2 549.1,341.7 549.2,339.2 548.7,336.6 550.1,334.1 551.2,331.5 553.5,329.8 556.4,330.0 558.9,329.0 561.6,328.3 564.2,329.0 566.6,330.2 569.0,331.6 572.0,330.9 574.3,332.7 576.4,335.5 576.8,339.0 578.5,341.3 577.7,344.5 579.4,346.8 581.8,348.2 583.9,349.9 584.6,353.1 587.0,354.5 589.3,352.9 592.4,353.6 594.8,352.0 597.5,351.5 600.1,351.0 602.4,349.4 604.6,347.3 605.0,344.3 606.8,342.7 608.8,341.2 610.0,339.0 611.3,336.6 614.3,336.3 615.9,334.3 617.8,332.7 615.5,330.5 612.7,329.0 611.8,326.4 613.2,323.8 612.7,321.2 612.7,318.3 610.0,316.4 610.0,313.5 607.4,313.5 605.0,312.6 602.4,312.3 600.2,310.4 597.1,310.2 594.8,308.4 592.6,307.2 590.9,305.4 589.6,303.3 589.4,300.7 589.3,298.1 588.3,295.6 588.7,292.4" fill="none" stroke="#98d094" stroke-width="1.05" stroke-linejoin="round"/>
<polygon points="284.3,72.4 285.1,69.2 286.0,66.0 286.3,62.5 287.6,59.3 290.8,56.9 294.0,54.4 296.4,52.4 298.4,50.0 300.6,51.2 303.9,47.9 306.0,46.2 308.7,45.5 311.1,45.0 313.6,44.7 316.5,43.5 318.0,40.7 319.0,38.2 321.0,36.6 323.0,35.0 325.5,34.1 327.2,31.8 330.0,31.4 333.5,31.2 336.8,32.6 337.8,35.2 340.0,37.0 342.3,35.3 342.5,32.2 343.6,29.8 346.5,28.4 347.0,25.6 348.6,23.1 350.8,21.0 354.3,21.7 357.8,22.0 360.6,24.0 363.6,25.6 365.8,23.5 368.2,21.5 369.4,18.6 372.3,17.9 374.3,15.9 376.4,14.0 379.0,13.4 381.0,11.6 383.8,13.4 387.0,14.0 389.8,12.7 392.3,10.7 395.0,9.3 397.5,9.5 399.8,10.3 402.0,11.6 403.3,13.9 405.6,15.1 407.8,16.3 410.6,20.0 411.2,22.9 410.0,25.7 408.4,28.1 409.0,31.2 407.7,33.7 408.8,36.7 410.6,39.4 413.4,38.8 416.3,38.3 419.1,41.7 418.7,44.2 417.4,46.3 415.6,49.0 412.9,50.9 412.3,54.3 413.4,57.7 412.9,60.3 412.9,63.1 412.3,65.7 411.2,67.9 410.6,70.3 408.0,72.3 406.0,74.9 403.7,76.7 402.6,79.4 400.3,82.9 398.5,84.8 398.0,87.4 396.9,92.0 396.9,94.5 397.4,97.0 399.5,99.3 402.6,99.7 405.4,102.4 405.6,105.7 405.8,109.0 403.5,112.7 399.8,115.5 397.5,119.2 397.9,123.9 397.8,126.4 399.3,128.5 398.9,132.2 397.9,136.0 396.1,136.9 393.3,139.7 391.4,136.0 388.6,134.1 386.8,136.9 384.0,136.0 381.9,134.4 379.3,134.1 375.6,134.1 371.9,136.9 369.3,135.5 366.4,135.4 363.1,133.8 360.4,133.8 358.2,132.2 355.0,133.8 351.7,137.0 349.2,138.5 346.8,140.3 343.6,143.6 341.1,144.4 338.7,145.2 336.7,147.5 333.8,148.4 332.2,151.7 331.6,154.2 330.5,156.6 327.3,159.9 324.0,163.1 320.7,161.5 318.5,160.4 315.9,160.3 314.2,158.2 312.4,155.2 312.6,151.7 312.0,148.4 311.0,145.2 308.4,143.7 306.1,141.9 305.3,138.9 302.8,137.0 301.8,134.2 299.6,132.2 301.1,130.0 301.2,127.3 303.4,125.2 304.4,122.4 302.3,120.3 301.2,117.5 302.5,114.4 302.8,111.0 304.8,108.6 307.7,107.7 307.7,104.3 309.3,101.2 307.8,98.5 306.9,95.5 305.1,92.9 304.4,89.8 301.6,90.6 299.0,89.2 296.3,89.0 293.4,86.8 289.8,86.5 288.1,83.5 288.1,80.0 286.3,77.7 286.4,74.5" fill="#feecd9" stroke="#eca94e" stroke-width="1" stroke-linejoin="round"/>
<polygon points="266.2,271.9 269.3,268.8 272.3,267.2 275.6,266.7 278.8,265.1 281.9,263.5 283.6,261.5 286.5,261.3 288.2,259.3 289.9,256.8 292.5,255.2 294.5,253.0 297.3,253.9 300.1,252.8 302.9,253.0 305.8,253.2 308.2,251.9 310.7,250.8 313.3,249.9 315.6,248.7 317.6,247.3 319.6,245.7 322.6,243.9 325.9,242.6 328.7,244.7 332.2,244.7 334.4,245.9 335.8,248.4 338.5,248.9 342.7,251.0 344.8,255.1 343.0,258.0 342.7,261.4 342.2,264.1 340.3,265.9 338.5,267.7 336.4,269.8 334.3,271.9 332.6,274.8 332.2,278.2 332.9,281.0 331.9,283.8 332.2,286.6 330.3,288.9 328.0,290.8 325.0,290.9 322.2,291.3 319.6,292.9 316.9,292.9 314.5,294.6 311.7,293.9 309.2,295.0 307.2,296.7 304.6,297.5 302.9,299.7 300.8,301.2 298.1,302.7 296.6,305.4 294.5,308.6 291.8,306.0 288.2,305.4 286.5,303.4 284.4,302.0 281.9,301.2 281.9,298.3 280.7,295.6 279.8,292.9 277.3,292.1 276.2,289.2 273.5,288.7 271.3,286.7 268.5,285.3 267.2,282.4 266.8,279.8 266.5,277.2 265.8,274.6" fill="#feecd9" stroke="#eca94e" stroke-width="1" stroke-linejoin="round"/>
<polygon points="336.0,239.6 338.2,237.3 338.5,234.2 338.3,231.2 340.4,228.9 340.6,226.0 341.4,223.3 344.6,222.8 346.8,220.4 349.6,219.2 351.9,221.4 355.0,222.0 357.4,220.0 360.9,220.2 363.1,217.9 365.8,216.7 368.3,215.2 371.2,214.5 374.0,213.8 376.7,214.5 379.6,213.7 382.1,215.1 383.7,217.0 385.7,218.6 387.0,220.7 387.6,223.3 388.3,226.0 388.2,228.7 388.1,231.5 387.0,234.2 387.6,236.9 389.1,239.3 389.6,242.2 390.9,244.7 393.0,246.8 391.1,249.6 390.9,253.0 388.9,255.8 388.8,259.3 387.6,262.4 386.7,265.6 384.4,266.9 382.5,268.8 379.0,269.6 376.2,271.9 373.1,272.9 370.0,274.0 369.6,277.4 367.8,280.3 367.8,283.5 367.8,286.6 365.7,290.8 363.1,291.3 360.6,292.5 358.1,293.3 355.3,292.9 353.6,294.8 350.9,295.3 349.0,297.0 347.0,298.7 345.9,301.0 344.8,303.3 340.6,305.4 338.7,307.4 337.2,304.8 336.0,302.0 334.3,299.6 333.6,296.9 334.3,293.8 333.3,291.2 332.2,286.6 332.3,283.8 332.1,281.0 332.2,278.2 332.6,274.8 334.3,271.9 335.8,269.2 338.5,267.7 339.3,265.2 340.6,263.0 342.7,261.4 344.0,258.3 344.8,255.1 342.7,251.0 341.4,247.0 339.3,244.8 337.9,242.0" fill="#feecd9" stroke="#eca94e" stroke-width="1" stroke-linejoin="round"/>
<polygon points="385.5,466.6 387.0,468.5 390.1,467.2 392.4,468.3 394.8,469.0 396.6,471.4 399.4,472.5 402.9,473.6 407.6,473.0 411.1,471.3 414.6,470.1 416.9,467.8 419.2,466.1 421.6,467.8 422.2,470.7 422.7,473.6 424.1,475.7 426.2,477.1 429.7,479.4 433.2,481.8 435.5,484.1 435.9,487.4 438.0,490.0 440.2,493.4 442.5,491.7 444.8,489.9 446.9,491.6 449.5,492.3 451.6,493.9 454.2,494.6 456.1,496.5 458.8,496.9 461.3,497.9 462.3,500.4 463.5,503.9 461.1,507.4 459.9,509.7 457.7,510.9 455.3,514.4 453.2,516.2 453.0,519.0 451.8,522.5 452.0,525.2 453.8,527.4 454.0,530.0 454.7,532.6 457.1,534.5 457.9,537.1 458.9,539.5 460.0,542.0 461.6,544.0 462.9,546.2 463.3,548.8 464.4,551.0 464.9,553.6 466.4,555.9 466.5,558.6 466.7,561.3 468.5,563.5 469.7,567.0 470.6,570.5 469.7,573.4 466.2,575.7 464.7,577.9 462.1,578.6 457.5,579.8 454.3,578.5 451.6,576.3 448.8,575.6 447.0,573.4 443.5,572.6 440.0,572.5 437.0,573.2 434.0,573.5 432.4,571.7 430.6,570.1 430.0,567.5 428.0,566.0 427.7,563.1 426.2,560.5 426.2,557.5 424.7,555.0 421.9,552.7 418.4,549.9 415.6,548.5 414.7,545.8 414.9,543.0 412.8,539.4 410.2,539.3 407.8,537.5 405.1,538.0 403.5,535.5 403.0,532.5 402.3,529.0 401.9,526.4 403.0,524.1 400.8,522.6 400.3,519.9 401.8,517.0 405.3,516.7 408.8,514.4 412.3,513.2 414.6,509.7 412.3,506.2 409.9,502.7 406.4,501.6 402.9,502.7 398.3,503.9 395.8,504.7 393.6,506.2 390.1,503.9 388.9,501.1 386.6,499.2 384.3,497.9 383.5,495.4 382.0,493.4 381.2,489.9 380.8,486.4 381.0,483.4 382.0,480.6 382.0,477.6 383.1,474.8 383.7,472.0 383.9,469.1" fill="#feecd9" stroke="#eca94e" stroke-width="1" stroke-linejoin="round"/>
<polygon points="648.5,448.2 651.5,447.7 653.6,445.6 656.6,446.2 658.8,448.2 661.3,449.2 663.9,449.8 666.5,450.7 666.0,453.3 667.8,455.5 668.0,458.0 667.4,461.5 666.5,464.9 667.6,467.1 669.0,469.1 673.2,471.2 675.5,469.9 678.0,469.1 680.9,468.9 683.0,467.0 685.2,468.5 687.8,468.4 690.5,469.2 693.4,469.1 696.2,471.9 697.7,474.2 697.2,476.8 696.6,479.6 694.6,481.4 694.4,484.2 693.4,486.5 695.5,489.3 698.3,492.8 699.3,495.7 700.6,498.4 700.5,501.2 700.6,504.0 700.6,506.8 700.7,509.5 702.9,511.2 703.4,513.7 703.7,516.6 701.4,519.1 702.0,522.1 700.2,523.9 697.8,524.9 695.2,526.4 692.2,527.0 688.0,529.1 686.7,531.3 685.2,533.3 683.8,537.5 682.4,541.0 679.5,541.2 677.3,543.3 675.0,545.0 672.0,545.0 669.6,545.5 667.2,545.6 664.8,546.1 662.4,544.1 660.0,545.0 657.2,544.5 654.4,545.8 651.7,545.6 648.9,543.9 646.1,545.0 643.3,543.1 645.1,541.2 646.1,538.9 646.8,534.7 648.9,530.5 650.9,529.0 653.1,527.7 655.3,526.1 657.3,524.2 654.5,521.4 652.0,519.7 648.9,520.0 645.5,520.9 641.9,520.7 639.1,520.8 636.3,521.4 633.6,522.8 630.7,522.1 628.9,520.0 627.2,517.9 625.9,515.3 625.5,512.5 625.1,509.6 625.2,506.1 625.8,502.6 624.0,500.6 622.4,498.4 623.0,494.3 626.0,493.2 627.9,490.5 630.6,489.0 632.3,486.8 635.5,487.1 637.8,486.1 639.6,484.0 641.5,481.8 641.7,478.7 643.4,476.3 642.8,473.8 643.3,471.1 641.5,468.7 642.1,466.0 641.5,463.4 642.8,461.0 642.5,458.4 643.4,456.0 645.0,453.4 646.2,450.4" fill="#feecd9" stroke="#eca94e" stroke-width="1" stroke-linejoin="round"/>
<polygon points="562.6,583.3 565.4,580.5 567.3,576.8 568.2,573.1 571.9,570.3 573.8,568.1 576.6,567.5 580.3,564.7 581.3,561.9 580.3,559.1 582.1,557.3 585.9,556.4 588.6,557.3 591.4,557.3 595.1,555.4 597.9,552.6 600.7,550.8 604.1,549.9 607.6,550.6 611.2,551.5 612.6,555.7 615.4,558.5 618.2,559.0 621.0,558.5 623.9,558.5 626.5,557.1 628.9,556.2 630.7,554.3 632.5,551.9 634.9,550.1 636.8,547.8 639.1,545.9 641.5,544.9 643.3,543.1 646.1,545.0 648.8,546.0 651.4,545.0 651.0,547.5 651.3,550.0 651.6,552.4 651.6,554.9 650.9,557.4 651.6,559.9 651.3,562.4 651.1,564.8 651.1,567.3 652.4,569.8 652.0,572.3 650.9,574.8 651.2,577.2 650.7,579.7 652.4,582.2 652.0,584.7 651.4,587.2 650.9,589.6 652.1,592.1 651.4,594.6 654.0,595.2 656.7,594.6 656.6,597.3 656.2,600.0 653.5,602.1 649.3,600.5 645.0,601.1 640.7,602.1 638.7,603.6 636.4,604.3 634.3,606.4 635.3,610.7 635.4,613.6 636.9,616.0 636.4,619.1 634.3,621.4 631.8,623.6 631.0,626.8 629.5,628.9 627.7,630.5 625.7,632.1 621.4,633.7 617.1,634.3 613.9,636.4 612.8,640.7 610.7,645.0 608.9,647.1 606.4,648.2 602.1,649.2 599.3,649.5 596.3,650.6 593.1,650.9 590.3,652.6 588.2,650.6 587.2,648.0 586.3,645.0 585.1,642.0 584.2,639.0 582.3,637.0 580.5,635.0 580.1,632.0 578.2,630.0 576.8,627.6 575.7,625.2 574.7,622.6 572.5,620.6 572.0,617.8 572.1,615.2 571.6,612.8 569.7,610.7 570.3,608.0 569.0,605.7 568.1,602.7 566.4,600.0 565.5,597.3 565.4,594.4 563.6,590.7 562.6,587.0" fill="#feecd9" stroke="#eca94e" stroke-width="1" stroke-linejoin="round"/>
<polygon points="570.5,203.0 572.0,199.0 575.6,197.7 578.1,196.1 582.2,196.1 585.4,196.9 587.0,194.4 590.3,194.4 593.6,195.3 596.8,194.4 600.0,195.3 603.0,194.5 606.0,196.0 607.0,200.0 606.0,204.0 607.5,208.0 606.0,212.0 603.0,214.0 600.0,212.0 598.5,212.4 595.2,211.6 591.9,213.2 588.7,214.0 587.0,210.7 583.8,209.9 580.5,211.6 577.3,212.4 574.0,210.7 571.6,208.3 572.1,205.4" fill="#feecd9" stroke="#eca94e" stroke-width="1" stroke-linejoin="round"/>
<polyline points="340.0,37.0 340.8,39.5 340.3,41.9 338.9,44.2 339.2,46.6 339.4,49.1 337.2,51.1 337.9,53.7 336.8,55.9 337.1,59.3 335.4,62.1 334.5,65.2 334.8,68.4 334.8,71.5 333.3,74.5 334.9,76.6 335.7,79.1 336.8,81.5 338.1,84.9 338.0,88.5 336.8,91.5 337.6,94.8 336.8,97.8 335.2,101.0 334.5,104.4" fill="none" stroke="#eca94e" stroke-width="1.0" stroke-linejoin="round"/>
<polyline points="333.8,104.4 336.4,103.9 338.8,104.8 341.3,104.5 343.6,106.0 346.0,107.3 347.5,109.8 350.0,111.0 351.9,113.5 354.4,115.3 356.6,117.5 356.9,120.1 358.2,122.4 357.5,124.9 356.6,127.3 355.0,129.5 355.0,132.2" fill="none" stroke="#eca94e" stroke-width="1.0" stroke-linejoin="round"/>
<polyline points="341.4,247.0 344.1,248.5 347.0,249.3 350.0,250.0 352.5,250.3 355.1,250.3 357.4,251.9 360.0,252.0 362.1,254.0 365.1,253.9 367.2,255.7 370.0,256.0 372.5,257.3 373.3,260.0 375.0,262.0 376.0,264.4 375.6,266.9 375.7,269.5 376.2,271.9" fill="none" stroke="#eca94e" stroke-width="1.0" stroke-linejoin="round"/>
<polyline points="643.3,543.1 646.1,545.4 647.5,548.7 647.5,551.2 648.7,553.4 649.6,555.7 649.9,559.2 648.9,562.6 647.8,565.0 647.8,567.5 647.5,570.0 647.0,572.6 648.0,575.0" fill="none" stroke="#eca94e" stroke-width="1.0" stroke-linejoin="round"/>
<polyline points="651.4,583.0 648.2,583.7 645.0,584.0 641.9,585.4 638.5,585.0 638.0,589.3 636.5,591.9 635.3,594.6 633.8,597.8 631.0,600.0 628.9,602.2 626.8,604.3 625.7,605.3 630.0,606.4 632.1,609.6" fill="none" stroke="#eca94e" stroke-width="1.0" stroke-linejoin="round"/>
<circle cx="321.8" cy="126.2" r="4.6" fill="#fff" stroke="#72bc72" stroke-width="3.4"/>
<circle cx="377.9" cy="68.9" r="4.6" fill="#fff" stroke="#72bc72" stroke-width="3.4"/>
<circle cx="307.1" cy="264.4" r="4.6" fill="#fff" stroke="#72bc72" stroke-width="3.4"/>
<circle cx="360" cy="275.4" r="4.6" fill="#fff" stroke="#72bc72" stroke-width="3.4"/>
<circle cx="579.7" cy="203.8" r="4.6" fill="#fff" stroke="#72bc72" stroke-width="3.4"/>
<circle cx="428.2" cy="537.4" r="4.6" fill="#fff" stroke="#72bc72" stroke-width="3.4"/>
<circle cx="457.5" cy="567" r="4.6" fill="#fff" stroke="#72bc72" stroke-width="3.4"/>
<circle cx="664.1" cy="486.5" r="4.6" fill="#fff" stroke="#72bc72" stroke-width="3.4"/>
<circle cx="610" cy="584" r="4.6" fill="#fff" stroke="#72bc72" stroke-width="3.4"/>
<path d="M322.6,125.9 L322.7,125.5 L322.8,125.1 L323.0,124.8 L323.1,124.4 L323.3,124.0 L323.4,123.6 L323.5,123.3 L323.7,122.9 L323.8,122.5 L324.0,122.1 L324.1,121.8 L324.3,121.4 L324.5,121.0 L324.6,120.6 L324.8,120.2 L324.9,119.8 L325.1,119.5 L325.3,119.1 L325.4,118.7 L325.6,118.3 L325.8,117.9 L326.0,117.5 L326.1,117.1 L326.3,116.7 L326.5,116.3 L326.7,115.9 L326.9,115.5 L327.1,115.1 L327.3,114.8 L327.5,114.4 L327.7,114.0 L327.9,113.6 L328.1,113.2 L328.3,112.8 L328.5,112.4 L328.7,112.0 L328.9,111.6 L329.1,111.2 L329.3,110.8 L329.5,110.4 L329.7,110.0 L329.9,109.6 L330.2,109.2 L330.4,108.8 L330.6,108.4 L330.8,108.0 L331.1,107.6 L331.3,107.2 L331.5,106.8 L331.8,106.4 L332.0,106.0 L332.2,105.6 L332.5,105.2 L332.7,104.8 L333.0,104.4 L333.2,104.0 L333.4,103.6 L333.7,103.2 L333.9,102.8 L334.2,102.5 L334.4,102.1 L334.7,101.7 L335.0,101.3 L335.2,100.9 L335.5,100.5 L335.7,100.1 L336.0,99.7 L336.3,99.4 L336.5,99.0 L336.8,98.6 L337.1,98.2 L337.3,97.8 L337.6,97.5 L337.9,97.1 L338.2,96.7 L338.5,96.3 L338.7,96.0 L339.0,95.6 L339.3,95.2 L339.6,94.9 L339.9,94.5 L340.2,94.1 L340.4,93.8 L340.7,93.4 L341.0,93.1 L341.3,92.7 L341.6,92.4 L341.9,92.0 L342.2,91.7 L342.5,91.3 L342.8,91.0 L343.1,90.6 L343.4,90.3 L343.7,89.9 L344.0,89.6 L344.4,89.3 L344.7,88.9 L345.0,88.6 L345.3,88.3 L345.6,88.0 L345.9,87.6 L346.2,87.3 L346.6,87.0 L346.9,86.7 L347.2,86.4 L347.5,86.1 L347.8,85.8 L348.2,85.5 L348.5,85.2 L348.8,84.9 L349.2,84.6 L349.5,84.3 L349.8,84.0 L350.2,83.7 L350.5,83.4 L350.8,83.1 L351.2,82.9 L351.5,82.6 L351.8,82.3 L352.2,82.1 L352.5,81.8 L352.9,81.5 L353.2,81.3 L353.5,81.0 L353.9,80.8 L354.2,80.6 L354.6,80.3 L354.9,80.1 L355.3,79.8 L355.6,79.6 L356.0,79.4 L356.3,79.2 L356.7,78.9 L357.0,78.7 L357.4,78.5 L357.7,78.3 L358.1,78.1 L358.5,77.9 L358.8,77.7 L359.2,77.5 L359.5,77.4 L359.9,77.2 L360.3,77.0 L360.6,76.8 L361.0,76.7 L361.3,76.5 L361.7,76.3 L362.1,76.2 L362.4,76.0 L362.8,75.9 L363.2,75.7 L363.5,75.6 L363.9,75.5 L364.3,75.3 L364.6,75.2 L365.0,75.1 L365.4,75.0 L365.8,74.9 L366.1,74.8 L367.6,78.6 L376.3,68.9 L363.4,66.8 L364.9,70.6 L364.5,70.8 L364.0,70.9 L363.6,71.1 L363.2,71.2 L362.8,71.4 L362.4,71.6 L362.0,71.7 L361.6,71.9 L361.2,72.1 L360.8,72.3 L360.4,72.4 L360.0,72.6 L359.6,72.8 L359.2,73.0 L358.8,73.2 L358.4,73.4 L358.0,73.7 L357.7,73.9 L357.3,74.1 L356.9,74.3 L356.5,74.6 L356.1,74.8 L355.7,75.0 L355.4,75.3 L355.0,75.5 L354.6,75.8 L354.3,76.0 L353.9,76.3 L353.5,76.5 L353.2,76.8 L352.8,77.1 L352.4,77.3 L352.1,77.6 L351.7,77.9 L351.4,78.2 L351.0,78.5 L350.6,78.7 L350.3,79.0 L349.9,79.3 L349.6,79.6 L349.3,79.9 L348.9,80.2 L348.6,80.5 L348.2,80.9 L347.9,81.2 L347.6,81.5 L347.2,81.8 L346.9,82.1 L346.6,82.5 L346.2,82.8 L345.9,83.1 L345.6,83.4 L345.2,83.8 L344.9,84.1 L344.6,84.5 L344.3,84.8 L344.0,85.1 L343.7,85.5 L343.3,85.8 L343.0,86.2 L342.7,86.5 L342.4,86.9 L342.1,87.3 L341.8,87.6 L341.5,88.0 L341.2,88.4 L340.9,88.7 L340.6,89.1 L340.3,89.5 L340.0,89.8 L339.7,90.2 L339.4,90.6 L339.1,91.0 L338.9,91.3 L338.6,91.7 L338.3,92.1 L338.0,92.5 L337.7,92.9 L337.4,93.3 L337.2,93.7 L336.9,94.1 L336.6,94.4 L336.4,94.8 L336.1,95.2 L335.8,95.6 L335.6,96.0 L335.3,96.4 L335.0,96.8 L334.8,97.2 L334.5,97.6 L334.3,98.0 L334.0,98.4 L333.8,98.8 L333.5,99.2 L333.3,99.7 L333.0,100.1 L332.8,100.5 L332.5,100.9 L332.3,101.3 L332.1,101.7 L331.8,102.1 L331.6,102.5 L331.4,102.9 L331.1,103.3 L330.9,103.8 L330.7,104.2 L330.4,104.6 L330.2,105.0 L330.0,105.4 L329.8,105.8 L329.6,106.2 L329.4,106.7 L329.1,107.1 L328.9,107.5 L328.7,107.9 L328.5,108.3 L328.3,108.7 L328.1,109.1 L327.9,109.6 L327.7,110.0 L327.5,110.4 L327.3,110.8 L327.1,111.2 L326.9,111.6 L326.8,112.0 L326.6,112.5 L326.4,112.9 L326.2,113.3 L326.0,113.7 L325.8,114.1 L325.7,114.5 L325.5,114.9 L325.3,115.3 L325.2,115.7 L325.0,116.1 L324.8,116.5 L324.7,117.0 L324.5,117.4 L324.3,117.8 L324.2,118.2 L324.0,118.6 L323.9,119.0 L323.7,119.4 L323.6,119.8 L323.4,120.2 L323.3,120.5 L323.1,120.9 L323.0,121.3 L322.9,121.7 L322.7,122.1 L322.6,122.5 L322.5,122.9 L322.3,123.3 L322.2,123.7 L322.1,124.0 L322.0,124.4 L321.9,124.8 L321.7,125.2 L321.6,125.5Z" fill="#1b7b65" stroke="#ffffff" stroke-opacity="0.75" stroke-width="1.0" paint-order="stroke" stroke-linejoin="round"/>
<path d="M322.3,126.7 L323.9,126.7 L325.5,126.7 L327.1,126.7 L328.8,126.7 L330.4,126.8 L332.0,126.8 L333.6,126.8 L335.2,126.9 L336.8,126.9 L338.5,127.0 L340.1,127.0 L341.7,127.1 L343.3,127.1 L345.0,127.2 L346.6,127.3 L348.2,127.3 L349.9,127.4 L351.5,127.5 L353.1,127.6 L354.8,127.7 L356.4,127.8 L358.0,127.9 L359.7,128.0 L361.3,128.1 L363.0,128.2 L364.6,128.4 L366.2,128.5 L367.9,128.6 L369.5,128.8 L371.2,128.9 L372.8,129.1 L374.4,129.2 L376.1,129.4 L377.7,129.6 L379.4,129.7 L381.0,129.9 L382.6,130.1 L384.3,130.3 L385.9,130.5 L387.6,130.7 L389.2,130.9 L390.9,131.1 L392.5,131.3 L394.1,131.5 L395.8,131.8 L397.4,132.0 L399.1,132.2 L400.7,132.5 L402.3,132.7 L404.0,133.0 L405.6,133.2 L407.2,133.5 L408.9,133.8 L410.5,134.1 L412.2,134.3 L413.8,134.6 L415.4,134.9 L417.0,135.2 L418.7,135.5 L420.3,135.9 L421.9,136.2 L423.6,136.5 L425.2,136.8 L426.8,137.2 L428.4,137.5 L430.1,137.9 L431.7,138.2 L433.3,138.6 L434.9,138.9 L436.5,139.3 L438.1,139.7 L439.8,140.1 L441.4,140.5 L443.0,140.9 L444.6,141.3 L446.2,141.7 L447.8,142.1 L449.4,142.5 L451.0,142.9 L452.6,143.4 L454.2,143.8 L455.8,144.3 L457.4,144.7 L459.0,145.2 L460.5,145.6 L462.1,146.1 L463.7,146.6 L465.3,147.1 L466.9,147.6 L468.4,148.1 L470.0,148.6 L471.6,149.1 L473.1,149.6 L474.7,150.1 L476.3,150.7 L477.8,151.2 L479.4,151.8 L480.9,152.3 L482.5,152.9 L484.0,153.4 L485.6,154.0 L487.1,154.6 L488.6,155.2 L490.2,155.8 L491.7,156.4 L493.2,157.0 L494.7,157.6 L496.3,158.2 L497.8,158.8 L499.3,159.5 L500.8,160.1 L502.3,160.7 L503.8,161.4 L505.3,162.1 L506.8,162.7 L508.3,163.4 L509.8,164.1 L511.2,164.8 L512.7,165.5 L514.2,166.2 L515.7,166.9 L517.1,167.6 L518.6,168.3 L520.0,169.1 L521.5,169.8 L522.9,170.6 L524.4,171.3 L525.8,172.1 L527.2,172.8 L528.7,173.6 L530.1,174.4 L531.5,175.2 L532.9,176.0 L534.3,176.8 L535.8,177.6 L537.2,178.4 L538.6,179.3 L539.9,180.1 L541.3,180.9 L542.7,181.8 L544.1,182.6 L545.5,183.5 L546.8,184.4 L548.2,185.3 L549.5,186.1 L550.9,187.0 L552.2,187.9 L553.6,188.9 L554.9,189.8 L556.2,190.7 L557.6,191.6 L558.9,192.6 L560.2,193.5 L561.5,194.5 L562.8,195.5 L564.1,196.4 L565.4,197.4 L566.7,198.4 L567.9,199.4 L566.1,203.1 L580.1,203.4 L573.3,191.1 L571.5,194.8 L570.1,193.8 L568.8,192.8 L567.5,191.8 L566.1,190.9 L564.8,189.9 L563.5,189.0 L562.1,188.0 L560.7,187.1 L559.4,186.1 L558.0,185.2 L556.6,184.3 L555.2,183.4 L553.9,182.5 L552.5,181.6 L551.1,180.7 L549.7,179.9 L548.3,179.0 L546.8,178.2 L545.4,177.3 L544.0,176.5 L542.6,175.6 L541.1,174.8 L539.7,174.0 L538.3,173.2 L536.8,172.4 L535.4,171.6 L533.9,170.8 L532.5,170.0 L531.0,169.3 L529.5,168.5 L528.1,167.7 L526.6,167.0 L525.1,166.3 L523.6,165.5 L522.1,164.8 L520.6,164.1 L519.2,163.4 L517.7,162.7 L516.2,162.0 L514.6,161.3 L513.1,160.6 L511.6,160.0 L510.1,159.3 L508.6,158.6 L507.1,158.0 L505.5,157.3 L504.0,156.7 L502.5,156.1 L500.9,155.5 L499.4,154.8 L497.8,154.2 L496.3,153.6 L494.7,153.0 L493.2,152.5 L491.6,151.9 L490.1,151.3 L488.5,150.7 L486.9,150.2 L485.4,149.6 L483.8,149.1 L482.2,148.6 L480.6,148.0 L479.1,147.5 L477.5,147.0 L475.9,146.5 L474.3,146.0 L472.7,145.5 L471.1,145.0 L469.5,144.5 L467.9,144.0 L466.3,143.6 L464.7,143.1 L463.1,142.7 L461.5,142.2 L459.9,141.8 L458.3,141.3 L456.7,140.9 L455.1,140.5 L453.5,140.1 L451.8,139.7 L450.2,139.3 L448.6,138.9 L447.0,138.5 L445.4,138.1 L443.7,137.7 L442.1,137.3 L440.5,137.0 L438.8,136.6 L437.2,136.3 L435.6,135.9 L433.9,135.6 L432.3,135.3 L430.7,134.9 L429.0,134.6 L427.4,134.3 L425.7,134.0 L424.1,133.7 L422.5,133.4 L420.8,133.1 L419.2,132.8 L417.5,132.5 L415.9,132.3 L414.2,132.0 L412.6,131.7 L410.9,131.5 L409.3,131.2 L407.6,131.0 L406.0,130.7 L404.3,130.5 L402.7,130.3 L401.0,130.1 L399.4,129.8 L397.7,129.6 L396.1,129.4 L394.4,129.2 L392.8,129.0 L391.1,128.8 L389.5,128.7 L387.8,128.5 L386.2,128.3 L384.5,128.2 L382.9,128.0 L381.2,127.8 L379.6,127.7 L377.9,127.5 L376.3,127.4 L374.6,127.3 L373.0,127.2 L371.3,127.0 L369.7,126.9 L368.0,126.8 L366.4,126.7 L364.7,126.6 L363.1,126.5 L361.4,126.4 L359.8,126.3 L358.1,126.2 L356.5,126.2 L354.9,126.1 L353.2,126.0 L351.6,126.0 L349.9,125.9 L348.3,125.9 L346.7,125.8 L345.0,125.8 L343.4,125.7 L341.8,125.7 L340.1,125.7 L338.5,125.7 L336.9,125.6 L335.2,125.6 L333.6,125.6 L332.0,125.6 L330.4,125.6 L328.8,125.6 L327.1,125.6 L325.5,125.7 L323.9,125.7 L322.3,125.7Z" fill="#1b7b65" stroke="#ffffff" stroke-opacity="0.75" stroke-width="1.0" paint-order="stroke" stroke-linejoin="round"/>
<path d="M321.9,126.1 L321.5,126.7 L321.2,127.2 L320.8,127.8 L320.5,128.3 L320.1,128.9 L319.8,129.5 L319.4,130.1 L319.1,130.7 L318.8,131.3 L318.4,131.9 L318.1,132.5 L317.8,133.2 L317.5,133.8 L317.2,134.4 L316.9,135.1 L316.6,135.7 L316.3,136.4 L316.0,137.1 L315.7,137.7 L315.4,138.4 L315.1,139.1 L314.8,139.8 L314.5,140.5 L314.3,141.2 L314.0,141.9 L313.7,142.7 L313.5,143.4 L313.2,144.1 L312.9,144.8 L312.7,145.6 L312.4,146.3 L312.2,147.1 L311.9,147.8 L311.7,148.6 L311.5,149.4 L311.2,150.2 L311.0,150.9 L310.8,151.7 L310.6,152.5 L310.3,153.3 L310.1,154.1 L309.9,154.9 L309.7,155.7 L309.5,156.5 L309.3,157.3 L309.1,158.1 L308.9,159.0 L308.7,159.8 L308.5,160.6 L308.3,161.5 L308.1,162.3 L307.9,163.1 L307.8,164.0 L307.6,164.8 L307.4,165.7 L307.3,166.5 L307.1,167.4 L306.9,168.2 L306.8,169.1 L306.6,170.0 L306.4,170.8 L306.3,171.7 L306.1,172.6 L306.0,173.5 L305.9,174.3 L305.7,175.2 L305.6,176.1 L305.4,177.0 L305.3,177.9 L305.2,178.7 L305.1,179.6 L304.9,180.5 L304.8,181.4 L304.7,182.3 L304.6,183.2 L304.5,184.1 L304.3,185.0 L304.2,185.9 L304.1,186.8 L304.0,187.7 L303.9,188.6 L303.8,189.5 L303.7,190.4 L303.6,191.3 L303.6,192.2 L303.5,193.1 L303.4,194.0 L303.3,194.9 L303.2,195.8 L303.1,196.7 L303.1,197.6 L303.0,198.4 L302.9,199.3 L302.9,200.2 L302.8,201.1 L302.7,202.0 L302.7,202.9 L302.6,203.8 L302.5,204.7 L302.5,205.6 L302.4,206.5 L302.4,207.4 L302.3,208.3 L302.3,209.2 L302.2,210.0 L302.2,210.9 L302.2,211.8 L302.1,212.7 L302.1,213.6 L302.1,214.4 L302.0,215.3 L302.0,216.2 L302.0,217.0 L301.9,217.9 L301.9,218.8 L301.9,219.6 L301.9,220.5 L301.9,221.3 L301.9,222.2 L301.8,223.0 L301.8,223.9 L301.8,224.7 L301.8,225.5 L301.8,226.4 L301.8,227.2 L301.8,228.0 L301.8,228.8 L301.8,229.7 L301.8,230.5 L301.8,231.3 L301.8,232.1 L301.8,232.9 L301.8,233.7 L301.8,234.5 L301.9,235.3 L301.9,236.0 L301.9,236.8 L301.9,237.6 L301.9,238.4 L301.9,239.1 L302.0,239.9 L302.0,240.6 L302.0,241.4 L302.0,242.1 L302.1,242.9 L302.1,243.6 L302.1,244.3 L302.2,245.0 L302.2,245.7 L302.2,246.5 L302.3,247.2 L302.3,247.9 L302.3,248.5 L302.4,249.2 L302.4,249.9 L302.5,250.6 L302.5,251.2 L302.6,251.9 L302.6,252.5 L298.2,252.9 L306.2,263.5 L312.2,251.7 L307.8,252.1 L307.7,251.4 L307.7,250.8 L307.6,250.1 L307.5,249.5 L307.5,248.8 L307.4,248.2 L307.3,247.5 L307.3,246.8 L307.2,246.1 L307.2,245.4 L307.1,244.7 L307.1,244.0 L307.0,243.3 L306.9,242.6 L306.9,241.9 L306.8,241.1 L306.8,240.4 L306.7,239.7 L306.7,238.9 L306.7,238.2 L306.6,237.4 L306.6,236.6 L306.5,235.9 L306.5,235.1 L306.5,234.3 L306.4,233.5 L306.4,232.8 L306.3,232.0 L306.3,231.2 L306.3,230.4 L306.3,229.6 L306.2,228.8 L306.2,228.0 L306.2,227.1 L306.2,226.3 L306.1,225.5 L306.1,224.7 L306.1,223.8 L306.1,223.0 L306.1,222.2 L306.1,221.3 L306.0,220.5 L306.0,219.6 L306.0,218.8 L306.0,217.9 L306.0,217.1 L306.0,216.2 L306.0,215.4 L306.0,214.5 L306.0,213.6 L306.0,212.8 L306.0,211.9 L306.1,211.0 L306.1,210.2 L306.1,209.3 L306.1,208.4 L306.1,207.5 L306.1,206.6 L306.2,205.8 L306.2,204.9 L306.2,204.0 L306.2,203.1 L306.3,202.2 L306.3,201.3 L306.4,200.4 L306.4,199.6 L306.4,198.7 L306.5,197.8 L306.5,196.9 L306.6,196.0 L306.6,195.1 L306.7,194.2 L306.7,193.3 L306.8,192.4 L306.8,191.5 L306.9,190.6 L307.0,189.7 L307.0,188.9 L307.1,188.0 L307.2,187.1 L307.3,186.2 L307.3,185.3 L307.4,184.4 L307.5,183.5 L307.6,182.6 L307.7,181.7 L307.8,180.9 L307.9,180.0 L308.0,179.1 L308.1,178.2 L308.2,177.3 L308.3,176.5 L308.4,175.6 L308.5,174.7 L308.6,173.8 L308.7,173.0 L308.8,172.1 L309.0,171.2 L309.1,170.4 L309.2,169.5 L309.3,168.7 L309.5,167.8 L309.6,167.0 L309.8,166.1 L309.9,165.3 L310.0,164.4 L310.2,163.6 L310.3,162.7 L310.5,161.9 L310.7,161.1 L310.8,160.3 L311.0,159.4 L311.2,158.6 L311.3,157.8 L311.5,157.0 L311.7,156.2 L311.9,155.4 L312.0,154.6 L312.2,153.8 L312.4,153.0 L312.6,152.2 L312.8,151.4 L313.0,150.7 L313.2,149.9 L313.4,149.1 L313.6,148.4 L313.9,147.6 L314.1,146.9 L314.3,146.1 L314.5,145.4 L314.8,144.6 L315.0,143.9 L315.2,143.2 L315.5,142.5 L315.7,141.7 L316.0,141.0 L316.2,140.3 L316.5,139.7 L316.7,139.0 L317.0,138.3 L317.3,137.6 L317.5,136.9 L317.8,136.3 L318.1,135.6 L318.4,135.0 L318.6,134.3 L318.9,133.7 L319.2,133.1 L319.5,132.5 L319.8,131.8 L320.1,131.2 L320.4,130.6 L320.8,130.0 L321.1,129.5 L321.4,128.9 L321.7,128.3 L322.0,127.8 L322.4,127.2 L322.7,126.7Z" fill="#1b7b65" stroke="#ffffff" stroke-opacity="0.75" stroke-width="1.0" paint-order="stroke" stroke-linejoin="round"/>
<path d="M321.9,126.7 L322.4,127.5 L322.9,128.4 L323.4,129.3 L323.8,130.2 L324.3,131.1 L324.8,131.9 L325.3,132.8 L325.8,133.7 L326.2,134.6 L326.7,135.4 L327.1,136.3 L327.6,137.2 L328.1,138.0 L328.5,138.9 L328.9,139.7 L329.4,140.6 L329.8,141.4 L330.3,142.3 L330.7,143.1 L331.1,144.0 L331.5,144.8 L331.9,145.7 L332.4,146.5 L332.8,147.4 L333.2,148.2 L333.6,149.0 L334.0,149.9 L334.4,150.7 L334.8,151.6 L335.1,152.4 L335.5,153.2 L335.9,154.1 L336.3,154.9 L336.7,155.7 L337.0,156.5 L337.4,157.4 L337.7,158.2 L338.1,159.0 L338.5,159.8 L338.8,160.7 L339.1,161.5 L339.5,162.3 L339.8,163.1 L340.2,163.9 L340.5,164.8 L340.8,165.6 L341.1,166.4 L341.5,167.2 L341.8,168.0 L342.1,168.8 L342.4,169.6 L342.7,170.5 L343.0,171.3 L343.3,172.1 L343.6,172.9 L343.9,173.7 L344.2,174.5 L344.5,175.3 L344.8,176.2 L345.0,177.0 L345.3,177.8 L345.6,178.6 L345.9,179.4 L346.1,180.2 L346.4,181.0 L346.6,181.8 L346.9,182.6 L347.2,183.5 L347.4,184.3 L347.7,185.1 L347.9,185.9 L348.1,186.7 L348.4,187.5 L348.6,188.3 L348.8,189.2 L349.1,190.0 L349.3,190.8 L349.5,191.6 L349.7,192.4 L349.9,193.2 L350.1,194.1 L350.4,194.9 L350.6,195.7 L350.8,196.5 L351.0,197.3 L351.2,198.2 L351.4,199.0 L351.5,199.8 L351.7,200.6 L351.9,201.5 L352.1,202.3 L352.3,203.1 L352.4,203.9 L352.6,204.8 L352.8,205.6 L353.0,206.4 L353.1,207.3 L353.3,208.1 L353.4,209.0 L353.6,209.8 L353.7,210.6 L353.9,211.5 L354.0,212.3 L354.2,213.2 L354.3,214.0 L354.5,214.9 L354.6,215.7 L354.7,216.6 L354.9,217.4 L355.0,218.3 L355.1,219.2 L355.2,220.0 L355.3,220.9 L355.5,221.7 L355.6,222.6 L355.7,223.5 L355.8,224.4 L355.9,225.2 L356.0,226.1 L356.1,227.0 L356.2,227.9 L356.3,228.7 L356.4,229.6 L356.5,230.5 L356.6,231.4 L356.6,232.3 L356.7,233.2 L356.8,234.1 L356.9,235.0 L357.0,235.9 L357.0,236.8 L357.1,237.7 L357.2,238.6 L357.2,239.6 L357.3,240.5 L357.4,241.4 L357.4,242.3 L357.5,243.3 L357.5,244.2 L357.6,245.1 L357.6,246.1 L357.7,247.0 L357.7,248.0 L357.8,248.9 L357.8,249.9 L357.8,250.8 L357.9,251.8 L357.9,252.7 L357.9,253.7 L358.0,254.7 L358.0,255.6 L358.0,256.6 L358.0,257.6 L358.0,258.6 L358.1,259.6 L358.1,260.6 L358.1,261.6 L358.1,262.6 L358.1,263.6 L353.4,262.8 L359.7,274.0 L368.0,264.2 L363.3,263.4 L363.3,262.4 L363.2,261.4 L363.2,260.4 L363.1,259.4 L363.1,258.4 L363.0,257.4 L363.0,256.4 L362.9,255.4 L362.9,254.5 L362.8,253.5 L362.8,252.5 L362.7,251.5 L362.6,250.6 L362.6,249.6 L362.5,248.6 L362.4,247.7 L362.4,246.7 L362.3,245.8 L362.2,244.8 L362.1,243.9 L362.1,242.9 L362.0,242.0 L361.9,241.1 L361.8,240.1 L361.7,239.2 L361.6,238.3 L361.5,237.3 L361.4,236.4 L361.3,235.5 L361.2,234.6 L361.1,233.7 L361.0,232.8 L360.9,231.9 L360.8,230.9 L360.7,230.0 L360.6,229.1 L360.4,228.2 L360.3,227.4 L360.2,226.5 L360.1,225.6 L359.9,224.7 L359.8,223.8 L359.7,222.9 L359.5,222.0 L359.4,221.2 L359.2,220.3 L359.1,219.4 L359.0,218.5 L358.8,217.7 L358.6,216.8 L358.5,215.9 L358.3,215.1 L358.2,214.2 L358.0,213.4 L357.8,212.5 L357.7,211.7 L357.5,210.8 L357.3,209.9 L357.1,209.1 L357.0,208.2 L356.8,207.4 L356.6,206.6 L356.4,205.7 L356.2,204.9 L356.0,204.0 L355.8,203.2 L355.6,202.4 L355.4,201.5 L355.2,200.7 L355.0,199.9 L354.8,199.0 L354.5,198.2 L354.3,197.4 L354.1,196.5 L353.9,195.7 L353.6,194.9 L353.4,194.1 L353.2,193.2 L352.9,192.4 L352.7,191.6 L352.5,190.8 L352.2,189.9 L352.0,189.1 L351.7,188.3 L351.4,187.5 L351.2,186.7 L350.9,185.8 L350.7,185.0 L350.4,184.2 L350.1,183.4 L349.8,182.6 L349.6,181.8 L349.3,181.0 L349.0,180.1 L348.7,179.3 L348.4,178.5 L348.1,177.7 L347.8,176.9 L347.5,176.1 L347.2,175.3 L346.9,174.5 L346.6,173.6 L346.3,172.8 L345.9,172.0 L345.6,171.2 L345.3,170.4 L345.0,169.6 L344.6,168.8 L344.3,168.0 L344.0,167.1 L343.6,166.3 L343.3,165.5 L342.9,164.7 L342.6,163.9 L342.2,163.1 L341.8,162.3 L341.5,161.4 L341.1,160.6 L340.7,159.8 L340.4,159.0 L340.0,158.2 L339.6,157.4 L339.2,156.5 L338.8,155.7 L338.4,154.9 L338.0,154.1 L337.6,153.2 L337.2,152.4 L336.8,151.6 L336.4,150.8 L336.0,149.9 L335.6,149.1 L335.1,148.3 L334.7,147.4 L334.3,146.6 L333.8,145.8 L333.4,144.9 L333.0,144.1 L332.5,143.3 L332.1,142.4 L331.6,141.6 L331.1,140.7 L330.7,139.9 L330.2,139.1 L329.7,138.2 L329.3,137.4 L328.8,136.5 L328.3,135.7 L327.8,134.8 L327.3,133.9 L326.8,133.1 L326.3,132.2 L325.8,131.4 L325.3,130.5 L324.8,129.6 L324.3,128.8 L323.8,127.9 L323.3,127.0 L322.7,126.1Z" fill="#1b7b65" stroke="#ffffff" stroke-opacity="0.75" stroke-width="1.0" paint-order="stroke" stroke-linejoin="round"/>
<path d="M321.9,126.7 L323.8,128.8 L325.6,130.8 L327.5,132.9 L329.3,135.0 L331.1,137.0 L332.9,139.1 L334.7,141.2 L336.4,143.3 L338.1,145.4 L339.9,147.5 L341.6,149.6 L343.3,151.8 L345.0,153.9 L346.6,156.0 L348.3,158.2 L349.9,160.3 L351.5,162.5 L353.1,164.7 L354.7,166.9 L356.3,169.0 L357.8,171.2 L359.4,173.4 L360.9,175.6 L362.4,177.8 L363.9,180.0 L365.4,182.3 L366.8,184.5 L368.3,186.7 L369.7,189.0 L371.1,191.2 L372.5,193.5 L373.9,195.7 L375.3,198.0 L376.7,200.3 L378.0,202.5 L379.3,204.8 L380.6,207.1 L381.9,209.4 L383.2,211.7 L384.5,214.0 L385.7,216.3 L387.0,218.7 L388.2,221.0 L389.4,223.3 L390.6,225.7 L391.8,228.0 L392.9,230.3 L394.1,232.7 L395.2,235.1 L396.3,237.4 L397.4,239.8 L398.5,242.2 L399.5,244.6 L400.6,246.9 L401.6,249.3 L402.7,251.7 L403.7,254.1 L404.7,256.5 L405.6,258.9 L406.6,261.4 L407.5,263.8 L408.5,266.2 L409.4,268.6 L410.3,271.1 L411.2,273.5 L412.1,276.0 L412.9,278.4 L413.7,280.9 L414.6,283.3 L415.4,285.8 L416.2,288.3 L417.0,290.7 L417.7,293.2 L418.5,295.7 L419.2,298.2 L419.9,300.7 L420.6,303.2 L421.3,305.7 L422.0,308.2 L422.7,310.7 L423.3,313.2 L423.9,315.7 L424.6,318.2 L425.2,320.8 L425.7,323.3 L426.3,325.8 L426.9,328.4 L427.4,330.9 L427.9,333.4 L428.4,336.0 L428.9,338.5 L429.4,341.1 L429.9,343.6 L430.3,346.2 L430.8,348.8 L431.2,351.3 L431.6,353.9 L432.0,356.5 L432.4,359.1 L432.7,361.6 L433.1,364.2 L433.4,366.8 L433.7,369.4 L434.0,372.0 L434.3,374.6 L434.6,377.2 L434.8,379.8 L435.1,382.4 L435.3,385.0 L435.5,387.6 L435.7,390.2 L435.9,392.9 L436.0,395.5 L436.2,398.1 L436.3,400.7 L436.5,403.4 L436.6,406.0 L436.7,408.6 L436.7,411.3 L436.8,413.9 L436.8,416.5 L436.9,419.2 L436.9,421.8 L436.9,424.5 L436.9,427.1 L436.9,429.8 L436.8,432.4 L436.8,435.1 L436.7,437.7 L436.6,440.4 L436.5,443.0 L436.4,445.7 L436.3,448.4 L436.1,451.0 L436.0,453.7 L435.8,456.4 L435.6,459.1 L435.4,461.7 L435.2,464.4 L434.9,467.1 L434.7,469.8 L434.4,472.4 L434.2,475.1 L433.9,477.8 L433.6,480.5 L433.2,483.2 L432.9,485.8 L432.6,488.5 L432.2,491.2 L431.8,493.9 L431.4,496.6 L431.0,499.3 L430.6,502.0 L430.1,504.7 L429.7,507.4 L429.2,510.1 L428.7,512.8 L428.2,515.5 L427.7,518.2 L421.1,516.4 L427.7,536.6 L442.5,521.4 L435.9,519.6 L436.4,516.9 L436.8,514.2 L437.3,511.4 L437.7,508.7 L438.1,505.9 L438.5,503.2 L438.9,500.4 L439.3,497.7 L439.6,495.0 L439.9,492.2 L440.3,489.5 L440.6,486.8 L440.9,484.0 L441.2,481.3 L441.4,478.6 L441.7,475.8 L441.9,473.1 L442.1,470.4 L442.3,467.7 L442.5,465.0 L442.7,462.2 L442.9,459.5 L443.0,456.8 L443.1,454.1 L443.2,451.4 L443.3,448.7 L443.4,446.0 L443.5,443.3 L443.5,440.6 L443.6,437.9 L443.6,435.2 L443.6,432.5 L443.6,429.8 L443.6,427.1 L443.6,424.4 L443.5,421.7 L443.5,419.1 L443.4,416.4 L443.3,413.7 L443.2,411.0 L443.0,408.4 L442.9,405.7 L442.7,403.0 L442.6,400.4 L442.4,397.7 L442.2,395.1 L442.0,392.4 L441.7,389.8 L441.5,387.1 L441.2,384.5 L441.0,381.8 L440.7,379.2 L440.4,376.6 L440.1,373.9 L439.7,371.3 L439.4,368.7 L439.0,366.1 L438.6,363.5 L438.2,360.8 L437.8,358.2 L437.4,355.6 L437.0,353.0 L436.5,350.4 L436.0,347.8 L435.5,345.3 L435.0,342.7 L434.5,340.1 L434.0,337.5 L433.5,335.0 L432.9,332.4 L432.3,329.8 L431.7,327.3 L431.1,324.7 L430.5,322.2 L429.9,319.6 L429.2,317.1 L428.5,314.5 L427.9,312.0 L427.2,309.5 L426.5,307.0 L425.7,304.4 L425.0,301.9 L424.2,299.4 L423.5,296.9 L422.7,294.4 L421.9,291.9 L421.1,289.4 L420.2,286.9 L419.4,284.5 L418.5,282.0 L417.6,279.5 L416.8,277.1 L415.8,274.6 L414.9,272.1 L414.0,269.7 L413.0,267.2 L412.1,264.8 L411.1,262.4 L410.1,260.0 L409.1,257.5 L408.1,255.1 L407.0,252.7 L406.0,250.3 L404.9,247.9 L403.8,245.5 L402.7,243.1 L401.6,240.7 L400.4,238.4 L399.3,236.0 L398.1,233.6 L397.0,231.3 L395.8,228.9 L394.5,226.6 L393.3,224.2 L392.1,221.9 L390.8,219.6 L389.6,217.3 L388.3,214.9 L387.0,212.6 L385.7,210.3 L384.3,208.0 L383.0,205.8 L381.6,203.5 L380.3,201.2 L378.9,198.9 L377.5,196.7 L376.1,194.4 L374.6,192.2 L373.2,189.9 L371.7,187.7 L370.2,185.5 L368.7,183.2 L367.2,181.0 L365.7,178.8 L364.2,176.6 L362.6,174.4 L361.0,172.2 L359.4,170.1 L357.8,167.9 L356.2,165.7 L354.6,163.6 L353.0,161.4 L351.3,159.3 L349.6,157.1 L347.9,155.0 L346.2,152.9 L344.5,150.8 L342.8,148.7 L341.0,146.6 L339.2,144.5 L337.5,142.4 L335.7,140.3 L333.9,138.3 L332.0,136.2 L330.2,134.2 L328.3,132.1 L326.5,130.1 L324.6,128.1 L322.7,126.1Z" fill="#1b7b65" stroke="#ffffff" stroke-opacity="0.75" stroke-width="1.0" paint-order="stroke" stroke-linejoin="round"/>
<path d="M322.0,126.8 L324.5,128.9 L326.9,131.1 L329.3,133.2 L331.7,135.4 L334.1,137.5 L336.5,139.7 L338.8,141.9 L341.1,144.1 L343.4,146.3 L345.7,148.5 L347.9,150.7 L350.2,152.9 L352.4,155.1 L354.5,157.4 L356.7,159.6 L358.8,161.8 L360.9,164.1 L363.0,166.3 L365.1,168.6 L367.1,170.9 L369.1,173.2 L371.1,175.4 L373.1,177.7 L375.0,180.0 L377.0,182.3 L378.9,184.6 L380.8,187.0 L382.6,189.3 L384.4,191.6 L386.3,194.0 L388.1,196.3 L389.8,198.7 L391.6,201.0 L393.3,203.4 L395.0,205.8 L396.7,208.1 L398.4,210.5 L400.0,212.9 L401.6,215.3 L403.2,217.7 L404.8,220.1 L406.4,222.6 L407.9,225.0 L409.4,227.4 L410.9,229.9 L412.4,232.3 L413.8,234.8 L415.3,237.2 L416.7,239.7 L418.1,242.2 L419.4,244.7 L420.8,247.1 L422.1,249.6 L423.4,252.1 L424.7,254.7 L425.9,257.2 L427.2,259.7 L428.4,262.2 L429.6,264.8 L430.8,267.3 L432.0,269.8 L433.1,272.4 L434.2,275.0 L435.3,277.5 L436.4,280.1 L437.5,282.7 L438.5,285.3 L439.5,287.9 L440.5,290.5 L441.5,293.1 L442.5,295.7 L443.4,298.3 L444.4,300.9 L445.3,303.6 L446.1,306.2 L447.0,308.9 L447.9,311.5 L448.7,314.2 L449.5,316.9 L450.3,319.5 L451.1,322.2 L451.8,324.9 L452.5,327.6 L453.3,330.3 L454.0,333.0 L454.6,335.7 L455.3,338.4 L455.9,341.2 L456.5,343.9 L457.1,346.6 L457.7,349.4 L458.3,352.1 L458.8,354.9 L459.4,357.7 L459.9,360.4 L460.4,363.2 L460.8,366.0 L461.3,368.8 L461.7,371.6 L462.2,374.4 L462.6,377.2 L462.9,380.0 L463.3,382.8 L463.7,385.7 L464.0,388.5 L464.3,391.4 L464.6,394.2 L464.9,397.1 L465.1,399.9 L465.4,402.8 L465.6,405.7 L465.8,408.6 L466.0,411.5 L466.2,414.3 L466.3,417.3 L466.5,420.2 L466.6,423.1 L466.7,426.0 L466.8,428.9 L466.9,431.9 L466.9,434.8 L467.0,437.8 L467.0,440.7 L467.0,443.7 L467.0,446.6 L467.0,449.6 L466.9,452.6 L466.8,455.6 L466.8,458.6 L466.7,461.6 L466.6,464.6 L466.4,467.6 L466.3,470.6 L466.1,473.6 L466.0,476.7 L465.8,479.7 L465.6,482.7 L465.3,485.8 L465.1,488.9 L464.9,491.9 L464.6,495.0 L464.3,498.1 L464.0,501.1 L463.7,504.2 L463.4,507.3 L463.0,510.4 L462.6,513.5 L462.3,516.7 L461.9,519.8 L461.5,522.9 L461.0,526.0 L460.6,529.2 L460.1,532.3 L459.7,535.5 L459.2,538.6 L458.7,541.8 L458.2,545.0 L457.6,548.1 L457.1,551.3 L450.8,549.3 L456.9,568.6 L471.6,554.7 L465.3,552.7 L465.8,549.4 L466.3,546.2 L466.7,543.0 L467.2,539.8 L467.6,536.6 L468.1,533.4 L468.5,530.2 L468.9,527.0 L469.3,523.9 L469.6,520.7 L470.0,517.5 L470.3,514.4 L470.6,511.2 L470.9,508.1 L471.2,505.0 L471.5,501.8 L471.7,498.7 L472.0,495.6 L472.2,492.5 L472.4,489.4 L472.6,486.3 L472.8,483.2 L472.9,480.1 L473.1,477.0 L473.2,474.0 L473.3,470.9 L473.4,467.8 L473.5,464.8 L473.6,461.7 L473.6,458.7 L473.6,455.7 L473.7,452.7 L473.7,449.6 L473.6,446.6 L473.6,443.6 L473.6,440.6 L473.5,437.6 L473.4,434.7 L473.3,431.7 L473.2,428.7 L473.0,425.7 L472.9,422.8 L472.7,419.8 L472.5,416.9 L472.3,413.9 L472.1,411.0 L471.9,408.1 L471.6,405.2 L471.3,402.3 L471.0,399.4 L470.7,396.5 L470.4,393.6 L470.1,390.7 L469.7,387.8 L469.3,385.0 L468.9,382.1 L468.5,379.2 L468.1,376.4 L467.6,373.5 L467.2,370.7 L466.7,367.9 L466.2,365.1 L465.6,362.3 L465.1,359.4 L464.5,356.6 L464.0,353.9 L463.4,351.1 L462.7,348.3 L462.1,345.5 L461.5,342.8 L460.8,340.0 L460.1,337.2 L459.4,334.5 L458.7,331.8 L457.9,329.0 L457.2,326.3 L456.4,323.6 L455.6,320.9 L454.7,318.2 L453.9,315.5 L453.0,312.8 L452.2,310.1 L451.3,307.5 L450.3,304.8 L449.4,302.1 L448.5,299.5 L447.5,296.8 L446.5,294.2 L445.5,291.6 L444.4,289.0 L443.4,286.3 L442.3,283.7 L441.2,281.1 L440.1,278.5 L439.0,276.0 L437.8,273.4 L436.6,270.8 L435.4,268.2 L434.2,265.7 L433.0,263.1 L431.7,260.6 L430.5,258.1 L429.2,255.5 L427.8,253.0 L426.5,250.5 L425.2,248.0 L423.8,245.5 L422.4,243.0 L421.0,240.5 L419.5,238.1 L418.1,235.6 L416.6,233.1 L415.1,230.7 L413.6,228.2 L412.0,225.8 L410.5,223.4 L408.9,220.9 L407.3,218.5 L405.6,216.1 L404.0,213.7 L402.3,211.3 L400.6,208.9 L398.9,206.6 L397.2,204.2 L395.4,201.8 L393.6,199.5 L391.9,197.1 L390.0,194.8 L388.2,192.5 L386.3,190.1 L384.4,187.8 L382.5,185.5 L380.6,183.2 L378.7,180.9 L376.7,178.6 L374.7,176.3 L372.7,174.1 L370.6,171.8 L368.6,169.5 L366.5,167.3 L364.4,165.1 L362.3,162.8 L360.1,160.6 L357.9,158.4 L355.7,156.2 L353.5,154.0 L351.3,151.8 L349.0,149.6 L346.7,147.4 L344.4,145.2 L342.1,143.1 L339.7,140.9 L337.4,138.8 L335.0,136.6 L332.5,134.5 L330.1,132.4 L327.6,130.2 L325.1,128.1 L322.6,126.0Z" fill="#1b7b65" stroke="#ffffff" stroke-opacity="0.75" stroke-width="1.0" paint-order="stroke" stroke-linejoin="round"/>
<path d="M322.1,126.9 L325.3,128.3 L328.5,129.8 L331.7,131.3 L334.8,132.9 L337.9,134.5 L341.0,136.1 L344.1,137.7 L347.1,139.3 L350.2,141.0 L353.2,142.7 L356.1,144.4 L359.1,146.2 L362.0,148.0 L364.9,149.8 L367.8,151.6 L370.7,153.5 L373.5,155.3 L376.4,157.2 L379.2,159.2 L381.9,161.1 L384.7,163.1 L387.4,165.1 L390.1,167.1 L392.8,169.1 L395.5,171.2 L398.2,173.3 L400.8,175.4 L403.4,177.5 L406.0,179.7 L408.5,181.8 L411.1,184.0 L413.6,186.2 L416.1,188.5 L418.6,190.7 L421.1,193.0 L423.5,195.3 L425.9,197.6 L428.3,200.0 L430.7,202.3 L433.1,204.7 L435.4,207.1 L437.7,209.5 L440.1,211.9 L442.3,214.4 L444.6,216.9 L446.8,219.3 L449.1,221.9 L451.3,224.4 L453.5,226.9 L455.6,229.5 L457.8,232.1 L459.9,234.6 L462.0,237.3 L464.1,239.9 L466.2,242.5 L468.3,245.2 L470.3,247.9 L472.4,250.5 L474.4,253.3 L476.3,256.0 L478.3,258.7 L480.3,261.5 L482.2,264.2 L484.1,267.0 L486.0,269.8 L487.9,272.6 L489.8,275.4 L491.6,278.3 L493.5,281.1 L495.3,284.0 L497.1,286.9 L498.9,289.7 L500.6,292.6 L502.4,295.6 L504.1,298.5 L505.8,301.4 L507.5,304.4 L509.2,307.3 L510.9,310.3 L512.5,313.3 L514.2,316.3 L515.8,319.3 L517.4,322.3 L519.0,325.3 L520.6,328.4 L522.1,331.4 L523.7,334.5 L525.2,337.6 L526.7,340.6 L528.2,343.7 L529.7,346.8 L531.2,349.9 L532.7,353.0 L534.1,356.1 L535.5,359.3 L536.9,362.4 L538.3,365.6 L539.7,368.7 L541.1,371.9 L542.5,375.0 L543.8,378.2 L545.1,381.4 L546.5,384.6 L547.8,387.8 L549.1,391.0 L550.3,394.2 L551.6,397.4 L552.8,400.6 L554.1,403.8 L555.3,407.0 L556.5,410.3 L557.7,413.5 L558.9,416.7 L560.1,420.0 L561.2,423.2 L562.4,426.5 L563.5,429.7 L564.7,433.0 L565.8,436.3 L566.9,439.5 L568.0,442.8 L569.0,446.1 L570.1,449.3 L571.2,452.6 L572.2,455.9 L573.2,459.2 L574.3,462.4 L575.3,465.7 L576.3,469.0 L577.3,472.3 L578.2,475.6 L579.2,478.9 L580.1,482.1 L581.1,485.4 L582.0,488.7 L583.0,492.0 L583.9,495.3 L584.8,498.6 L585.7,501.8 L586.5,505.1 L587.4,508.4 L588.3,511.7 L589.1,514.9 L590.0,518.2 L590.8,521.5 L591.6,524.8 L592.5,528.0 L593.3,531.3 L594.1,534.6 L594.8,537.8 L595.6,541.1 L596.4,544.3 L597.2,547.6 L597.9,550.8 L598.7,554.0 L599.4,557.3 L600.1,560.5 L600.8,563.7 L601.6,567.0 L595.0,568.3 L609.5,583.5 L616.5,563.7 L609.9,565.0 L609.2,561.8 L608.4,558.6 L607.6,555.4 L606.8,552.1 L606.1,548.9 L605.3,545.6 L604.4,542.4 L603.6,539.1 L602.8,535.8 L601.9,532.6 L601.1,529.3 L600.2,526.0 L599.4,522.8 L598.5,519.5 L597.6,516.2 L596.7,512.9 L595.8,509.6 L594.9,506.4 L594.0,503.1 L593.0,499.8 L592.1,496.5 L591.1,493.2 L590.2,489.9 L589.2,486.6 L588.2,483.3 L587.2,480.0 L586.2,476.7 L585.2,473.5 L584.2,470.2 L583.1,466.9 L582.1,463.6 L581.0,460.3 L579.9,457.0 L578.8,453.7 L577.8,450.4 L576.6,447.2 L575.5,443.9 L574.4,440.6 L573.2,437.3 L572.1,434.1 L570.9,430.8 L569.7,427.5 L568.6,424.3 L567.4,421.0 L566.1,417.8 L564.9,414.5 L563.7,411.3 L562.4,408.0 L561.1,404.8 L559.9,401.5 L558.6,398.3 L557.3,395.1 L556.0,391.9 L554.6,388.7 L553.3,385.5 L551.9,382.3 L550.5,379.1 L549.2,375.9 L547.8,372.7 L546.3,369.6 L544.9,366.4 L543.5,363.2 L542.0,360.1 L540.6,357.0 L539.1,353.8 L537.6,350.7 L536.1,347.6 L534.5,344.5 L533.0,341.4 L531.4,338.3 L529.9,335.2 L528.3,332.1 L526.7,329.1 L525.1,326.0 L523.4,323.0 L521.8,320.0 L520.1,317.0 L518.4,313.9 L516.7,310.9 L515.0,308.0 L513.3,305.0 L511.6,302.0 L509.8,299.1 L508.0,296.1 L506.3,293.2 L504.4,290.3 L502.6,287.4 L500.8,284.5 L498.9,281.6 L497.1,278.8 L495.2,275.9 L493.3,273.1 L491.3,270.3 L489.4,267.5 L487.5,264.7 L485.5,261.9 L483.5,259.2 L481.5,256.4 L479.5,253.7 L477.4,251.0 L475.4,248.3 L473.3,245.6 L471.2,242.9 L469.1,240.3 L466.9,237.6 L464.8,235.0 L462.6,232.4 L460.4,229.8 L458.2,227.3 L456.0,224.7 L453.8,222.2 L451.5,219.7 L449.2,217.2 L446.9,214.7 L444.6,212.3 L442.3,209.8 L439.9,207.4 L437.5,205.0 L435.1,202.6 L432.7,200.3 L430.3,197.9 L427.8,195.6 L425.4,193.3 L422.9,191.0 L420.4,188.8 L417.8,186.5 L415.3,184.3 L412.7,182.1 L410.1,180.0 L407.5,177.8 L404.9,175.7 L402.2,173.6 L399.5,171.5 L396.8,169.4 L394.1,167.4 L391.4,165.4 L388.6,163.4 L385.9,161.4 L383.1,159.5 L380.2,157.6 L377.4,155.7 L374.5,153.8 L371.6,152.0 L368.7,150.1 L365.8,148.3 L362.9,146.6 L359.9,144.8 L356.9,143.1 L353.9,141.4 L350.8,139.7 L347.8,138.1 L344.7,136.5 L341.6,134.9 L338.5,133.3 L335.3,131.8 L332.2,130.3 L329.0,128.8 L325.7,127.4 L322.5,125.9Z" fill="#1b7b65" stroke="#ffffff" stroke-opacity="0.75" stroke-width="1.0" paint-order="stroke" stroke-linejoin="round"/>
<circle cx="321.8" cy="126.2" r="4.9" fill="#fff" fill-opacity="0.85" stroke="#72bc72" stroke-width="3.2"/>
<text x="366.5" y="53.1" font-size="11.66" text-anchor="middle" class="bt" fill="#231f1f" stroke="#231f1f" stroke-width="0.35">桂林市</text>
<text x="313.6" y="78.7" font-size="11.21" text-anchor="middle" class="bt" fill="#231f1f" stroke="#231f1f" stroke-width="0.35">柳州市</text>
<text x="379.3" y="87.0" font-size="10.42" text-anchor="middle" class="bt" fill="#231f1f" stroke="#231f1f" stroke-width="0.35">平乐</text>
<text x="340.3" y="121.8" font-size="11.05" text-anchor="middle" class="bt" fill="#231f1f" stroke="#231f1f" stroke-width="0.35">融水</text>
<text x="386.2" y="258.4" font-size="11.21" text-anchor="middle" class="bt" fill="#231f1f" stroke="#231f1f" stroke-width="0.35">玉林市</text>
<text x="290.5" y="267.8" font-size="10.68" text-anchor="middle" class="bt" fill="#231f1f" stroke="#231f1f" stroke-width="0.35">浦北</text>
<text x="298.6" y="284.1" font-size="11.69" text-anchor="middle" class="bt" fill="#231f1f" stroke="#231f1f" stroke-width="0.35">钦州市</text>
<text x="359.8" y="292.3" font-size="10.74" text-anchor="middle" class="bt" fill="#231f1f" stroke="#231f1f" stroke-width="0.35">陆川</text>
<text x="603.9" y="206.7" font-size="10.10" text-anchor="middle" class="bt" fill="#231f1f" stroke="#231f1f" stroke-width="0.35">丰台区</text>
<text x="407.4" y="491.5" font-size="11.95" text-anchor="middle" class="bt" fill="#231f1f" stroke="#231f1f" stroke-width="0.35">黄冈</text>
<text x="447.4" y="541.5" font-size="10.58" text-anchor="middle" class="bt" fill="#231f1f" stroke="#231f1f" stroke-width="0.35">浠水</text>
<text x="436.8" y="570.9" font-size="10.58" text-anchor="middle" class="bt" fill="#231f1f" stroke="#231f1f" stroke-width="0.35">黄梅</text>
<text x="666.9" y="506.7" font-size="11.74" text-anchor="middle" class="bt" fill="#231f1f" stroke="#231f1f" stroke-width="0.35">合肥</text>
<text x="587.9" y="587.5" font-size="10.42" text-anchor="middle" class="bt" fill="#231f1f" stroke="#231f1f" stroke-width="0.35">潜山</text>
<text x="607.6" y="605.5" font-size="11.95" text-anchor="middle" class="bt" fill="#231f1f" stroke="#231f1f" stroke-width="0.35">安庆</text>
<text x="176.6" y="58.4" font-size="18.89" text-anchor="middle" class="bt" fill="#1f8a36" stroke="#1f8a36" stroke-width="0.5">广西</text>
<text x="748.0" y="131.6" font-size="19.11" text-anchor="middle" class="bt" fill="#1f8a36" stroke="#1f8a36" stroke-width="0.5">北京</text>
<text x="230.0" y="633.8" font-size="18.42" text-anchor="middle" class="bt" fill="#1f8a36" stroke="#1f8a36" stroke-width="0.5">湖北</text>
<text x="760.0" y="378.5" font-size="20.00" text-anchor="middle" class="bt" fill="#1f8a36" stroke="#1f8a36" stroke-width="0.5">安徽</text>
<polygon points="279.0,116.1 308.1,126.2 279.0,126.2" fill="#fff" stroke="#fff" stroke-width="2.4" stroke-linejoin="round"/>
<rect x="182.5" y="81.4" width="96.6" height="53.2" rx="3.2" fill="#fff" stroke="#fff" stroke-width="2.4"/>
<polygon points="279.0,116.1 308.1,126.2 279.0,126.2" fill="#2f9e40"/>
<rect x="182.5" y="81.4" width="96.6" height="53.2" rx="3.2" fill="#2f9e40"/>
<g transform="translate(229.3,93.7)"><path d="M5.0,-7.0 C8.6,-5.2 10.2,-1.5 9.7,1.2 C9.2,4.3 7.2,6.9 5.0,7.7 C6.6,5.8 7.9,3.6 8.1,0.9 C8.3,-2.1 7.1,-5 5.0,-7.0Z" fill="#c8922a"/><circle r="6.9" fill="none" stroke="#fff" stroke-width="1.3"/><path d="M-8.6,-5.4 C-6.5,-5.3 -4.8,-5.5 -3.6,-4.7 C-1.8,-1 -0.5,2.6 0.3,6.6 C-4.2,6.8 -7.3,3.6 -7.3,-0.4 C-7.3,-2.6 -7.6,-4.1 -8.6,-5.4Z" fill="#fff"/><path d="M0.7,5.8 L0.7,1.4 C1.4,0.2 2.4,-0.9 3.6,-1.7 C4.1,1.1 3.6,3.8 0.7,5.8Z" fill="#f39a2b"/></g>
<text x="231.1" y="116.0" font-size="10.2" class="bt" fill="#fff" stroke="#fff" stroke-width="0.3" letter-spacing="0.55" text-anchor="middle">柳州融水农产品</text>
<text x="231.1" y="127.4" font-size="10.2" class="bt" fill="#fff" stroke="#fff" stroke-width="0.3" letter-spacing="0.55" text-anchor="middle">供应链产业园</text>
<polygon points="421.0,55.4 391.1,65.7 421.0,65.7" fill="#fff" stroke="#fff" stroke-width="2.4" stroke-linejoin="round"/>
<rect x="420.9" y="20.9" width="96" height="54.1" rx="3.2" fill="#fff" stroke="#fff" stroke-width="2.4"/>
<polygon points="421.0,55.4 391.1,65.7 421.0,65.7" fill="#2f9e40"/>
<rect x="420.9" y="20.9" width="96" height="54.1" rx="3.2" fill="#2f9e40"/>
<g transform="translate(467.4,33.2)"><path d="M5.0,-7.0 C8.6,-5.2 10.2,-1.5 9.7,1.2 C9.2,4.3 7.2,6.9 5.0,7.7 C6.6,5.8 7.9,3.6 8.1,0.9 C8.3,-2.1 7.1,-5 5.0,-7.0Z" fill="#c8922a"/><circle r="6.9" fill="none" stroke="#fff" stroke-width="1.3"/><path d="M-8.6,-5.4 C-6.5,-5.3 -4.8,-5.5 -3.6,-4.7 C-1.8,-1 -0.5,2.6 0.3,6.6 C-4.2,6.8 -7.3,3.6 -7.3,-0.4 C-7.3,-2.6 -7.6,-4.1 -8.6,-5.4Z" fill="#fff"/><path d="M0.7,5.8 L0.7,1.4 C1.4,0.2 2.4,-0.9 3.6,-1.7 C4.1,1.1 3.6,3.8 0.7,5.8Z" fill="#f39a2b"/></g>
<text x="469.2" y="55.5" font-size="10.2" class="bt" fill="#fff" stroke="#fff" stroke-width="0.3" letter-spacing="0.55" text-anchor="middle">桂林平乐农产品</text>
<text x="469.2" y="66.9" font-size="10.2" class="bt" fill="#fff" stroke="#fff" stroke-width="0.3" letter-spacing="0.55" text-anchor="middle">供应链产业园</text>
<polygon points="265.5,247.6 294.8,257.3 265.5,257.6" fill="#fff" stroke="#fff" stroke-width="2.4" stroke-linejoin="round"/>
<rect x="169.6" y="213" width="95.9" height="52.7" rx="3.2" fill="#fff" stroke="#fff" stroke-width="2.4"/>
<polygon points="265.5,247.6 294.8,257.3 265.5,257.6" fill="#2f9e40"/>
<rect x="169.6" y="213" width="95.9" height="52.7" rx="3.2" fill="#2f9e40"/>
<g transform="translate(216.1,225.3)"><path d="M5.0,-7.0 C8.6,-5.2 10.2,-1.5 9.7,1.2 C9.2,4.3 7.2,6.9 5.0,7.7 C6.6,5.8 7.9,3.6 8.1,0.9 C8.3,-2.1 7.1,-5 5.0,-7.0Z" fill="#c8922a"/><circle r="6.9" fill="none" stroke="#fff" stroke-width="1.3"/><path d="M-8.6,-5.4 C-6.5,-5.3 -4.8,-5.5 -3.6,-4.7 C-1.8,-1 -0.5,2.6 0.3,6.6 C-4.2,6.8 -7.3,3.6 -7.3,-0.4 C-7.3,-2.6 -7.6,-4.1 -8.6,-5.4Z" fill="#fff"/><path d="M0.7,5.8 L0.7,1.4 C1.4,0.2 2.4,-0.9 3.6,-1.7 C4.1,1.1 3.6,3.8 0.7,5.8Z" fill="#f39a2b"/></g>
<text x="217.9" y="247.6" font-size="10.2" class="bt" fill="#fff" stroke="#fff" stroke-width="0.3" letter-spacing="0.55" text-anchor="middle">钦州浦北农产品</text>
<text x="217.9" y="259.0" font-size="10.2" class="bt" fill="#fff" stroke="#fff" stroke-width="0.3" letter-spacing="0.55" text-anchor="middle">供应链产业园</text>
<polygon points="388.0,528.3 417.0,537.7 388.0,538.2" fill="#fff" stroke="#fff" stroke-width="2.4" stroke-linejoin="round"/>
<rect x="292" y="493.5" width="96" height="52.6" rx="3.2" fill="#fff" stroke="#fff" stroke-width="2.4"/>
<polygon points="388.0,528.3 417.0,537.7 388.0,538.2" fill="#2f9e40"/>
<rect x="292" y="493.5" width="96" height="52.6" rx="3.2" fill="#2f9e40"/>
<g transform="translate(338.5,505.8)"><path d="M5.0,-7.0 C8.6,-5.2 10.2,-1.5 9.7,1.2 C9.2,4.3 7.2,6.9 5.0,7.7 C6.6,5.8 7.9,3.6 8.1,0.9 C8.3,-2.1 7.1,-5 5.0,-7.0Z" fill="#c8922a"/><circle r="6.9" fill="none" stroke="#fff" stroke-width="1.3"/><path d="M-8.6,-5.4 C-6.5,-5.3 -4.8,-5.5 -3.6,-4.7 C-1.8,-1 -0.5,2.6 0.3,6.6 C-4.2,6.8 -7.3,3.6 -7.3,-0.4 C-7.3,-2.6 -7.6,-4.1 -8.6,-5.4Z" fill="#fff"/><path d="M0.7,5.8 L0.7,1.4 C1.4,0.2 2.4,-0.9 3.6,-1.7 C4.1,1.1 3.6,3.8 0.7,5.8Z" fill="#f39a2b"/></g>
<text x="340.3" y="528.1" font-size="10.2" class="bt" fill="#fff" stroke="#fff" stroke-width="0.3" letter-spacing="0.55" text-anchor="middle">黄冈浠水农产品</text>
<text x="340.3" y="539.5" font-size="10.2" class="bt" fill="#fff" stroke="#fff" stroke-width="0.3" letter-spacing="0.55" text-anchor="middle">供应链产业园</text>
<polygon points="458.3,577.5 468.8,590.8 458.3,590.8" fill="#fff" stroke="#fff" stroke-width="2.4" stroke-linejoin="round"/>
<rect x="417" y="590.5" width="97" height="53.3" rx="3.2" fill="#fff" stroke="#fff" stroke-width="2.4"/>
<polygon points="458.3,577.5 468.8,590.8 458.3,590.8" fill="#2f9e40"/>
<rect x="417" y="590.5" width="97" height="53.3" rx="3.2" fill="#2f9e40"/>
<g transform="translate(464.0,602.8)"><path d="M5.0,-7.0 C8.6,-5.2 10.2,-1.5 9.7,1.2 C9.2,4.3 7.2,6.9 5.0,7.7 C6.6,5.8 7.9,3.6 8.1,0.9 C8.3,-2.1 7.1,-5 5.0,-7.0Z" fill="#c8922a"/><circle r="6.9" fill="none" stroke="#fff" stroke-width="1.3"/><path d="M-8.6,-5.4 C-6.5,-5.3 -4.8,-5.5 -3.6,-4.7 C-1.8,-1 -0.5,2.6 0.3,6.6 C-4.2,6.8 -7.3,3.6 -7.3,-0.4 C-7.3,-2.6 -7.6,-4.1 -8.6,-5.4Z" fill="#fff"/><path d="M0.7,5.8 L0.7,1.4 C1.4,0.2 2.4,-0.9 3.6,-1.7 C4.1,1.1 3.6,3.8 0.7,5.8Z" fill="#f39a2b"/></g>
<text x="465.8" y="625.1" font-size="10.2" class="bt" fill="#fff" stroke="#fff" stroke-width="0.3" letter-spacing="0.55" text-anchor="middle">黄冈黄梅农产品</text>
<text x="465.8" y="636.5" font-size="10.2" class="bt" fill="#fff" stroke="#fff" stroke-width="0.3" letter-spacing="0.55" text-anchor="middle">供应链产业园</text>
<polygon points="708.1,476.4 678.4,486.5 708.1,486.5" fill="#fff" stroke="#fff" stroke-width="2.4" stroke-linejoin="round"/>
<rect x="707.8" y="441.8" width="96" height="53.2" rx="3.2" fill="#fff" stroke="#fff" stroke-width="2.4"/>
<polygon points="708.1,476.4 678.4,486.5 708.1,486.5" fill="#2f9e40"/>
<rect x="707.8" y="441.8" width="96" height="53.2" rx="3.2" fill="#2f9e40"/>
<g transform="translate(756.5,453.2)"><circle cx="-5.85" cy="0" r="6" fill="#fff"/><circle cx="5.85" cy="0" r="6" fill="#fff"/><path d="M0.9,-6.6 L-0.9,6.6" stroke="#2f9e40" stroke-width="1.1"/><path d="M-7.4,0 L-0.2,-3.4" stroke="#2f9e40" stroke-width="2.1" stroke-linecap="round"/><path d="M1.0,-5.6 L6.2,0.5" stroke="#2f9e40" stroke-width="2.1" stroke-linecap="round"/><g fill="#fff"><rect x="-9.8" y="7.7" width="2.4" height="1.0"/><rect x="-5.6" y="7.7" width="2.4" height="1.0"/><rect x="-1.4" y="7.7" width="2.4" height="1.0"/><rect x="2.8" y="7.7" width="2.4" height="1.0"/><rect x="7.0" y="7.7" width="1.2" height="1.0"/></g></g>
<text x="756.1" y="476.4" font-size="10.2" class="bt" fill="#fff" stroke="#fff" stroke-width="0.3" letter-spacing="0.55" text-anchor="middle">安徽禾美科技</text>
<text x="756.1" y="487.8" font-size="10.2" class="bt" fill="#fff" stroke="#fff" stroke-width="0.3" letter-spacing="0.55" text-anchor="middle">有限公司</text>
<polygon points="651.4,575.7 622.5,585.1 651.4,585.1" fill="#fff" stroke="#fff" stroke-width="2.4" stroke-linejoin="round"/>
<rect x="651.4" y="540.6" width="96.3" height="53.6" rx="3.2" fill="#fff" stroke="#fff" stroke-width="2.4"/>
<polygon points="651.4,575.7 622.5,585.1 651.4,585.1" fill="#2f9e40"/>
<rect x="651.4" y="540.6" width="96.3" height="53.6" rx="3.2" fill="#2f9e40"/>
<g transform="translate(698.0,552.9)"><path d="M5.0,-7.0 C8.6,-5.2 10.2,-1.5 9.7,1.2 C9.2,4.3 7.2,6.9 5.0,7.7 C6.6,5.8 7.9,3.6 8.1,0.9 C8.3,-2.1 7.1,-5 5.0,-7.0Z" fill="#c8922a"/><circle r="6.9" fill="none" stroke="#fff" stroke-width="1.3"/><path d="M-8.6,-5.4 C-6.5,-5.3 -4.8,-5.5 -3.6,-4.7 C-1.8,-1 -0.5,2.6 0.3,6.6 C-4.2,6.8 -7.3,3.6 -7.3,-0.4 C-7.3,-2.6 -7.6,-4.1 -8.6,-5.4Z" fill="#fff"/><path d="M0.7,5.8 L0.7,1.4 C1.4,0.2 2.4,-0.9 3.6,-1.7 C4.1,1.1 3.6,3.8 0.7,5.8Z" fill="#f39a2b"/></g>
<text x="699.8" y="575.2" font-size="10.2" class="bt" fill="#fff" stroke="#fff" stroke-width="0.3" letter-spacing="0.55" text-anchor="middle">安庆潜山农产品</text>
<text x="699.8" y="586.6" font-size="10.2" class="bt" fill="#fff" stroke="#fff" stroke-width="0.3" letter-spacing="0.55" text-anchor="middle">供应链产业园</text>
</svg></body></html>
